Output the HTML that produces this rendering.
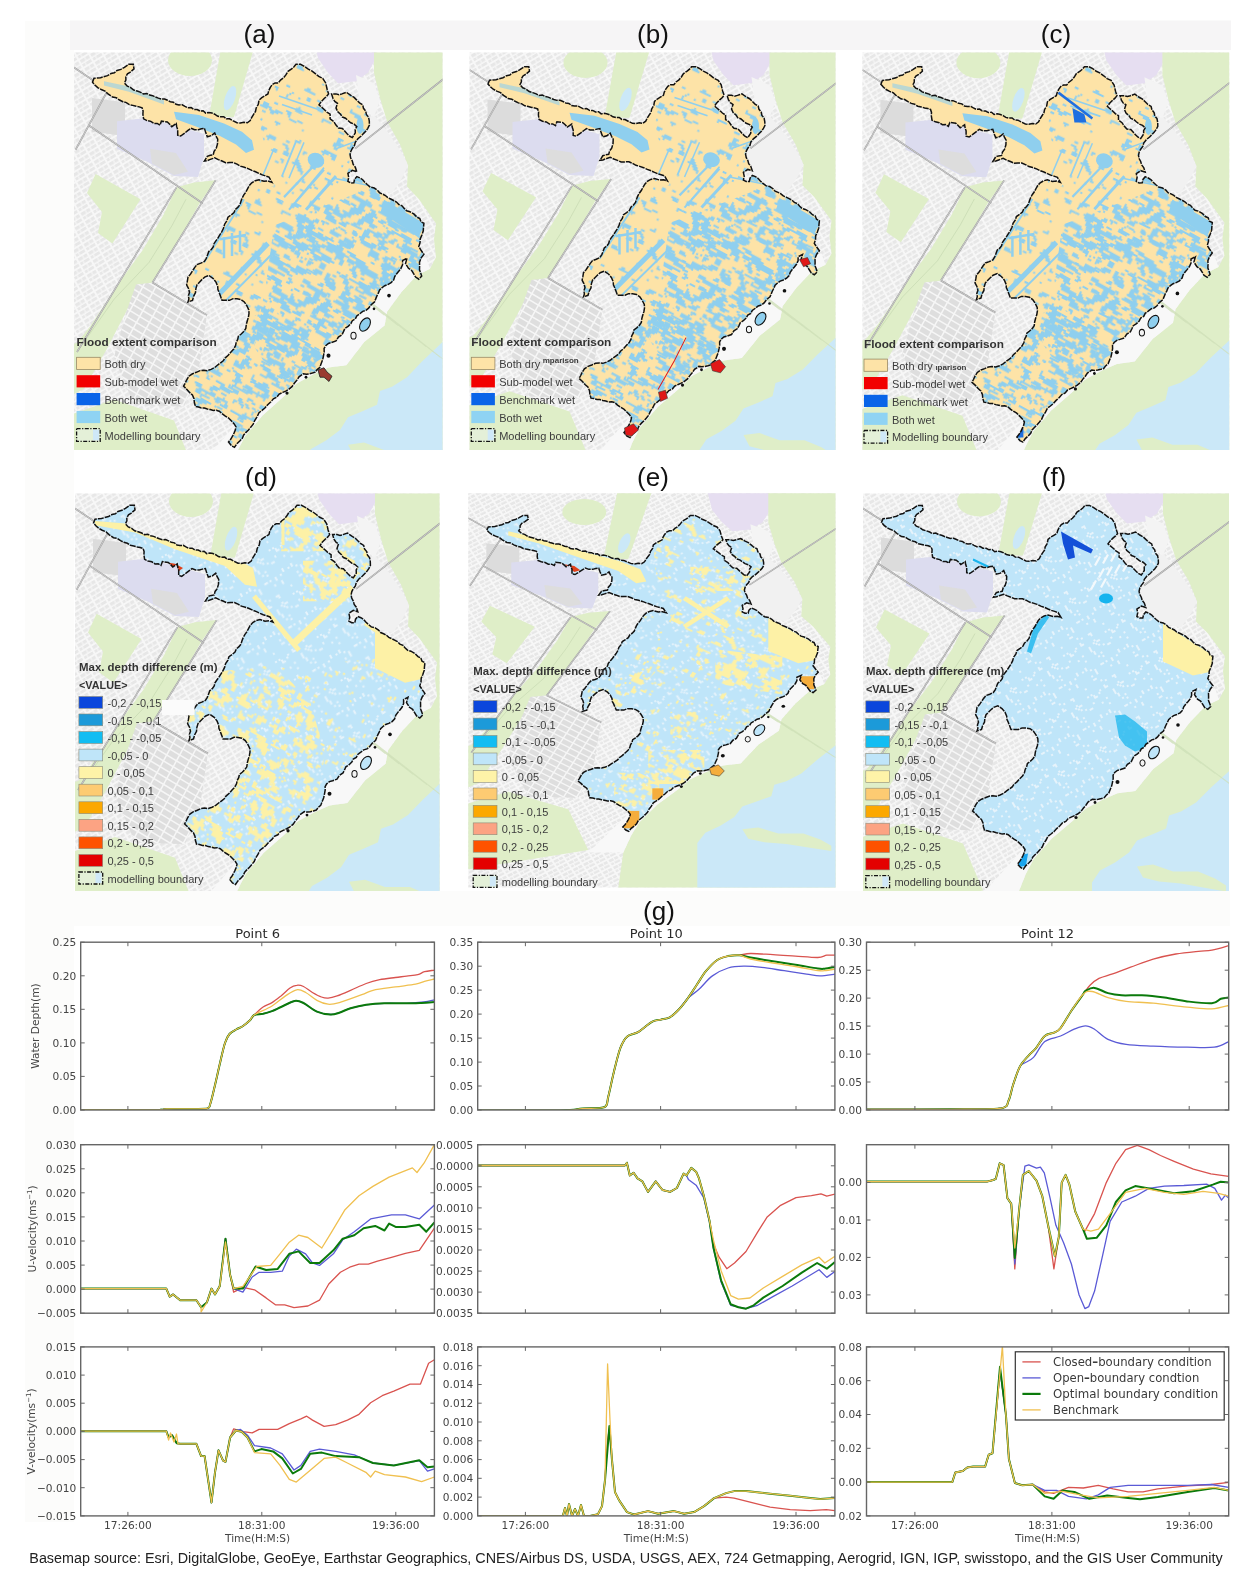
<!DOCTYPE html><html><head><meta charset="utf-8"><title>Flood extent comparison figure</title><style>html,body{margin:0;padding:0;background:#fff;}body{width:1249px;height:1580px;overflow:hidden;position:relative;}svg{display:block}body>svg{filter:blur(0.35px)}.tk{font-family:"DejaVu Sans",sans-serif;font-size:10.6px;fill:#444}.ct{font-family:"DejaVu Sans",sans-serif;font-size:13px;fill:#2a2a2a}.lg{font-family:"DejaVu Sans",sans-serif;font-size:11.6px;fill:#3a3a3a}.pt{font-family:"Liberation Sans",Arial,sans-serif;font-size:26px;fill:#111}.lgt{font-family:"Liberation Sans",Arial,sans-serif;font-size:11.6px;font-weight:bold;fill:#333}.lgl{font-family:"Liberation Sans",Arial,sans-serif;font-size:11px;fill:#3c3c3c}.lgs{font-family:"Liberation Sans",Arial,sans-serif;font-size:8px;font-weight:bold;fill:#3c3c3c}.cap{font-family:"Liberation Sans",Arial,sans-serif;font-size:14.35px;fill:#222}</style></head><body><svg width="1249" height="1580" viewBox="0 0 1249 1580"><defs><pattern id="urb" width="12" height="9" patternUnits="userSpaceOnUse" patternTransform="rotate(-30)"><path fill="#e7e7e7" d="M1 1h5v3h-5zM7 1h4v3h-4zM1 5.5h3v2.5h-3zM5 5.5h6v2.5h-6z"/></pattern><pattern id="wet_hi" width="96" height="96" patternUnits="userSpaceOnUse" patternTransform="rotate(28)"><path fill="#8fcfee" d="M26 0h12v2h-12zM42 0h10v2h-10zM66 0h2v2h-2zM72 0h22v2h-22zM26 2h10v2h-10zM40 2h12v2h-12zM68 2h8v2h-8zM88 2h8v2h-8zM12 4h2v2h-2zM26 4h6v2h-6zM40 4h18v2h-18zM70 4h2v2h-2zM90 4h2v2h-2zM0 6h2v2h-2zM12 6h4v2h-4zM20 6h10v2h-10zM38 6h6v2h-6zM50 6h6v2h-6zM66 6h6v2h-6zM78 6h4v2h-4zM88 6h8v2h-8zM0 8h10v2h-10zM12 8h6v2h-6zM22 8h8v2h-8zM38 8h6v2h-6zM60 8h6v2h-6zM68 8h4v2h-4zM76 8h4v2h-4zM88 8h8v2h-8zM0 10h26v2h-26zM38 10h4v2h-4zM50 10h20v2h-20zM74 10h6v2h-6zM90 10h6v2h-6zM4 12h4v2h-4zM12 12h12v2h-12zM48 12h6v2h-6zM58 12h6v2h-6zM68 12h6v2h-6zM4 14h8v2h-8zM22 14h2v2h-2zM28 14h4v2h-4zM48 14h6v2h-6zM64 14h8v2h-8zM4 16h12v2h-12zM24 16h6v2h-6zM48 16h8v2h-8zM66 16h6v2h-6zM8 18h10v2h-10zM22 18h8v2h-8zM38 18h4v2h-4zM48 18h4v2h-4zM66 18h2v2h-2zM90 18h2v2h-2zM8 20h12v2h-12zM38 20h6v2h-6zM46 20h6v2h-6zM60 20h6v2h-6zM76 20h2v2h-2zM92 20h2v2h-2zM26 22h6v2h-6zM48 22h18v2h-18zM84 22h6v2h-6zM10 24h4v2h-4zM40 24h2v2h-2zM50 24h14v2h-14zM0 26h4v2h-4zM42 26h4v2h-4zM62 26h10v2h-10zM0 28h4v2h-4zM18 28h12v2h-12zM34 28h10v2h-10zM62 28h10v2h-10zM84 28h2v2h-2zM94 28h2v2h-2zM18 30h10v2h-10zM34 30h12v2h-12zM62 30h12v2h-12zM80 30h16v2h-16zM0 32h2v2h-2zM6 32h6v2h-6zM30 32h6v2h-6zM38 32h8v2h-8zM70 32h2v2h-2zM78 32h18v2h-18zM0 34h4v2h-4zM22 34h2v2h-2zM30 34h14v2h-14zM78 34h10v2h-10zM92 34h4v2h-4zM0 36h2v2h-2zM8 36h6v2h-6zM16 36h10v2h-10zM32 36h4v2h-4zM68 36h4v2h-4zM80 36h6v2h-6zM90 36h6v2h-6zM0 38h20v2h-20zM30 38h8v2h-8zM42 38h10v2h-10zM82 38h14v2h-14zM0 40h18v2h-18zM20 40h18v2h-18zM46 40h18v2h-18zM82 40h8v2h-8zM92 40h4v2h-4zM0 42h4v2h-4zM22 42h20v2h-20zM54 42h14v2h-14zM84 42h6v2h-6zM94 42h2v2h-2zM0 44h4v2h-4zM22 44h20v2h-20zM46 44h34v2h-34zM88 44h8v2h-8zM8 46h2v2h-2zM22 46h8v2h-8zM34 46h8v2h-8zM46 46h8v2h-8zM56 46h26v2h-26zM88 46h8v2h-8zM8 48h6v2h-6zM34 48h10v2h-10zM54 48h4v2h-4zM62 48h18v2h-18zM86 48h6v2h-6zM8 50h10v2h-10zM34 50h2v2h-2zM40 50h4v2h-4zM54 50h4v2h-4zM64 50h4v2h-4zM78 50h4v2h-4zM86 50h4v2h-4zM0 52h6v2h-6zM10 52h22v2h-22zM40 52h4v2h-4zM52 52h8v2h-8zM78 52h8v2h-8zM94 52h2v2h-2zM0 54h14v2h-14zM22 54h14v2h-14zM56 54h6v2h-6zM66 54h4v2h-4zM76 54h8v2h-8zM86 54h10v2h-10zM0 56h6v2h-6zM10 56h22v2h-22zM58 56h4v2h-4zM86 56h10v2h-10zM0 58h4v2h-4zM14 58h10v2h-10zM66 58h12v2h-12zM90 58h6v2h-6zM16 60h4v2h-4zM24 60h6v2h-6zM42 60h4v2h-4zM56 60h24v2h-24zM94 60h2v2h-2zM0 62h2v2h-2zM12 62h4v2h-4zM24 62h6v2h-6zM46 62h10v2h-10zM68 62h20v2h-20zM92 62h4v2h-4zM0 64h2v2h-2zM8 64h2v2h-2zM24 64h6v2h-6zM52 64h6v2h-6zM66 64h2v2h-2zM74 64h10v2h-10zM92 64h4v2h-4zM0 66h2v2h-2zM34 66h4v2h-4zM52 66h6v2h-6zM66 66h10v2h-10zM4 68h4v2h-4zM12 68h2v2h-2zM34 68h4v2h-4zM56 68h4v2h-4zM22 70h4v2h-4zM34 70h6v2h-6zM56 70h6v2h-6zM84 70h6v2h-6zM14 72h12v2h-12zM34 72h12v2h-12zM58 72h6v2h-6zM68 72h8v2h-8zM84 72h8v2h-8zM4 74h12v2h-12zM36 74h12v2h-12zM56 74h8v2h-8zM70 74h6v2h-6zM4 76h12v2h-12zM38 76h10v2h-10zM56 76h4v2h-4zM64 76h18v2h-18zM0 78h14v2h-14zM56 78h14v2h-14zM74 78h22v2h-22zM0 80h8v2h-8zM56 80h10v2h-10zM74 80h14v2h-14zM16 82h8v2h-8zM36 82h2v2h-2zM72 82h22v2h-22zM16 84h28v2h-28zM54 84h14v2h-14zM84 84h12v2h-12zM22 86h22v2h-22zM52 86h16v2h-16zM2 88h4v2h-4zM16 88h4v2h-4zM32 88h6v2h-6zM44 88h6v2h-6zM62 88h32v2h-32zM4 90h4v2h-4zM32 90h6v2h-6zM46 90h6v2h-6zM64 90h22v2h-22zM2 92h4v2h-4zM24 92h6v2h-6zM32 92h8v2h-8zM44 92h10v2h-10zM58 92h6v2h-6zM66 92h10v2h-10zM12 94h6v2h-6zM28 94h10v2h-10zM42 94h8v2h-8zM56 94h6v2h-6zM82 94h12v2h-12z"/></pattern><pattern id="wet_mid" width="96" height="96" patternUnits="userSpaceOnUse" patternTransform="rotate(28)"><path fill="#8fcfee" d="M0 0h6v2h-6zM16 0h20v2h-20zM40 0h6v2h-6zM62 0h6v2h-6zM94 0h2v2h-2zM0 2h4v2h-4zM20 2h16v2h-16zM40 2h4v2h-4zM94 2h2v2h-2zM0 4h6v2h-6zM32 4h6v2h-6zM48 4h12v2h-12zM68 4h8v2h-8zM0 6h8v2h-8zM12 6h8v2h-8zM26 6h2v2h-2zM30 6h8v2h-8zM48 6h12v2h-12zM66 6h8v2h-8zM76 6h2v2h-2zM0 8h4v2h-4zM10 8h26v2h-26zM50 8h2v2h-2zM56 8h24v2h-24zM94 8h2v2h-2zM2 10h2v2h-2zM16 10h6v2h-6zM26 10h2v2h-2zM34 10h2v2h-2zM46 10h6v2h-6zM58 10h24v2h-24zM0 12h18v2h-18zM42 12h8v2h-8zM58 12h4v2h-4zM66 12h4v2h-4zM0 14h2v2h-2zM40 14h12v2h-12zM56 14h2v2h-2zM68 14h2v2h-2zM20 16h6v2h-6zM34 16h6v2h-6zM48 16h6v2h-6zM70 16h2v2h-2zM80 16h10v2h-10zM0 18h4v2h-4zM20 18h2v2h-2zM34 18h6v2h-6zM50 18h4v2h-4zM70 18h4v2h-4zM86 18h10v2h-10zM0 20h2v2h-2zM12 20h4v2h-4zM38 20h6v2h-6zM86 20h10v2h-10zM12 22h6v2h-6zM20 22h4v2h-4zM28 22h4v2h-4zM38 22h6v2h-6zM58 22h2v2h-2zM80 22h4v2h-4zM8 24h4v2h-4zM14 24h2v2h-2zM22 24h4v2h-4zM38 24h8v2h-8zM90 24h6v2h-6zM8 26h2v2h-2zM38 26h10v2h-10zM36 28h10v2h-10zM80 28h6v2h-6zM24 30h2v2h-2zM32 30h12v2h-12zM50 30h6v2h-6zM68 30h18v2h-18zM2 32h4v2h-4zM22 32h14v2h-14zM48 32h6v2h-6zM66 32h6v2h-6zM76 32h2v2h-2zM92 32h2v2h-2zM0 34h6v2h-6zM10 34h18v2h-18zM66 34h6v2h-6zM94 34h2v2h-2zM20 36h6v2h-6zM40 36h4v2h-4zM20 38h2v2h-2zM36 38h6v2h-6zM56 38h6v2h-6zM74 38h12v2h-12zM90 38h2v2h-2zM0 40h4v2h-4zM70 40h12v2h-12zM18 42h10v2h-10zM64 42h14v2h-14zM2 44h6v2h-6zM22 44h4v2h-4zM32 44h4v2h-4zM60 44h2v2h-2zM68 44h2v2h-2zM74 44h2v2h-2zM86 44h4v2h-4zM0 46h14v2h-14zM70 46h8v2h-8zM0 48h8v2h-8zM48 48h6v2h-6zM60 48h4v2h-4zM94 48h2v2h-2zM0 50h14v2h-14zM28 50h4v2h-4zM48 50h8v2h-8zM62 50h2v2h-2zM94 50h2v2h-2zM28 52h6v2h-6zM36 52h6v2h-6zM50 52h6v2h-6zM58 52h6v2h-6zM24 54h4v2h-4zM32 54h10v2h-10zM50 54h4v2h-4zM58 54h8v2h-8zM70 54h2v2h-2zM34 56h6v2h-6zM58 56h4v2h-4zM66 56h4v2h-4zM80 56h4v2h-4zM92 56h4v2h-4zM0 58h2v2h-2zM34 58h4v2h-4zM60 58h8v2h-8zM78 58h12v2h-12zM92 58h4v2h-4zM22 60h4v2h-4zM62 60h2v2h-2zM80 60h8v2h-8zM94 60h2v2h-2zM12 62h6v2h-6zM22 62h4v2h-4zM32 62h2v2h-2zM82 62h6v2h-6zM12 64h2v2h-2zM32 64h2v2h-2zM52 64h4v2h-4zM74 64h16v2h-16zM18 66h2v2h-2zM46 66h2v2h-2zM52 66h6v2h-6zM76 66h18v2h-18zM18 68h16v2h-16zM42 68h2v2h-2zM52 68h4v2h-4zM70 68h10v2h-10zM88 68h8v2h-8zM20 70h8v2h-8zM42 70h6v2h-6zM60 70h2v2h-2zM72 70h4v2h-4zM90 70h4v2h-4zM20 72h6v2h-6zM38 72h2v2h-2zM44 72h4v2h-4zM62 72h8v2h-8zM90 72h6v2h-6zM64 74h6v2h-6zM86 74h8v2h-8zM18 76h2v2h-2zM42 76h2v2h-2zM66 76h8v2h-8zM84 76h10v2h-10zM2 78h4v2h-4zM16 78h12v2h-12zM40 78h10v2h-10zM68 78h4v2h-4zM82 78h6v2h-6zM0 80h4v2h-4zM10 80h4v2h-4zM20 80h14v2h-14zM44 80h2v2h-2zM82 80h6v2h-6zM0 82h6v2h-6zM26 82h12v2h-12zM54 82h4v2h-4zM74 82h2v2h-2zM94 82h2v2h-2zM0 84h6v2h-6zM26 84h14v2h-14zM94 84h2v2h-2zM0 86h2v2h-2zM6 86h2v2h-2zM20 86h8v2h-8zM38 86h4v2h-4zM88 86h4v2h-4zM94 86h2v2h-2zM0 88h4v2h-4zM34 88h14v2h-14zM64 88h2v2h-2zM88 88h8v2h-8zM0 90h2v2h-2zM14 90h2v2h-2zM62 90h10v2h-10zM76 90h4v2h-4zM88 90h8v2h-8zM14 92h2v2h-2zM58 92h8v2h-8zM68 92h4v2h-4zM76 92h4v2h-4zM14 94h6v2h-6zM22 94h10v2h-10zM40 94h6v2h-6zM58 94h8v2h-8z"/></pattern><pattern id="wet_lo" width="96" height="96" patternUnits="userSpaceOnUse" patternTransform="rotate(25)"><path fill="#8fcfee" d="M2 0h2v2h-2zM26 0h6v2h-6zM52 0h6v2h-6zM50 2h10v2h-10zM86 2h6v2h-6zM38 4h4v2h-4zM56 4h6v2h-6zM90 4h6v2h-6zM40 6h2v2h-2zM58 6h6v2h-6zM34 8h4v2h-4zM62 8h2v2h-2zM16 12h6v2h-6zM66 12h2v2h-2zM78 12h2v2h-2zM16 14h8v2h-8zM66 14h4v2h-4zM80 14h4v2h-4zM4 16h2v2h-2zM74 16h4v2h-4zM46 18h2v2h-2zM62 18h2v2h-2zM52 22h2v2h-2zM68 22h4v2h-4zM86 22h4v2h-4zM0 26h8v2h-8zM34 28h4v2h-4zM62 28h2v2h-2zM82 28h2v2h-2zM32 30h12v2h-12zM82 30h12v2h-12zM88 32h6v2h-6zM14 34h4v2h-4zM48 34h4v2h-4zM38 36h4v2h-4zM68 36h8v2h-8zM22 38h2v2h-2zM38 38h4v2h-4zM66 38h8v2h-8zM4 40h4v2h-4zM20 40h2v2h-2zM30 40h2v2h-2zM50 40h8v2h-8zM66 40h4v2h-4zM6 42h2v2h-2zM18 42h2v2h-2zM52 42h6v2h-6zM82 42h2v2h-2zM18 44h2v2h-2zM76 44h12v2h-12zM74 46h6v2h-6zM86 46h2v2h-2zM34 48h2v2h-2zM60 48h10v2h-10zM76 48h4v2h-4zM32 50h6v2h-6zM60 50h2v2h-2zM32 52h8v2h-8zM80 52h6v2h-6zM10 54h4v2h-4zM24 56h6v2h-6zM0 58h6v2h-6zM26 58h4v2h-4zM82 58h6v2h-6zM0 60h10v2h-10zM14 60h8v2h-8zM28 60h2v2h-2zM38 60h6v2h-6zM82 60h4v2h-4zM0 62h6v2h-6zM8 62h10v2h-10zM30 62h8v2h-8zM82 62h8v2h-8zM94 62h2v2h-2zM10 64h4v2h-4zM80 64h8v2h-8zM2 66h4v2h-4zM46 66h2v2h-2zM80 66h4v2h-4zM82 68h4v2h-4zM18 70h6v2h-6zM20 72h2v2h-2zM4 74h2v2h-2zM74 74h14v2h-14zM48 76h2v2h-2zM72 76h8v2h-8zM82 76h6v2h-6zM44 78h6v2h-6zM74 78h2v2h-2zM84 78h4v2h-4zM0 80h2v2h-2zM8 80h6v2h-6zM8 82h4v2h-4zM36 82h4v2h-4zM18 84h8v2h-8zM56 84h4v2h-4zM16 86h10v2h-10zM34 86h6v2h-6zM56 86h2v2h-2zM18 88h2v2h-2zM38 88h4v2h-4zM68 88h8v2h-8zM6 90h10v2h-10zM40 90h2v2h-2zM38 92h6v2h-6zM68 92h6v2h-6zM86 92h4v2h-4zM28 94h4v2h-4zM38 94h6v2h-6zM52 94h4v2h-4zM68 94h6v2h-6z"/></pattern><pattern id="yel_hi" width="96" height="96" patternUnits="userSpaceOnUse" patternTransform="rotate(28)"><path fill="#fdf1a6" d="M0 0h6v2h-6zM14 0h6v2h-6zM26 0h14v2h-14zM54 0h6v2h-6zM82 0h10v2h-10zM0 2h4v2h-4zM16 2h16v2h-16zM40 2h2v2h-2zM50 2h10v2h-10zM68 2h2v2h-2zM72 2h6v2h-6zM86 2h10v2h-10zM8 4h22v2h-22zM38 4h4v2h-4zM46 4h2v2h-2zM50 4h8v2h-8zM66 4h16v2h-16zM86 4h6v2h-6zM94 4h2v2h-2zM8 6h16v2h-16zM34 6h4v2h-4zM42 6h16v2h-16zM64 6h18v2h-18zM12 8h10v2h-10zM30 8h4v2h-4zM44 8h2v2h-2zM48 8h10v2h-10zM62 8h22v2h-22zM94 8h2v2h-2zM12 10h10v2h-10zM30 10h2v2h-2zM52 10h10v2h-10zM64 10h18v2h-18zM0 12h2v2h-2zM10 12h14v2h-14zM52 12h8v2h-8zM62 12h18v2h-18zM86 12h2v2h-2zM10 14h14v2h-14zM42 14h4v2h-4zM52 14h14v2h-14zM72 14h8v2h-8zM84 14h4v2h-4zM4 16h18v2h-18zM28 16h4v2h-4zM34 16h2v2h-2zM40 16h28v2h-28zM72 16h4v2h-4zM82 16h10v2h-10zM2 18h16v2h-16zM26 18h48v2h-48zM80 18h12v2h-12zM14 20h22v2h-22zM40 20h10v2h-10zM66 20h4v2h-4zM80 20h4v2h-4zM86 20h8v2h-8zM8 22h6v2h-6zM18 22h16v2h-16zM44 22h4v2h-4zM84 22h10v2h-10zM2 24h2v2h-2zM8 24h4v2h-4zM18 24h18v2h-18zM42 24h10v2h-10zM64 24h2v2h-2zM70 24h2v2h-2zM84 24h10v2h-10zM2 26h4v2h-4zM12 26h2v2h-2zM20 26h18v2h-18zM42 26h4v2h-4zM48 26h6v2h-6zM60 26h6v2h-6zM84 26h4v2h-4zM2 28h4v2h-4zM12 28h4v2h-4zM30 28h6v2h-6zM48 28h6v2h-6zM56 28h10v2h-10zM92 28h2v2h-2zM2 30h4v2h-4zM12 30h4v2h-4zM32 30h4v2h-4zM42 30h10v2h-10zM58 30h8v2h-8zM82 30h2v2h-2zM0 32h8v2h-8zM18 32h4v2h-4zM30 32h4v2h-4zM44 32h2v2h-2zM48 32h2v2h-2zM58 32h8v2h-8zM72 32h24v2h-24zM16 34h4v2h-4zM30 34h4v2h-4zM62 34h8v2h-8zM74 34h12v2h-12zM90 34h6v2h-6zM30 36h6v2h-6zM62 36h4v2h-4zM74 36h10v2h-10zM92 36h4v2h-4zM10 38h2v2h-2zM28 38h8v2h-8zM48 38h2v2h-2zM60 38h4v2h-4zM68 38h14v2h-14zM90 38h2v2h-2zM22 40h28v2h-28zM66 40h20v2h-20zM2 42h4v2h-4zM24 42h26v2h-26zM70 42h4v2h-4zM78 42h6v2h-6zM88 42h6v2h-6zM6 44h2v2h-2zM12 44h4v2h-4zM18 44h4v2h-4zM24 44h10v2h-10zM36 44h14v2h-14zM70 44h8v2h-8zM84 44h12v2h-12zM0 46h2v2h-2zM8 46h6v2h-6zM16 46h8v2h-8zM26 46h8v2h-8zM36 46h12v2h-12zM68 46h10v2h-10zM84 46h4v2h-4zM0 48h4v2h-4zM6 48h8v2h-8zM16 48h6v2h-6zM26 48h10v2h-10zM40 48h8v2h-8zM50 48h2v2h-2zM58 48h2v2h-2zM62 48h6v2h-6zM72 48h6v2h-6zM4 50h8v2h-8zM18 50h18v2h-18zM44 50h16v2h-16zM72 50h8v2h-8zM88 50h6v2h-6zM4 52h6v2h-6zM18 52h18v2h-18zM44 52h16v2h-16zM72 52h10v2h-10zM88 52h8v2h-8zM0 54h8v2h-8zM22 54h6v2h-6zM36 54h4v2h-4zM44 54h6v2h-6zM56 54h8v2h-8zM66 54h6v2h-6zM74 54h10v2h-10zM88 54h8v2h-8zM10 56h4v2h-4zM22 56h6v2h-6zM34 56h10v2h-10zM58 56h14v2h-14zM78 56h6v2h-6zM90 56h2v2h-2zM20 58h8v2h-8zM32 58h12v2h-12zM60 58h10v2h-10zM76 58h10v2h-10zM0 60h6v2h-6zM14 60h6v2h-6zM32 60h10v2h-10zM48 60h2v2h-2zM66 60h14v2h-14zM92 60h4v2h-4zM0 62h4v2h-4zM36 62h6v2h-6zM46 62h6v2h-6zM56 62h4v2h-4zM68 62h12v2h-12zM86 62h10v2h-10zM2 64h2v2h-2zM22 64h2v2h-2zM38 64h4v2h-4zM48 64h16v2h-16zM70 64h6v2h-6zM82 64h10v2h-10zM20 66h6v2h-6zM28 66h6v2h-6zM58 66h4v2h-4zM70 66h10v2h-10zM82 66h6v2h-6zM0 68h6v2h-6zM24 68h14v2h-14zM60 68h2v2h-2zM72 68h4v2h-4zM82 68h4v2h-4zM0 70h6v2h-6zM26 70h2v2h-2zM38 70h2v2h-2zM44 70h10v2h-10zM84 70h2v2h-2zM0 72h12v2h-12zM26 72h2v2h-2zM30 72h4v2h-4zM42 72h10v2h-10zM74 72h22v2h-22zM0 74h10v2h-10zM16 74h2v2h-2zM26 74h8v2h-8zM40 74h14v2h-14zM64 74h8v2h-8zM76 74h20v2h-20zM0 76h10v2h-10zM30 76h6v2h-6zM38 76h20v2h-20zM60 76h18v2h-18zM80 76h10v2h-10zM92 76h4v2h-4zM0 78h10v2h-10zM30 78h36v2h-36zM68 78h24v2h-24zM94 78h2v2h-2zM0 80h10v2h-10zM26 80h10v2h-10zM38 80h12v2h-12zM58 80h2v2h-2zM64 80h4v2h-4zM70 80h10v2h-10zM0 82h18v2h-18zM22 82h10v2h-10zM48 82h8v2h-8zM66 82h14v2h-14zM88 82h2v2h-2zM0 84h14v2h-14zM48 84h8v2h-8zM68 84h4v2h-4zM76 84h6v2h-6zM0 86h12v2h-12zM34 86h6v2h-6zM42 86h14v2h-14zM66 86h4v2h-4zM74 86h16v2h-16zM0 88h14v2h-14zM32 88h6v2h-6zM40 88h10v2h-10zM52 88h8v2h-8zM66 88h30v2h-30zM0 90h10v2h-10zM12 90h4v2h-4zM18 90h8v2h-8zM34 90h16v2h-16zM52 90h24v2h-24zM88 90h8v2h-8zM6 92h6v2h-6zM20 92h8v2h-8zM30 92h12v2h-12zM54 92h10v2h-10zM68 92h28v2h-28zM8 94h2v2h-2zM22 94h18v2h-18zM56 94h6v2h-6zM70 94h22v2h-22z"/></pattern><pattern id="yel_mid" width="96" height="96" patternUnits="userSpaceOnUse" patternTransform="rotate(28)"><path fill="#fdf1a6" d="M6 0h10v2h-10zM26 0h6v2h-6zM44 0h14v2h-14zM84 0h2v2h-2zM88 0h4v2h-4zM8 2h6v2h-6zM26 2h10v2h-10zM46 2h14v2h-14zM84 2h2v2h-2zM88 2h4v2h-4zM0 4h4v2h-4zM32 4h8v2h-8zM46 4h12v2h-12zM74 4h2v2h-2zM0 6h4v2h-4zM20 6h4v2h-4zM30 6h10v2h-10zM66 6h2v2h-2zM72 6h8v2h-8zM88 6h4v2h-4zM94 6h2v2h-2zM0 8h6v2h-6zM16 8h4v2h-4zM22 8h4v2h-4zM30 8h8v2h-8zM70 8h10v2h-10zM84 8h8v2h-8zM94 8h2v2h-2zM16 10h18v2h-18zM52 10h2v2h-2zM70 10h6v2h-6zM90 10h6v2h-6zM18 12h16v2h-16zM52 12h2v2h-2zM70 12h6v2h-6zM90 12h6v2h-6zM18 14h2v2h-2zM28 14h2v2h-2zM32 14h4v2h-4zM52 14h8v2h-8zM68 14h2v2h-2zM26 16h4v2h-4zM52 16h8v2h-8zM0 18h4v2h-4zM10 18h4v2h-4zM72 18h2v2h-2zM0 20h2v2h-2zM8 20h6v2h-6zM22 20h4v2h-4zM68 20h8v2h-8zM94 20h2v2h-2zM0 22h2v2h-2zM8 22h6v2h-6zM22 22h4v2h-4zM38 22h6v2h-6zM70 22h16v2h-16zM0 24h8v2h-8zM16 24h4v2h-4zM24 24h2v2h-2zM40 24h6v2h-6zM66 24h4v2h-4zM78 24h10v2h-10zM94 24h2v2h-2zM58 26h4v2h-4zM66 26h4v2h-4zM84 26h8v2h-8zM58 28h14v2h-14zM78 28h14v2h-14zM16 30h6v2h-6zM26 30h2v2h-2zM60 30h12v2h-12zM82 30h14v2h-14zM10 32h2v2h-2zM14 32h8v2h-8zM40 32h6v2h-6zM62 32h6v2h-6zM70 32h4v2h-4zM82 32h12v2h-12zM18 34h4v2h-4zM30 34h4v2h-4zM38 34h14v2h-14zM56 34h12v2h-12zM78 34h2v2h-2zM88 34h6v2h-6zM12 36h2v2h-2zM20 36h2v2h-2zM34 36h18v2h-18zM60 36h10v2h-10zM90 36h4v2h-4zM4 38h12v2h-12zM22 38h4v2h-4zM36 38h4v2h-4zM44 38h6v2h-6zM66 38h2v2h-2zM2 40h14v2h-14zM20 40h6v2h-6zM44 40h4v2h-4zM56 40h4v2h-4zM6 42h8v2h-8zM48 42h4v2h-4zM56 42h4v2h-4zM72 42h2v2h-2zM80 42h2v2h-2zM88 42h4v2h-4zM8 44h4v2h-4zM34 44h4v2h-4zM48 44h6v2h-6zM78 44h4v2h-4zM90 44h2v2h-2zM24 46h2v2h-2zM36 46h2v2h-2zM50 46h4v2h-4zM78 46h14v2h-14zM6 48h10v2h-10zM26 48h2v2h-2zM50 48h8v2h-8zM78 48h10v2h-10zM2 50h16v2h-16zM24 50h2v2h-2zM46 50h10v2h-10zM74 50h10v2h-10zM0 52h18v2h-18zM38 52h18v2h-18zM78 52h4v2h-4zM94 52h2v2h-2zM0 54h10v2h-10zM12 54h6v2h-6zM34 54h8v2h-8zM44 54h4v2h-4zM50 54h6v2h-6zM82 54h2v2h-2zM94 54h2v2h-2zM14 56h6v2h-6zM36 56h6v2h-6zM44 56h4v2h-4zM52 56h2v2h-2zM18 58h8v2h-8zM40 58h2v2h-2zM52 58h4v2h-4zM72 58h4v2h-4zM80 58h8v2h-8zM18 60h6v2h-6zM62 60h12v2h-12zM78 60h12v2h-12zM16 62h10v2h-10zM62 62h20v2h-20zM0 64h2v2h-2zM12 64h6v2h-6zM30 64h2v2h-2zM70 64h10v2h-10zM14 66h6v2h-6zM26 66h6v2h-6zM42 66h4v2h-4zM52 66h2v2h-2zM74 66h2v2h-2zM84 66h4v2h-4zM4 68h12v2h-12zM20 68h12v2h-12zM58 68h4v2h-4zM76 68h12v2h-12zM6 70h8v2h-8zM42 70h4v2h-4zM58 70h2v2h-2zM76 70h10v2h-10zM88 70h2v2h-2zM2 72h8v2h-8zM40 72h6v2h-6zM56 72h4v2h-4zM80 72h4v2h-4zM90 72h2v2h-2zM0 74h6v2h-6zM8 74h12v2h-12zM62 74h4v2h-4zM80 74h12v2h-12zM0 76h4v2h-4zM14 76h16v2h-16zM62 76h6v2h-6zM0 78h2v2h-2zM18 78h6v2h-6zM28 78h2v2h-2zM56 78h2v2h-2zM80 78h6v2h-6zM94 78h2v2h-2zM8 80h4v2h-4zM18 80h6v2h-6zM26 80h6v2h-6zM56 80h2v2h-2zM80 80h8v2h-8zM8 82h6v2h-6zM18 82h14v2h-14zM40 82h2v2h-2zM54 82h4v2h-4zM62 82h4v2h-4zM82 82h6v2h-6zM0 84h2v2h-2zM6 84h10v2h-10zM18 84h16v2h-16zM40 84h2v2h-2zM56 84h2v2h-2zM62 84h6v2h-6zM72 84h4v2h-4zM84 84h4v2h-4zM94 84h2v2h-2zM8 86h8v2h-8zM20 86h8v2h-8zM32 86h6v2h-6zM62 86h4v2h-4zM70 86h6v2h-6zM84 86h2v2h-2zM2 88h2v2h-2zM10 88h4v2h-4zM22 88h4v2h-4zM32 88h6v2h-6zM50 88h2v2h-2zM62 88h4v2h-4zM74 88h2v2h-2zM0 90h4v2h-4zM12 90h2v2h-2zM22 90h4v2h-4zM34 90h4v2h-4zM48 90h4v2h-4zM60 90h8v2h-8zM0 92h2v2h-2zM12 92h2v2h-2zM34 92h4v2h-4zM46 92h6v2h-6zM56 92h6v2h-6zM64 92h8v2h-8zM28 94h4v2h-4zM46 94h6v2h-6z"/></pattern><pattern id="yel_vlo" width="96" height="96" patternUnits="userSpaceOnUse" patternTransform="rotate(28)"><path fill="#fdf1a6" d="M16 0h2v2h-2zM42 0h4v2h-4zM50 0h2v2h-2zM54 0h2v2h-2zM12 2h2v2h-2zM50 2h2v2h-2zM2 4h2v2h-2zM2 6h2v2h-2zM8 6h2v2h-2zM70 6h2v2h-2zM36 8h2v2h-2zM46 8h2v2h-2zM64 8h2v2h-2zM42 10h2v2h-2zM60 10h6v2h-6zM70 10h2v2h-2zM54 12h2v2h-2zM92 12h2v2h-2zM26 14h2v2h-2zM38 14h2v2h-2zM54 14h2v2h-2zM36 16h4v2h-4zM36 18h2v2h-2zM48 20h4v2h-4zM48 22h2v2h-2zM86 22h2v2h-2zM82 24h2v2h-2zM86 24h2v2h-2zM30 26h2v2h-2zM80 26h4v2h-4zM22 28h4v2h-4zM82 28h2v2h-2zM24 30h2v2h-2zM14 34h2v2h-2zM18 34h4v2h-4zM14 36h2v2h-2zM46 38h2v2h-2zM68 38h2v2h-2zM80 38h2v2h-2zM44 40h2v2h-2zM18 42h2v2h-2zM0 46h4v2h-4zM48 46h2v2h-2zM94 46h2v2h-2zM2 48h2v2h-2zM20 48h2v2h-2zM94 48h2v2h-2zM0 50h2v2h-2zM70 50h2v2h-2zM88 50h4v2h-4zM4 54h2v2h-2zM4 56h4v2h-4zM68 56h2v2h-2zM4 58h2v2h-2zM14 58h4v2h-4zM68 58h2v2h-2zM0 64h4v2h-4zM16 64h2v2h-2zM88 64h4v2h-4zM0 66h4v2h-4zM86 66h6v2h-6zM0 68h4v2h-4zM6 68h2v2h-2zM32 68h2v2h-2zM76 68h2v2h-2zM6 70h2v2h-2zM40 70h2v2h-2zM76 70h2v2h-2zM38 72h4v2h-4zM38 74h4v2h-4zM50 74h2v2h-2zM38 76h4v2h-4zM48 76h2v2h-2zM68 76h2v2h-2zM84 76h2v2h-2zM48 78h2v2h-2zM64 78h8v2h-8zM92 78h2v2h-2zM50 84h2v2h-2zM28 88h2v2h-2zM34 88h2v2h-2zM76 88h2v2h-2zM12 90h4v2h-4zM54 90h2v2h-2zM74 90h2v2h-2zM88 90h2v2h-2zM68 92h2v2h-2zM72 92h4v2h-4zM50 94h2v2h-2zM66 94h2v2h-2z"/></pattern><pattern id="yel_lo" width="96" height="96" patternUnits="userSpaceOnUse" patternTransform="rotate(28)"><path fill="#fdf1a6" d="M88 0h4v2h-4zM66 2h4v2h-4zM88 2h2v2h-2zM0 4h4v2h-4zM14 4h2v2h-2zM76 4h2v2h-2zM2 6h4v2h-4zM82 6h4v2h-4zM4 8h4v2h-4zM82 8h4v2h-4zM16 10h2v2h-2zM50 10h6v2h-6zM8 12h12v2h-12zM50 12h4v2h-4zM0 14h2v2h-2zM12 14h10v2h-10zM48 14h2v2h-2zM16 16h8v2h-8zM30 16h4v2h-4zM46 16h4v2h-4zM54 16h2v2h-2zM20 18h6v2h-6zM28 18h8v2h-8zM48 18h14v2h-14zM80 18h6v2h-6zM22 20h4v2h-4zM48 20h12v2h-12zM78 20h8v2h-8zM4 22h6v2h-6zM66 22h8v2h-8zM0 24h12v2h-12zM22 26h4v2h-4zM94 26h2v2h-2zM14 32h4v2h-4zM86 34h2v2h-2zM0 36h6v2h-6zM34 36h4v2h-4zM48 36h2v2h-2zM86 36h10v2h-10zM36 38h2v2h-2zM52 38h2v2h-2zM76 38h2v2h-2zM88 38h6v2h-6zM74 40h4v2h-4zM90 40h2v2h-2zM72 42h4v2h-4zM90 42h4v2h-4zM4 44h4v2h-4zM62 44h4v2h-4zM90 44h4v2h-4zM4 46h6v2h-6zM62 46h4v2h-4zM6 48h16v2h-16zM46 48h2v2h-2zM54 48h2v2h-2zM0 50h2v2h-2zM10 50h4v2h-4zM68 50h4v2h-4zM94 50h2v2h-2zM0 52h4v2h-4zM10 52h2v2h-2zM26 52h4v2h-4zM94 52h2v2h-2zM10 54h2v2h-2zM14 56h6v2h-6zM44 56h6v2h-6zM70 56h2v2h-2zM90 56h6v2h-6zM16 58h4v2h-4zM68 58h2v2h-2zM92 58h4v2h-4zM0 60h4v2h-4zM16 60h2v2h-2zM40 60h4v2h-4zM92 60h4v2h-4zM14 62h6v2h-6zM74 62h2v2h-2zM46 64h6v2h-6zM64 66h8v2h-8zM60 68h14v2h-14zM40 70h8v2h-8zM52 70h4v2h-4zM84 70h4v2h-4zM90 70h2v2h-2zM6 72h2v2h-2zM60 72h4v2h-4zM6 74h2v2h-2zM14 74h2v2h-2zM24 74h2v2h-2zM54 74h8v2h-8zM6 76h6v2h-6zM20 76h4v2h-4zM56 76h2v2h-2zM6 78h6v2h-6zM18 78h2v2h-2zM6 80h14v2h-14zM68 80h2v2h-2zM8 82h2v2h-2zM66 82h4v2h-4zM66 84h4v2h-4zM74 86h4v2h-4zM30 88h2v2h-2zM50 88h4v2h-4zM56 88h4v2h-4zM72 88h12v2h-12zM28 90h6v2h-6zM38 90h4v2h-4zM56 90h4v2h-4zM76 90h4v2h-4zM0 92h4v2h-4zM32 92h2v2h-2zM36 92h12v2h-12zM78 92h4v2h-4zM94 92h2v2h-2zM2 94h4v2h-4zM16 94h6v2h-6zM32 94h6v2h-6zM44 94h4v2h-4z"/></pattern><pattern id="white_dots" width="48" height="48" patternUnits="userSpaceOnUse" patternTransform="rotate(-30)"><path fill="#e6f3fb" d="M0 0h2v2h-2zM10 0h2v2h-2zM16 0h4v2h-4zM44 0h2v2h-2zM2 2h2v2h-2zM8 2h2v2h-2zM30 2h2v2h-2zM2 4h4v2h-4zM28 4h2v2h-2zM32 4h4v2h-4zM22 6h2v2h-2zM30 6h2v2h-2zM22 8h2v2h-2zM32 8h2v2h-2zM46 8h2v2h-2zM12 10h2v2h-2zM22 10h2v2h-2zM36 10h2v2h-2zM6 12h2v2h-2zM24 12h2v2h-2zM40 12h4v2h-4zM24 14h2v2h-2zM12 16h2v2h-2zM30 16h2v2h-2zM26 18h2v2h-2zM30 20h2v2h-2zM8 22h2v2h-2zM46 22h2v2h-2zM4 24h2v2h-2zM8 24h2v2h-2zM46 24h2v2h-2zM12 26h2v2h-2zM24 26h4v2h-4zM30 26h2v2h-2zM36 26h2v2h-2zM42 26h2v2h-2zM16 28h2v2h-2zM36 28h2v2h-2zM16 30h2v2h-2zM10 32h2v2h-2zM16 32h2v2h-2zM32 32h2v2h-2zM40 32h2v2h-2zM40 34h2v2h-2zM10 36h4v2h-4zM16 40h2v2h-2zM46 40h2v2h-2zM20 42h2v2h-2zM28 42h4v2h-4zM30 44h2v2h-2zM16 46h2v2h-2z"/></pattern><clipPath id="gbclip"><polygon points="62.0,221.0 80.0,219.0 133.0,250.0 125.0,300.0 110.0,337.0 60.0,335.0 40.0,290.0 52.0,248.0"/></clipPath><clipPath id="floodclip"><polygon points="18.5,28.9 20.0,25.2 23.2,24.9 26.5,24.6 29.6,23.7 33.5,22.7 37.0,20.7 40.3,20.0 43.0,17.8 46.9,16.7 50.4,14.8 54.8,11.9 59.3,11.9 60.0,16.3 56.3,19.3 53.5,21.0 51.8,23.7 51.9,26.8 50.4,29.6 53.3,32.6 56.7,34.0 59.7,36.3 63.2,37.3 66.7,38.5 69.5,40.1 72.8,39.6 75.6,41.1 78.7,41.7 81.5,43.0 84.4,44.0 87.4,44.9 90.6,44.8 93.5,46.0 96.3,47.4 99.4,47.9 102.0,49.9 105.0,50.5 108.2,50.3 111.0,51.8 113.8,53.2 117.2,53.0 119.9,54.7 123.2,54.8 126.0,56.3 129.1,56.0 131.7,58.2 134.9,57.6 137.9,58.2 140.7,59.3 143.4,61.0 146.4,61.7 149.7,61.6 152.3,63.6 155.5,63.7 159.2,65.6 163.0,67.4 166.4,67.7 169.9,66.9 173.3,67.4 176.2,65.3 177.8,62.2 179.6,59.4 181.5,56.6 182.2,53.3 184.3,49.9 185.0,45.9 187.8,43.6 190.8,41.8 193.9,40.0 194.8,36.8 196.3,33.8 198.3,31.1 201.1,29.6 204.3,29.6 206.5,26.9 209.4,24.8 211.7,22.2 214.0,18.6 217.6,16.3 220.0,14.3 222.0,11.9 226.5,11.9 230.3,13.8 233.9,16.3 237.8,18.2 241.3,20.7 244.7,23.4 248.7,25.2 251.7,29.6 252.4,32.6 253.1,35.6 254.6,40.0 252.6,42.4 250.2,44.4 247.2,47.4 245.0,50.4 247.6,52.6 250.2,54.8 252.9,57.3 256.1,59.3 256.1,63.7 259.6,66.1 262.0,69.6 264.5,72.3 268.4,72.8 270.9,75.5 273.1,77.8 275.4,80.0 278.3,81.5 281.3,77.0 281.2,73.8 282.8,71.1 280.1,68.7 276.7,67.4 273.9,65.2 271.5,63.1 268.4,62.0 266.5,59.3 263.6,56.8 262.0,53.3 263.5,48.9 260.8,47.1 259.0,44.4 257.6,40.0 262.0,40.0 265.0,40.8 268.0,40.0 272.4,38.5 276.8,41.5 280.1,43.3 282.8,45.9 285.5,48.5 288.7,50.4 289.5,53.7 291.7,56.3 292.4,59.6 294.6,62.2 295.3,65.9 295.4,69.6 293.8,72.7 291.7,75.5 289.4,77.7 287.2,80.0 283.9,82.6 281.3,85.9 280.4,89.2 278.3,91.8 276.8,94.6 276.1,97.8 276.7,100.9 278.3,103.7 279.2,106.9 281.3,109.6 282.8,114.0 278.3,112.6 273.9,115.5 274.7,119.2 273.9,123.0 276.7,124.5 279.8,124.4 280.6,121.1 282.8,118.5 285.9,119.7 288.7,121.5 290.8,123.9 293.2,126.0 296.3,128.5 300.2,129.4 303.5,131.5 305.6,133.9 308.6,135.1 311.4,136.5 313.8,138.5 316.7,139.8 319.6,141.2 322.5,142.7 324.9,145.0 328.0,146.2 330.2,148.7 332.7,150.9 335.9,151.8 339.8,153.9 343.0,157.0 345.8,158.3 347.0,161.5 349.9,162.8 349.5,166.5 349.2,170.2 347.9,174.0 346.2,177.6 346.0,181.4 344.8,185.0 347.2,188.7 349.9,192.3 347.2,195.7 345.5,199.7 345.6,203.3 345.5,207.0 346.7,210.0 347.7,213.0 344.8,215.9 341.6,213.9 339.6,210.7 337.6,207.6 334.5,205.6 331.5,201.1 333.0,196.0 328.6,198.2 328.6,202.1 327.0,205.6 324.9,208.2 322.7,210.7 320.7,213.4 319.7,216.6 317.1,219.3 313.8,221.0 310.7,222.1 308.0,224.0 305.6,226.2 304.3,229.2 302.8,232.0 300.5,237.5 297.2,240.1 294.6,243.4 292.0,245.5 288.7,246.4 285.8,248.7 282.8,250.8 281.3,253.7 278.3,255.3 276.8,258.2 274.1,260.7 270.9,262.7 269.5,265.7 268.0,268.6 264.4,270.9 262.0,274.5 257.6,276.0 254.4,276.9 251.7,279.0 250.1,281.7 250.2,284.9 249.5,288.6 248.7,292.3 247.2,296.0 245.7,299.7 243.2,301.7 241.3,304.2 238.4,305.0 235.4,305.7 232.4,306.1 229.4,305.7 225.0,308.6 222.9,311.7 220.5,314.5 218.0,317.9 214.6,320.5 211.7,322.1 208.7,323.4 205.2,325.0 202.8,327.9 199.4,329.4 196.9,332.3 193.7,335.1 190.9,338.2 188.0,340.5 185.0,342.7 183.1,346.5 180.7,350.1 179.2,353.5 176.9,356.3 174.5,359.0 172.0,361.3 169.7,363.7 168.3,366.9 166.0,369.3 162.9,372.1 160.5,375.5 157.5,374.0 154.5,370.5 156.7,367.9 158.5,365.0 160.0,362.0 161.3,359.1 162.0,356.0 160.0,353.0 157.0,350.1 154.3,347.5 151.0,345.6 148.0,343.6 145.2,341.2 142.3,340.3 139.2,340.6 136.3,339.7 133.3,339.2 130.4,338.2 127.4,338.2 124.5,337.2 121.5,336.8 120.4,333.2 120.0,329.4 118.4,325.9 115.5,323.4 112.7,320.3 109.6,317.5 111.2,314.6 112.6,311.6 114.9,308.0 118.5,305.7 122.3,304.3 126.0,302.7 129.7,302.3 133.3,302.7 137.1,301.5 140.7,299.7 143.6,297.4 146.6,295.3 149.2,293.4 151.0,290.8 154.2,288.1 157.0,285.0 159.7,282.3 161.5,279.0 162.2,275.9 163.7,273.1 164.4,270.0 167.2,267.9 169.7,265.6 171.8,262.7 172.3,258.9 173.3,255.3 174.4,252.0 175.0,248.5 174.8,245.0 172.8,241.1 170.3,237.5 167.0,235.2 163.0,234.5 159.1,234.4 155.5,236.0 151.8,236.0 148.0,236.0 146.6,232.3 145.2,228.6 143.9,225.8 143.7,222.7 142.0,218.7 139.2,215.3 134.8,212.3 130.7,213.9 127.4,216.8 125.2,219.0 123.0,221.2 121.9,224.8 121.5,228.6 119.6,232.2 118.5,236.0 114.0,237.5 114.9,234.6 114.4,231.5 115.5,228.6 114.5,224.7 112.6,221.2 113.4,217.5 114.0,213.8 116.5,211.1 118.5,208.0 120.6,204.9 123.0,202.0 126.8,200.7 130.4,199.0 132.3,196.1 133.6,192.8 134.8,189.6 137.3,187.7 139.2,185.2 140.0,182.2 141.7,179.7 143.6,177.3 145.2,174.8 147.6,171.2 149.6,167.4 150.6,163.7 152.8,160.6 154.0,157.0 157.1,155.0 160.0,152.6 161.4,149.6 164.0,147.5 166.0,145.0 167.0,141.9 168.2,138.8 169.8,135.9 171.8,133.3 173.5,130.1 175.3,127.0 177.8,124.4 181.2,122.4 185.0,121.5 190.0,123.0 194.1,122.7 198.0,124.0 195.0,119.0 191.6,117.9 188.3,116.9 185.0,115.5 181.5,113.9 177.8,112.6 174.1,110.9 170.3,109.6 166.5,108.6 163.0,106.7 159.4,105.2 155.5,105.2 151.6,105.3 148.0,103.7 144.3,102.4 140.7,100.7 136.3,102.2 133.4,103.3 130.4,103.7 133.3,99.2 136.2,98.3 139.2,97.8 140.1,94.5 142.2,91.8 143.5,87.5 143.7,83.0 142.0,80.1 140.7,77.0 137.4,79.6 133.3,80.7 131.8,77.0 130.4,72.6 127.4,73.1 124.4,74.0 120.6,74.0 117.0,72.6 114.0,74.7 111.0,77.0 106.7,80.0 103.7,79.2 103.7,74.0 102.7,71.1 102.2,68.1 97.8,71.1 95.7,68.8 93.3,66.7 87.4,65.9 86.0,69.6 83.2,68.0 80.0,68.1 76.8,66.1 73.0,65.3 69.6,63.7 68.9,59.3 69.1,56.2 68.1,53.3 65.2,52.3 62.2,51.8 58.8,50.9 55.3,50.2 52.3,48.3 48.9,47.4 45.5,45.8 42.3,43.7 38.5,43.0 34.0,40.0 31.0,37.3 27.2,35.8 23.7,34.0 20.9,31.6"/></clipPath></defs><rect x="0" y="0" width="1249" height="1580" fill="#fff"/><rect x="25" y="21" width="49" height="1501" fill="#fcfcfb"/><rect x="25" y="891" width="1205" height="35" fill="#fcfcfb"/><rect x="70" y="20.5" width="1161" height="29.5" fill="#f6f5f6"/><svg x="74.0" y="52.5" width="368.5" height="397.5" viewBox="0 0 368.5 397.5" overflow="hidden"><g transform="translate(0,-0.74) scale(1,1.0534)"><rect x="-20" y="-40" width="420" height="480" fill="#f7f7f7"/><rect x="-20" y="-40" width="420" height="480" fill="url(#urb)"/><polygon points="18.0,44.0 51.0,48.0 51.0,80.0 18.0,76.0" fill="#dcdcdc"/><ellipse cx="116" cy="8" rx="22" ry="15" fill="#dfeec8"/><polygon points="150.0,-20.0 185.0,-20.0 160.0,62.0 135.0,62.0" fill="#dfeec8"/><polygon points="102.5,128.7 120.0,124.0 141.7,122.0 126.5,142.3 112.0,166.7 96.0,192.5 78.5,218.4 52.8,245.7 32.0,283.6 10.0,320.0 -10.0,330.0 -10.0,280.0 3.2,276.2 16.0,260.9 48.0,215.3 68.9,188.0 89.7,154.5" fill="#dfeec8"/><polyline points="3.0,285.0 40.0,235.0 75.0,200.0 98.0,165.0 112.0,140.0" fill="none" stroke="#c9dbb4" stroke-width="0.8"/><ellipse cx="156" cy="44" rx="5" ry="12" fill="#cbe8f8" transform="rotate(20 156 44)"/><polygon points="21.6,116.0 66.5,140.0 38.4,182.0 24.0,172.0 28.0,152.0 13.0,134.0" fill="#dfeec8"/><polygon points="-5.0,345.0 40.0,330.0 100.0,350.0 120.0,397.0 -5.0,420.0" fill="#dfeec8"/><polygon points="62.0,221.0 80.0,219.0 133.0,250.0 125.0,300.0 110.0,337.0 60.0,335.0 40.0,290.0 52.0,248.0" fill="#dedede"/><g stroke="#f6f6f6" stroke-width="1.5" clip-path="url(#gbclip)"><line x1="20" y1="135.0" x2="150" y2="210.0"/><line x1="20" y1="142.5" x2="150" y2="217.5"/><line x1="20" y1="150.0" x2="150" y2="225.0"/><line x1="20" y1="157.5" x2="150" y2="232.5"/><line x1="20" y1="165.0" x2="150" y2="240.0"/><line x1="20" y1="172.5" x2="150" y2="247.5"/><line x1="20" y1="180.0" x2="150" y2="255.0"/><line x1="20" y1="187.5" x2="150" y2="262.5"/><line x1="20" y1="195.0" x2="150" y2="270.0"/><line x1="20" y1="202.5" x2="150" y2="277.5"/><line x1="20" y1="210.0" x2="150" y2="285.0"/><line x1="20" y1="217.5" x2="150" y2="292.5"/><line x1="20" y1="225.0" x2="150" y2="300.0"/><line x1="20" y1="232.5" x2="150" y2="307.5"/><line x1="20" y1="240.0" x2="150" y2="315.0"/><line x1="20" y1="247.5" x2="150" y2="322.5"/><line x1="20" y1="255.0" x2="150" y2="330.0"/><line x1="20" y1="262.5" x2="150" y2="337.5"/><line x1="20" y1="270.0" x2="150" y2="345.0"/><line x1="20" y1="277.5" x2="150" y2="352.5"/><line x1="20" y1="285.0" x2="150" y2="360.0"/><line x1="20" y1="292.5" x2="150" y2="367.5"/><line x1="20" y1="300.0" x2="150" y2="375.0"/><line x1="20" y1="307.5" x2="150" y2="382.5"/><line x1="20" y1="315.0" x2="150" y2="390.0"/><line x1="20" y1="322.5" x2="150" y2="397.5"/><line x1="20" y1="330.0" x2="150" y2="405.0"/><line x1="20" y1="337.5" x2="150" y2="412.5"/><line x1="-22.0" y1="200" x2="-102.0" y2="340"/><line x1="-9.0" y1="200" x2="-89.0" y2="340"/><line x1="4.0" y1="200" x2="-76.0" y2="340"/><line x1="17.0" y1="200" x2="-63.0" y2="340"/><line x1="30.0" y1="200" x2="-50.0" y2="340"/><line x1="43.0" y1="200" x2="-37.0" y2="340"/><line x1="56.0" y1="200" x2="-24.0" y2="340"/><line x1="69.0" y1="200" x2="-11.0" y2="340"/><line x1="82.0" y1="200" x2="2.0" y2="340"/><line x1="95.0" y1="200" x2="15.0" y2="340"/><line x1="108.0" y1="200" x2="28.0" y2="340"/><line x1="121.0" y1="200" x2="41.0" y2="340"/><line x1="134.0" y1="200" x2="54.0" y2="340"/><line x1="147.0" y1="200" x2="67.0" y2="340"/><line x1="160.0" y1="200" x2="80.0" y2="340"/><line x1="173.0" y1="200" x2="93.0" y2="340"/><line x1="186.0" y1="200" x2="106.0" y2="340"/><line x1="199.0" y1="200" x2="119.0" y2="340"/></g><polygon points="43.0,66.0 72.0,63.0 100.0,70.0 130.0,78.0 130.0,100.0 124.0,119.0 100.0,118.0 72.0,104.0 43.0,92.0" fill="#dcdcef"/><polygon points="76.0,92.0 102.0,96.0 114.0,114.0 100.0,117.0 78.0,106.0" fill="#dddddd"/><polygon points="238.0,-20.0 300.0,-20.0 302.0,6.0 294.0,20.0 282.0,28.0 264.0,30.0 254.0,20.0 244.0,6.0" fill="#e6def1"/><polygon points="300.0,-20.0 400.0,-20.0 400.0,440.0 150.0,440.0 155.0,400.0 163.0,380.0 170.8,365.2 188.8,345.0 209.0,328.0 222.4,315.2 240.0,306.0 254.4,299.8 272.3,297.5 290.2,275.6 310.6,259.8 313.2,246.5 327.3,228.2 342.6,212.5 356.0,206.0 362.0,195.0 360.0,178.0 362.0,163.0 345.0,140.0 333.0,128.0 334.0,108.0 326.0,88.0 313.0,66.0 306.0,44.0 300.0,20.0" fill="#dfeec8"/><polygon points="352.0,195.0 356.0,206.0 342.6,212.5 327.3,228.2 313.2,246.5 310.6,259.8 290.2,275.6 272.3,297.5 254.4,299.8 240.0,306.0 222.4,315.2 209.0,328.0 188.8,345.0 170.8,365.2 163.0,380.0 155.0,400.0 120.0,400.0 300.0,200.0" fill="#f8f8f8"/><polygon points="278.0,72.0 300.0,60.0 312.0,74.0 328.0,96.0 334.0,108.0 328.0,120.0 318.0,134.0 300.0,130.0 284.0,120.0 276.0,100.0" fill="#f1f1f1"/><polygon points="282.0,22.0 300.0,30.0 306.0,46.0 300.0,62.0 286.0,50.0" fill="#f4f4f4"/><polygon points="400.0,250.0 368.0,276.0 348.0,294.0 333.0,309.0 318.0,318.0 306.0,322.0 303.0,335.0 289.0,341.0 274.0,347.0 266.0,359.0 252.0,369.0 237.0,377.0 229.0,389.0 229.0,440.0 400.0,440.0" fill="#cbe8f8"/><polygon points="274.0,373.0 290.0,371.0 310.0,378.0 335.0,378.0 352.0,385.0 363.0,392.0 363.0,398.0 340.0,394.0 318.0,390.0 296.0,388.0 280.0,384.0" fill="#dfeec8"/><line x1="230" y1="190" x2="310" y2="250" stroke="#cfe0b8" stroke-width="0.6"/><line x1="244" y1="200" x2="324" y2="260" stroke="#cfe0b8" stroke-width="0.6"/><line x1="258" y1="210" x2="338" y2="270" stroke="#cfe0b8" stroke-width="0.6"/><line x1="272" y1="220" x2="352" y2="280" stroke="#cfe0b8" stroke-width="0.6"/><line x1="286" y1="230" x2="366" y2="290" stroke="#cfe0b8" stroke-width="0.6"/><line x1="300" y1="240" x2="380" y2="300" stroke="#cfe0b8" stroke-width="0.6"/><line x1="0" y1="15" x2="33" y2="36" stroke="#9a9a9a" stroke-width="1.6"/><line x1="0" y1="15" x2="33" y2="36" stroke="#e8e8e8" stroke-width="0.6"/><line x1="15" y1="70" x2="129" y2="144" stroke="#9a9a9a" stroke-width="1.6"/><line x1="15" y1="70" x2="129" y2="144" stroke="#e8e8e8" stroke-width="0.6"/><line x1="1.6" y1="93" x2="33" y2="38" stroke="#9a9a9a" stroke-width="1.6"/><line x1="1.6" y1="93" x2="33" y2="38" stroke="#e8e8e8" stroke-width="0.6"/><line x1="141.7" y1="122" x2="128" y2="143" stroke="#9a9a9a" stroke-width="1.6"/><line x1="141.7" y1="122" x2="128" y2="143" stroke="#e8e8e8" stroke-width="0.6"/><line x1="128" y1="143" x2="78.5" y2="219" stroke="#9a9a9a" stroke-width="1.6"/><line x1="128" y1="143" x2="78.5" y2="219" stroke="#e8e8e8" stroke-width="0.6"/><line x1="78.5" y1="219" x2="133" y2="250" stroke="#9a9a9a" stroke-width="1.6"/><line x1="78.5" y1="219" x2="133" y2="250" stroke="#e8e8e8" stroke-width="0.6"/><line x1="102.5" y1="128.7" x2="3" y2="285" stroke="#9a9a9a" stroke-width="1.6"/><line x1="102.5" y1="128.7" x2="3" y2="285" stroke="#e8e8e8" stroke-width="0.6"/><line x1="281" y1="92" x2="372" y2="24" stroke="#9a9a9a" stroke-width="1.6"/><line x1="281" y1="92" x2="372" y2="24" stroke="#e8e8e8" stroke-width="0.6"/><g clip-path="url(#floodclip)"><rect x="-20" y="-40" width="420" height="480" fill="#fde3a7"/><polygon points="0.0,128.0 200.0,128.0 230.0,185.0 300.0,165.0 400.0,175.0 400.0,420.0 0.0,420.0" fill="url(#wet_lo)"/><polygon points="110.0,270.0 200.0,245.0 250.0,285.0 240.0,320.0 170.0,385.0 110.0,385.0" fill="url(#wet_mid)"/><polygon points="200.0,165.0 300.0,128.0 355.0,158.0 355.0,215.0 300.0,245.0 250.0,290.0 205.0,315.0 180.0,280.0 192.0,220.0" fill="url(#wet_hi)"/><polygon points="186.0,0.0 400.0,0.0 400.0,175.0 300.0,165.0 230.0,185.0 200.0,128.0 186.0,70.0" fill="url(#wet_lo)"/><polygon points="100.0,57.0 125.0,60.0 150.0,68.0 168.0,76.0 178.0,84.0 180.0,93.0 172.0,96.0 162.0,88.0 146.0,80.0 122.0,71.0 102.0,64.0" fill="#8fcfee"/><polygon points="30.0,28.0 55.0,33.0 90.0,46.0 90.0,50.0 55.0,38.0 30.0,32.0" fill="#8fcfee" opacity="0.6"/><ellipse cx="242" cy="103" rx="8.5" ry="7" fill="#8fcfee" transform="rotate(20 242 103)"/><ellipse cx="286" cy="70" rx="3.5" ry="8" fill="#8fcfee"/><polygon points="310.0,140.6 351.0,163.4 344.5,176.4 306.7,152.0" fill="#8fcfee"/><line x1="238" y1="110" x2="210" y2="138" stroke="#8fcfee" stroke-width="2.2"/><line x1="250" y1="110" x2="222" y2="142" stroke="#8fcfee" stroke-width="1.6"/><line x1="205" y1="42" x2="245" y2="55" stroke="#8fcfee" stroke-width="1.6"/><line x1="208" y1="50" x2="238" y2="60" stroke="#8fcfee" stroke-width="1.6"/><line x1="222" y1="85" x2="208" y2="118" stroke="#8fcfee" stroke-width="1.8"/><line x1="230" y1="86" x2="215" y2="120" stroke="#8fcfee" stroke-width="1.5"/><line x1="200" y1="92" x2="186" y2="124" stroke="#8fcfee" stroke-width="1.5"/><line x1="262" y1="92" x2="285" y2="84" stroke="#8fcfee" stroke-width="1.5"/><line x1="170" y1="140" x2="130" y2="200" stroke="#8fcfee" stroke-width="2.0"/><line x1="260" y1="120" x2="300" y2="128" stroke="#8fcfee" stroke-width="1.5"/><line x1="141" y1="234" x2="194" y2="182" stroke="#8fcfee" stroke-width="5"/><line x1="148" y1="240" x2="200" y2="190" stroke="#8fcfee" stroke-width="2"/><line x1="150" y1="196" x2="150" y2="176" stroke="#8fcfee" stroke-width="2.5"/><line x1="158" y1="194" x2="158" y2="172" stroke="#8fcfee" stroke-width="2.5"/><line x1="166" y1="190" x2="166" y2="170" stroke="#8fcfee" stroke-width="2.5"/><line x1="146" y1="178" x2="172" y2="174" stroke="#8fcfee" stroke-width="2.5"/><line x1="232" y1="150" x2="262" y2="118" stroke="#8fcfee" stroke-width="3"/><line x1="215" y1="150" x2="250" y2="112" stroke="#8fcfee" stroke-width="2"/></g><polygon points="18.5,28.9 20.0,25.2 23.2,24.9 26.5,24.6 29.6,23.7 33.5,22.7 37.0,20.7 40.3,20.0 43.0,17.8 46.9,16.7 50.4,14.8 54.8,11.9 59.3,11.9 60.0,16.3 56.3,19.3 53.5,21.0 51.8,23.7 51.9,26.8 50.4,29.6 53.3,32.6 56.7,34.0 59.7,36.3 63.2,37.3 66.7,38.5 69.5,40.1 72.8,39.6 75.6,41.1 78.7,41.7 81.5,43.0 84.4,44.0 87.4,44.9 90.6,44.8 93.5,46.0 96.3,47.4 99.4,47.9 102.0,49.9 105.0,50.5 108.2,50.3 111.0,51.8 113.8,53.2 117.2,53.0 119.9,54.7 123.2,54.8 126.0,56.3 129.1,56.0 131.7,58.2 134.9,57.6 137.9,58.2 140.7,59.3 143.4,61.0 146.4,61.7 149.7,61.6 152.3,63.6 155.5,63.7 159.2,65.6 163.0,67.4 166.4,67.7 169.9,66.9 173.3,67.4 176.2,65.3 177.8,62.2 179.6,59.4 181.5,56.6 182.2,53.3 184.3,49.9 185.0,45.9 187.8,43.6 190.8,41.8 193.9,40.0 194.8,36.8 196.3,33.8 198.3,31.1 201.1,29.6 204.3,29.6 206.5,26.9 209.4,24.8 211.7,22.2 214.0,18.6 217.6,16.3 220.0,14.3 222.0,11.9 226.5,11.9 230.3,13.8 233.9,16.3 237.8,18.2 241.3,20.7 244.7,23.4 248.7,25.2 251.7,29.6 252.4,32.6 253.1,35.6 254.6,40.0 252.6,42.4 250.2,44.4 247.2,47.4 245.0,50.4 247.6,52.6 250.2,54.8 252.9,57.3 256.1,59.3 256.1,63.7 259.6,66.1 262.0,69.6 264.5,72.3 268.4,72.8 270.9,75.5 273.1,77.8 275.4,80.0 278.3,81.5 281.3,77.0 281.2,73.8 282.8,71.1 280.1,68.7 276.7,67.4 273.9,65.2 271.5,63.1 268.4,62.0 266.5,59.3 263.6,56.8 262.0,53.3 263.5,48.9 260.8,47.1 259.0,44.4 257.6,40.0 262.0,40.0 265.0,40.8 268.0,40.0 272.4,38.5 276.8,41.5 280.1,43.3 282.8,45.9 285.5,48.5 288.7,50.4 289.5,53.7 291.7,56.3 292.4,59.6 294.6,62.2 295.3,65.9 295.4,69.6 293.8,72.7 291.7,75.5 289.4,77.7 287.2,80.0 283.9,82.6 281.3,85.9 280.4,89.2 278.3,91.8 276.8,94.6 276.1,97.8 276.7,100.9 278.3,103.7 279.2,106.9 281.3,109.6 282.8,114.0 278.3,112.6 273.9,115.5 274.7,119.2 273.9,123.0 276.7,124.5 279.8,124.4 280.6,121.1 282.8,118.5 285.9,119.7 288.7,121.5 290.8,123.9 293.2,126.0 296.3,128.5 300.2,129.4 303.5,131.5 305.6,133.9 308.6,135.1 311.4,136.5 313.8,138.5 316.7,139.8 319.6,141.2 322.5,142.7 324.9,145.0 328.0,146.2 330.2,148.7 332.7,150.9 335.9,151.8 339.8,153.9 343.0,157.0 345.8,158.3 347.0,161.5 349.9,162.8 349.5,166.5 349.2,170.2 347.9,174.0 346.2,177.6 346.0,181.4 344.8,185.0 347.2,188.7 349.9,192.3 347.2,195.7 345.5,199.7 345.6,203.3 345.5,207.0 346.7,210.0 347.7,213.0 344.8,215.9 341.6,213.9 339.6,210.7 337.6,207.6 334.5,205.6 331.5,201.1 333.0,196.0 328.6,198.2 328.6,202.1 327.0,205.6 324.9,208.2 322.7,210.7 320.7,213.4 319.7,216.6 317.1,219.3 313.8,221.0 310.7,222.1 308.0,224.0 305.6,226.2 304.3,229.2 302.8,232.0 300.5,237.5 297.2,240.1 294.6,243.4 292.0,245.5 288.7,246.4 285.8,248.7 282.8,250.8 281.3,253.7 278.3,255.3 276.8,258.2 274.1,260.7 270.9,262.7 269.5,265.7 268.0,268.6 264.4,270.9 262.0,274.5 257.6,276.0 254.4,276.9 251.7,279.0 250.1,281.7 250.2,284.9 249.5,288.6 248.7,292.3 247.2,296.0 245.7,299.7 243.2,301.7 241.3,304.2 238.4,305.0 235.4,305.7 232.4,306.1 229.4,305.7 225.0,308.6 222.9,311.7 220.5,314.5 218.0,317.9 214.6,320.5 211.7,322.1 208.7,323.4 205.2,325.0 202.8,327.9 199.4,329.4 196.9,332.3 193.7,335.1 190.9,338.2 188.0,340.5 185.0,342.7 183.1,346.5 180.7,350.1 179.2,353.5 176.9,356.3 174.5,359.0 172.0,361.3 169.7,363.7 168.3,366.9 166.0,369.3 162.9,372.1 160.5,375.5 157.5,374.0 154.5,370.5 156.7,367.9 158.5,365.0 160.0,362.0 161.3,359.1 162.0,356.0 160.0,353.0 157.0,350.1 154.3,347.5 151.0,345.6 148.0,343.6 145.2,341.2 142.3,340.3 139.2,340.6 136.3,339.7 133.3,339.2 130.4,338.2 127.4,338.2 124.5,337.2 121.5,336.8 120.4,333.2 120.0,329.4 118.4,325.9 115.5,323.4 112.7,320.3 109.6,317.5 111.2,314.6 112.6,311.6 114.9,308.0 118.5,305.7 122.3,304.3 126.0,302.7 129.7,302.3 133.3,302.7 137.1,301.5 140.7,299.7 143.6,297.4 146.6,295.3 149.2,293.4 151.0,290.8 154.2,288.1 157.0,285.0 159.7,282.3 161.5,279.0 162.2,275.9 163.7,273.1 164.4,270.0 167.2,267.9 169.7,265.6 171.8,262.7 172.3,258.9 173.3,255.3 174.4,252.0 175.0,248.5 174.8,245.0 172.8,241.1 170.3,237.5 167.0,235.2 163.0,234.5 159.1,234.4 155.5,236.0 151.8,236.0 148.0,236.0 146.6,232.3 145.2,228.6 143.9,225.8 143.7,222.7 142.0,218.7 139.2,215.3 134.8,212.3 130.7,213.9 127.4,216.8 125.2,219.0 123.0,221.2 121.9,224.8 121.5,228.6 119.6,232.2 118.5,236.0 114.0,237.5 114.9,234.6 114.4,231.5 115.5,228.6 114.5,224.7 112.6,221.2 113.4,217.5 114.0,213.8 116.5,211.1 118.5,208.0 120.6,204.9 123.0,202.0 126.8,200.7 130.4,199.0 132.3,196.1 133.6,192.8 134.8,189.6 137.3,187.7 139.2,185.2 140.0,182.2 141.7,179.7 143.6,177.3 145.2,174.8 147.6,171.2 149.6,167.4 150.6,163.7 152.8,160.6 154.0,157.0 157.1,155.0 160.0,152.6 161.4,149.6 164.0,147.5 166.0,145.0 167.0,141.9 168.2,138.8 169.8,135.9 171.8,133.3 173.5,130.1 175.3,127.0 177.8,124.4 181.2,122.4 185.0,121.5 190.0,123.0 194.1,122.7 198.0,124.0 195.0,119.0 191.6,117.9 188.3,116.9 185.0,115.5 181.5,113.9 177.8,112.6 174.1,110.9 170.3,109.6 166.5,108.6 163.0,106.7 159.4,105.2 155.5,105.2 151.6,105.3 148.0,103.7 144.3,102.4 140.7,100.7 136.3,102.2 133.4,103.3 130.4,103.7 133.3,99.2 136.2,98.3 139.2,97.8 140.1,94.5 142.2,91.8 143.5,87.5 143.7,83.0 142.0,80.1 140.7,77.0 137.4,79.6 133.3,80.7 131.8,77.0 130.4,72.6 127.4,73.1 124.4,74.0 120.6,74.0 117.0,72.6 114.0,74.7 111.0,77.0 106.7,80.0 103.7,79.2 103.7,74.0 102.7,71.1 102.2,68.1 97.8,71.1 95.7,68.8 93.3,66.7 87.4,65.9 86.0,69.6 83.2,68.0 80.0,68.1 76.8,66.1 73.0,65.3 69.6,63.7 68.9,59.3 69.1,56.2 68.1,53.3 65.2,52.3 62.2,51.8 58.8,50.9 55.3,50.2 52.3,48.3 48.9,47.4 45.5,45.8 42.3,43.7 38.5,43.0 34.0,40.0 31.0,37.3 27.2,35.8 23.7,34.0 20.9,31.6" fill="none" stroke="#111" stroke-width="1.5" stroke-dasharray="6,1" vector-effect="non-scaling-stroke"/><ellipse cx="291" cy="259" rx="4.5" ry="7" transform="rotate(35 291 259)" fill="#8fcfee" stroke="#111" stroke-width="1.1"/><ellipse cx="279.5" cy="269.5" rx="2.6" ry="3.2" fill="#f4f4f4" stroke="#111" stroke-width="1"/><circle cx="315" cy="231.5" r="1.8" fill="#111"/><circle cx="254.5" cy="288.5" r="2.0" fill="#111"/><circle cx="213" cy="324" r="1.6" fill="#111"/><circle cx="300" cy="244" r="1.3" fill="#111"/><circle cx="232" cy="309" r="1.4" fill="#111"/><polygon points="244.0,302.0 250.0,300.0 253.0,304.0 258.0,308.0 255.0,313.0 250.0,309.0 246.0,309.0" fill="#9a3a30" stroke="#222" stroke-width="0.8"/></g></svg><svg x="469.5" y="52.5" width="366.0" height="397.5" viewBox="0 0 366.0 397.5" overflow="hidden"><g transform="translate(0,2.06) scale(1,1.0201)"><rect x="-20" y="-40" width="420" height="480" fill="#f7f7f7"/><rect x="-20" y="-40" width="420" height="480" fill="url(#urb)"/><polygon points="18.0,44.0 51.0,48.0 51.0,80.0 18.0,76.0" fill="#dcdcdc"/><ellipse cx="116" cy="8" rx="22" ry="15" fill="#dfeec8"/><polygon points="150.0,-20.0 185.0,-20.0 160.0,62.0 135.0,62.0" fill="#dfeec8"/><polygon points="102.5,128.7 120.0,124.0 141.7,122.0 126.5,142.3 112.0,166.7 96.0,192.5 78.5,218.4 52.8,245.7 32.0,283.6 10.0,320.0 -10.0,330.0 -10.0,280.0 3.2,276.2 16.0,260.9 48.0,215.3 68.9,188.0 89.7,154.5" fill="#dfeec8"/><polyline points="3.0,285.0 40.0,235.0 75.0,200.0 98.0,165.0 112.0,140.0" fill="none" stroke="#c9dbb4" stroke-width="0.8"/><ellipse cx="156" cy="44" rx="5" ry="12" fill="#cbe8f8" transform="rotate(20 156 44)"/><polygon points="21.6,116.0 66.5,140.0 38.4,182.0 24.0,172.0 28.0,152.0 13.0,134.0" fill="#dfeec8"/><polygon points="-5.0,345.0 40.0,330.0 100.0,350.0 120.0,397.0 -5.0,420.0" fill="#dfeec8"/><polygon points="62.0,221.0 80.0,219.0 133.0,250.0 125.0,300.0 110.0,337.0 60.0,335.0 40.0,290.0 52.0,248.0" fill="#dedede"/><g stroke="#f6f6f6" stroke-width="1.5" clip-path="url(#gbclip)"><line x1="20" y1="135.0" x2="150" y2="210.0"/><line x1="20" y1="142.5" x2="150" y2="217.5"/><line x1="20" y1="150.0" x2="150" y2="225.0"/><line x1="20" y1="157.5" x2="150" y2="232.5"/><line x1="20" y1="165.0" x2="150" y2="240.0"/><line x1="20" y1="172.5" x2="150" y2="247.5"/><line x1="20" y1="180.0" x2="150" y2="255.0"/><line x1="20" y1="187.5" x2="150" y2="262.5"/><line x1="20" y1="195.0" x2="150" y2="270.0"/><line x1="20" y1="202.5" x2="150" y2="277.5"/><line x1="20" y1="210.0" x2="150" y2="285.0"/><line x1="20" y1="217.5" x2="150" y2="292.5"/><line x1="20" y1="225.0" x2="150" y2="300.0"/><line x1="20" y1="232.5" x2="150" y2="307.5"/><line x1="20" y1="240.0" x2="150" y2="315.0"/><line x1="20" y1="247.5" x2="150" y2="322.5"/><line x1="20" y1="255.0" x2="150" y2="330.0"/><line x1="20" y1="262.5" x2="150" y2="337.5"/><line x1="20" y1="270.0" x2="150" y2="345.0"/><line x1="20" y1="277.5" x2="150" y2="352.5"/><line x1="20" y1="285.0" x2="150" y2="360.0"/><line x1="20" y1="292.5" x2="150" y2="367.5"/><line x1="20" y1="300.0" x2="150" y2="375.0"/><line x1="20" y1="307.5" x2="150" y2="382.5"/><line x1="20" y1="315.0" x2="150" y2="390.0"/><line x1="20" y1="322.5" x2="150" y2="397.5"/><line x1="20" y1="330.0" x2="150" y2="405.0"/><line x1="20" y1="337.5" x2="150" y2="412.5"/><line x1="-22.0" y1="200" x2="-102.0" y2="340"/><line x1="-9.0" y1="200" x2="-89.0" y2="340"/><line x1="4.0" y1="200" x2="-76.0" y2="340"/><line x1="17.0" y1="200" x2="-63.0" y2="340"/><line x1="30.0" y1="200" x2="-50.0" y2="340"/><line x1="43.0" y1="200" x2="-37.0" y2="340"/><line x1="56.0" y1="200" x2="-24.0" y2="340"/><line x1="69.0" y1="200" x2="-11.0" y2="340"/><line x1="82.0" y1="200" x2="2.0" y2="340"/><line x1="95.0" y1="200" x2="15.0" y2="340"/><line x1="108.0" y1="200" x2="28.0" y2="340"/><line x1="121.0" y1="200" x2="41.0" y2="340"/><line x1="134.0" y1="200" x2="54.0" y2="340"/><line x1="147.0" y1="200" x2="67.0" y2="340"/><line x1="160.0" y1="200" x2="80.0" y2="340"/><line x1="173.0" y1="200" x2="93.0" y2="340"/><line x1="186.0" y1="200" x2="106.0" y2="340"/><line x1="199.0" y1="200" x2="119.0" y2="340"/></g><polygon points="43.0,66.0 72.0,63.0 100.0,70.0 130.0,78.0 130.0,100.0 124.0,119.0 100.0,118.0 72.0,104.0 43.0,92.0" fill="#dcdcef"/><polygon points="76.0,92.0 102.0,96.0 114.0,114.0 100.0,117.0 78.0,106.0" fill="#dddddd"/><polygon points="238.0,-20.0 300.0,-20.0 302.0,6.0 294.0,20.0 282.0,28.0 264.0,30.0 254.0,20.0 244.0,6.0" fill="#e6def1"/><polygon points="300.0,-20.0 400.0,-20.0 400.0,440.0 150.0,440.0 155.0,400.0 163.0,380.0 170.8,365.2 188.8,345.0 209.0,328.0 222.4,315.2 240.0,306.0 254.4,299.8 272.3,297.5 290.2,275.6 310.6,259.8 313.2,246.5 327.3,228.2 342.6,212.5 356.0,206.0 362.0,195.0 360.0,178.0 362.0,163.0 345.0,140.0 333.0,128.0 334.0,108.0 326.0,88.0 313.0,66.0 306.0,44.0 300.0,20.0" fill="#dfeec8"/><polygon points="352.0,195.0 356.0,206.0 342.6,212.5 327.3,228.2 313.2,246.5 310.6,259.8 290.2,275.6 272.3,297.5 254.4,299.8 240.0,306.0 222.4,315.2 209.0,328.0 188.8,345.0 170.8,365.2 163.0,380.0 155.0,400.0 120.0,400.0 300.0,200.0" fill="#f8f8f8"/><polygon points="278.0,72.0 300.0,60.0 312.0,74.0 328.0,96.0 334.0,108.0 328.0,120.0 318.0,134.0 300.0,130.0 284.0,120.0 276.0,100.0" fill="#f1f1f1"/><polygon points="282.0,22.0 300.0,30.0 306.0,46.0 300.0,62.0 286.0,50.0" fill="#f4f4f4"/><polygon points="400.0,250.0 368.0,276.0 348.0,294.0 333.0,309.0 318.0,318.0 306.0,322.0 303.0,335.0 289.0,341.0 274.0,347.0 266.0,359.0 252.0,369.0 237.0,377.0 229.0,389.0 229.0,440.0 400.0,440.0" fill="#cbe8f8"/><polygon points="274.0,373.0 290.0,371.0 310.0,378.0 335.0,378.0 352.0,385.0 363.0,392.0 363.0,398.0 340.0,394.0 318.0,390.0 296.0,388.0 280.0,384.0" fill="#dfeec8"/><line x1="230" y1="190" x2="310" y2="250" stroke="#cfe0b8" stroke-width="0.6"/><line x1="244" y1="200" x2="324" y2="260" stroke="#cfe0b8" stroke-width="0.6"/><line x1="258" y1="210" x2="338" y2="270" stroke="#cfe0b8" stroke-width="0.6"/><line x1="272" y1="220" x2="352" y2="280" stroke="#cfe0b8" stroke-width="0.6"/><line x1="286" y1="230" x2="366" y2="290" stroke="#cfe0b8" stroke-width="0.6"/><line x1="300" y1="240" x2="380" y2="300" stroke="#cfe0b8" stroke-width="0.6"/><line x1="0" y1="15" x2="33" y2="36" stroke="#9a9a9a" stroke-width="1.6"/><line x1="0" y1="15" x2="33" y2="36" stroke="#e8e8e8" stroke-width="0.6"/><line x1="15" y1="70" x2="129" y2="144" stroke="#9a9a9a" stroke-width="1.6"/><line x1="15" y1="70" x2="129" y2="144" stroke="#e8e8e8" stroke-width="0.6"/><line x1="1.6" y1="93" x2="33" y2="38" stroke="#9a9a9a" stroke-width="1.6"/><line x1="1.6" y1="93" x2="33" y2="38" stroke="#e8e8e8" stroke-width="0.6"/><line x1="141.7" y1="122" x2="128" y2="143" stroke="#9a9a9a" stroke-width="1.6"/><line x1="141.7" y1="122" x2="128" y2="143" stroke="#e8e8e8" stroke-width="0.6"/><line x1="128" y1="143" x2="78.5" y2="219" stroke="#9a9a9a" stroke-width="1.6"/><line x1="128" y1="143" x2="78.5" y2="219" stroke="#e8e8e8" stroke-width="0.6"/><line x1="78.5" y1="219" x2="133" y2="250" stroke="#9a9a9a" stroke-width="1.6"/><line x1="78.5" y1="219" x2="133" y2="250" stroke="#e8e8e8" stroke-width="0.6"/><line x1="102.5" y1="128.7" x2="3" y2="285" stroke="#9a9a9a" stroke-width="1.6"/><line x1="102.5" y1="128.7" x2="3" y2="285" stroke="#e8e8e8" stroke-width="0.6"/><line x1="281" y1="92" x2="372" y2="24" stroke="#9a9a9a" stroke-width="1.6"/><line x1="281" y1="92" x2="372" y2="24" stroke="#e8e8e8" stroke-width="0.6"/><g clip-path="url(#floodclip)"><rect x="-20" y="-40" width="420" height="480" fill="#fde3a7"/><polygon points="0.0,128.0 200.0,128.0 230.0,185.0 300.0,165.0 400.0,175.0 400.0,420.0 0.0,420.0" fill="url(#wet_lo)"/><polygon points="110.0,270.0 200.0,245.0 250.0,285.0 240.0,320.0 170.0,385.0 110.0,385.0" fill="url(#wet_mid)"/><polygon points="200.0,165.0 300.0,128.0 355.0,158.0 355.0,215.0 300.0,245.0 250.0,290.0 205.0,315.0 180.0,280.0 192.0,220.0" fill="url(#wet_hi)"/><polygon points="186.0,0.0 400.0,0.0 400.0,175.0 300.0,165.0 230.0,185.0 200.0,128.0 186.0,70.0" fill="url(#wet_lo)"/><polygon points="100.0,57.0 125.0,60.0 150.0,68.0 168.0,76.0 178.0,84.0 180.0,93.0 172.0,96.0 162.0,88.0 146.0,80.0 122.0,71.0 102.0,64.0" fill="#8fcfee"/><polygon points="30.0,28.0 55.0,33.0 90.0,46.0 90.0,50.0 55.0,38.0 30.0,32.0" fill="#8fcfee" opacity="0.6"/><ellipse cx="242" cy="103" rx="8.5" ry="7" fill="#8fcfee" transform="rotate(20 242 103)"/><ellipse cx="286" cy="70" rx="3.5" ry="8" fill="#8fcfee"/><polygon points="310.0,140.6 351.0,163.4 344.5,176.4 306.7,152.0" fill="#8fcfee"/><line x1="238" y1="110" x2="210" y2="138" stroke="#8fcfee" stroke-width="2.2"/><line x1="250" y1="110" x2="222" y2="142" stroke="#8fcfee" stroke-width="1.6"/><line x1="205" y1="42" x2="245" y2="55" stroke="#8fcfee" stroke-width="1.6"/><line x1="208" y1="50" x2="238" y2="60" stroke="#8fcfee" stroke-width="1.6"/><line x1="222" y1="85" x2="208" y2="118" stroke="#8fcfee" stroke-width="1.8"/><line x1="230" y1="86" x2="215" y2="120" stroke="#8fcfee" stroke-width="1.5"/><line x1="200" y1="92" x2="186" y2="124" stroke="#8fcfee" stroke-width="1.5"/><line x1="262" y1="92" x2="285" y2="84" stroke="#8fcfee" stroke-width="1.5"/><line x1="170" y1="140" x2="130" y2="200" stroke="#8fcfee" stroke-width="2.0"/><line x1="260" y1="120" x2="300" y2="128" stroke="#8fcfee" stroke-width="1.5"/><line x1="141" y1="234" x2="194" y2="182" stroke="#8fcfee" stroke-width="5"/><line x1="148" y1="240" x2="200" y2="190" stroke="#8fcfee" stroke-width="2"/><line x1="150" y1="196" x2="150" y2="176" stroke="#8fcfee" stroke-width="2.5"/><line x1="158" y1="194" x2="158" y2="172" stroke="#8fcfee" stroke-width="2.5"/><line x1="166" y1="190" x2="166" y2="170" stroke="#8fcfee" stroke-width="2.5"/><line x1="146" y1="178" x2="172" y2="174" stroke="#8fcfee" stroke-width="2.5"/><line x1="232" y1="150" x2="262" y2="118" stroke="#8fcfee" stroke-width="3"/><line x1="215" y1="150" x2="250" y2="112" stroke="#8fcfee" stroke-width="2"/></g><polygon points="18.5,28.9 20.0,25.2 23.2,24.9 26.5,24.6 29.6,23.7 33.5,22.7 37.0,20.7 40.3,20.0 43.0,17.8 46.9,16.7 50.4,14.8 54.8,11.9 59.3,11.9 60.0,16.3 56.3,19.3 53.5,21.0 51.8,23.7 51.9,26.8 50.4,29.6 53.3,32.6 56.7,34.0 59.7,36.3 63.2,37.3 66.7,38.5 69.5,40.1 72.8,39.6 75.6,41.1 78.7,41.7 81.5,43.0 84.4,44.0 87.4,44.9 90.6,44.8 93.5,46.0 96.3,47.4 99.4,47.9 102.0,49.9 105.0,50.5 108.2,50.3 111.0,51.8 113.8,53.2 117.2,53.0 119.9,54.7 123.2,54.8 126.0,56.3 129.1,56.0 131.7,58.2 134.9,57.6 137.9,58.2 140.7,59.3 143.4,61.0 146.4,61.7 149.7,61.6 152.3,63.6 155.5,63.7 159.2,65.6 163.0,67.4 166.4,67.7 169.9,66.9 173.3,67.4 176.2,65.3 177.8,62.2 179.6,59.4 181.5,56.6 182.2,53.3 184.3,49.9 185.0,45.9 187.8,43.6 190.8,41.8 193.9,40.0 194.8,36.8 196.3,33.8 198.3,31.1 201.1,29.6 204.3,29.6 206.5,26.9 209.4,24.8 211.7,22.2 214.0,18.6 217.6,16.3 220.0,14.3 222.0,11.9 226.5,11.9 230.3,13.8 233.9,16.3 237.8,18.2 241.3,20.7 244.7,23.4 248.7,25.2 251.7,29.6 252.4,32.6 253.1,35.6 254.6,40.0 252.6,42.4 250.2,44.4 247.2,47.4 245.0,50.4 247.6,52.6 250.2,54.8 252.9,57.3 256.1,59.3 256.1,63.7 259.6,66.1 262.0,69.6 264.5,72.3 268.4,72.8 270.9,75.5 273.1,77.8 275.4,80.0 278.3,81.5 281.3,77.0 281.2,73.8 282.8,71.1 280.1,68.7 276.7,67.4 273.9,65.2 271.5,63.1 268.4,62.0 266.5,59.3 263.6,56.8 262.0,53.3 263.5,48.9 260.8,47.1 259.0,44.4 257.6,40.0 262.0,40.0 265.0,40.8 268.0,40.0 272.4,38.5 276.8,41.5 280.1,43.3 282.8,45.9 285.5,48.5 288.7,50.4 289.5,53.7 291.7,56.3 292.4,59.6 294.6,62.2 295.3,65.9 295.4,69.6 293.8,72.7 291.7,75.5 289.4,77.7 287.2,80.0 283.9,82.6 281.3,85.9 280.4,89.2 278.3,91.8 276.8,94.6 276.1,97.8 276.7,100.9 278.3,103.7 279.2,106.9 281.3,109.6 282.8,114.0 278.3,112.6 273.9,115.5 274.7,119.2 273.9,123.0 276.7,124.5 279.8,124.4 280.6,121.1 282.8,118.5 285.9,119.7 288.7,121.5 290.8,123.9 293.2,126.0 296.3,128.5 300.2,129.4 303.5,131.5 305.6,133.9 308.6,135.1 311.4,136.5 313.8,138.5 316.7,139.8 319.6,141.2 322.5,142.7 324.9,145.0 328.0,146.2 330.2,148.7 332.7,150.9 335.9,151.8 339.8,153.9 343.0,157.0 345.8,158.3 347.0,161.5 349.9,162.8 349.5,166.5 349.2,170.2 347.9,174.0 346.2,177.6 346.0,181.4 344.8,185.0 347.2,188.7 349.9,192.3 347.2,195.7 345.5,199.7 345.6,203.3 345.5,207.0 346.7,210.0 347.7,213.0 344.8,215.9 341.6,213.9 339.6,210.7 337.6,207.6 334.5,205.6 331.5,201.1 333.0,196.0 328.6,198.2 328.6,202.1 327.0,205.6 324.9,208.2 322.7,210.7 320.7,213.4 319.7,216.6 317.1,219.3 313.8,221.0 310.7,222.1 308.0,224.0 305.6,226.2 304.3,229.2 302.8,232.0 300.5,237.5 297.2,240.1 294.6,243.4 292.0,245.5 288.7,246.4 285.8,248.7 282.8,250.8 281.3,253.7 278.3,255.3 276.8,258.2 274.1,260.7 270.9,262.7 269.5,265.7 268.0,268.6 264.4,270.9 262.0,274.5 257.6,276.0 254.4,276.9 251.7,279.0 250.1,281.7 250.2,284.9 249.5,288.6 248.7,292.3 247.2,296.0 245.7,299.7 243.2,301.7 241.3,304.2 238.4,305.0 235.4,305.7 232.4,306.1 229.4,305.7 225.0,308.6 222.9,311.7 220.5,314.5 218.0,317.9 214.6,320.5 211.7,322.1 208.7,323.4 205.2,325.0 202.8,327.9 199.4,329.4 196.9,332.3 193.7,335.1 190.9,338.2 188.0,340.5 185.0,342.7 183.1,346.5 180.7,350.1 179.2,353.5 176.9,356.3 174.5,359.0 172.0,361.3 169.7,363.7 168.3,366.9 166.0,369.3 162.9,372.1 160.5,375.5 157.5,374.0 154.5,370.5 156.7,367.9 158.5,365.0 160.0,362.0 161.3,359.1 162.0,356.0 160.0,353.0 157.0,350.1 154.3,347.5 151.0,345.6 148.0,343.6 145.2,341.2 142.3,340.3 139.2,340.6 136.3,339.7 133.3,339.2 130.4,338.2 127.4,338.2 124.5,337.2 121.5,336.8 120.4,333.2 120.0,329.4 118.4,325.9 115.5,323.4 112.7,320.3 109.6,317.5 111.2,314.6 112.6,311.6 114.9,308.0 118.5,305.7 122.3,304.3 126.0,302.7 129.7,302.3 133.3,302.7 137.1,301.5 140.7,299.7 143.6,297.4 146.6,295.3 149.2,293.4 151.0,290.8 154.2,288.1 157.0,285.0 159.7,282.3 161.5,279.0 162.2,275.9 163.7,273.1 164.4,270.0 167.2,267.9 169.7,265.6 171.8,262.7 172.3,258.9 173.3,255.3 174.4,252.0 175.0,248.5 174.8,245.0 172.8,241.1 170.3,237.5 167.0,235.2 163.0,234.5 159.1,234.4 155.5,236.0 151.8,236.0 148.0,236.0 146.6,232.3 145.2,228.6 143.9,225.8 143.7,222.7 142.0,218.7 139.2,215.3 134.8,212.3 130.7,213.9 127.4,216.8 125.2,219.0 123.0,221.2 121.9,224.8 121.5,228.6 119.6,232.2 118.5,236.0 114.0,237.5 114.9,234.6 114.4,231.5 115.5,228.6 114.5,224.7 112.6,221.2 113.4,217.5 114.0,213.8 116.5,211.1 118.5,208.0 120.6,204.9 123.0,202.0 126.8,200.7 130.4,199.0 132.3,196.1 133.6,192.8 134.8,189.6 137.3,187.7 139.2,185.2 140.0,182.2 141.7,179.7 143.6,177.3 145.2,174.8 147.6,171.2 149.6,167.4 150.6,163.7 152.8,160.6 154.0,157.0 157.1,155.0 160.0,152.6 161.4,149.6 164.0,147.5 166.0,145.0 167.0,141.9 168.2,138.8 169.8,135.9 171.8,133.3 173.5,130.1 175.3,127.0 177.8,124.4 181.2,122.4 185.0,121.5 190.0,123.0 194.1,122.7 198.0,124.0 195.0,119.0 191.6,117.9 188.3,116.9 185.0,115.5 181.5,113.9 177.8,112.6 174.1,110.9 170.3,109.6 166.5,108.6 163.0,106.7 159.4,105.2 155.5,105.2 151.6,105.3 148.0,103.7 144.3,102.4 140.7,100.7 136.3,102.2 133.4,103.3 130.4,103.7 133.3,99.2 136.2,98.3 139.2,97.8 140.1,94.5 142.2,91.8 143.5,87.5 143.7,83.0 142.0,80.1 140.7,77.0 137.4,79.6 133.3,80.7 131.8,77.0 130.4,72.6 127.4,73.1 124.4,74.0 120.6,74.0 117.0,72.6 114.0,74.7 111.0,77.0 106.7,80.0 103.7,79.2 103.7,74.0 102.7,71.1 102.2,68.1 97.8,71.1 95.7,68.8 93.3,66.7 87.4,65.9 86.0,69.6 83.2,68.0 80.0,68.1 76.8,66.1 73.0,65.3 69.6,63.7 68.9,59.3 69.1,56.2 68.1,53.3 65.2,52.3 62.2,51.8 58.8,50.9 55.3,50.2 52.3,48.3 48.9,47.4 45.5,45.8 42.3,43.7 38.5,43.0 34.0,40.0 31.0,37.3 27.2,35.8 23.7,34.0 20.9,31.6" fill="none" stroke="#111" stroke-width="1.5" stroke-dasharray="6,1" vector-effect="non-scaling-stroke"/><ellipse cx="291" cy="259" rx="4.5" ry="7" transform="rotate(35 291 259)" fill="#8fcfee" stroke="#111" stroke-width="1.1"/><ellipse cx="279.5" cy="269.5" rx="2.6" ry="3.2" fill="#f4f4f4" stroke="#111" stroke-width="1"/><circle cx="315" cy="231.5" r="1.8" fill="#111"/><circle cx="254.5" cy="288.5" r="2.0" fill="#111"/><circle cx="213" cy="324" r="1.6" fill="#111"/><circle cx="300" cy="244" r="1.3" fill="#111"/><circle cx="232" cy="309" r="1.4" fill="#111"/><polygon points="330.0,201.0 338.0,199.0 341.0,205.0 334.0,208.0" fill="#e01818" stroke="#333" stroke-width="0.6"/><polygon points="241.0,303.0 250.0,299.0 256.0,306.0 251.0,312.0 243.0,310.0" fill="#e01818" stroke="#333" stroke-width="0.6"/><polygon points="189.0,331.0 196.0,329.0 198.0,337.0 191.0,340.0" fill="#e01818" stroke="#333" stroke-width="0.6"/><polygon points="155.0,366.0 164.0,362.0 169.0,368.0 162.0,374.0 156.0,373.0" fill="#e01818" stroke="#333" stroke-width="0.6"/><polyline points="216.5,277.5 205.0,300.0 188.5,328.3" fill="none" stroke="#e01818" stroke-width="1"/></g></svg><svg x="862.4" y="52.5" width="366.8" height="397.5" viewBox="0 0 366.8 397.5" overflow="hidden"><g transform="translate(0,1.91) scale(1,1.0325)"><rect x="-20" y="-40" width="420" height="480" fill="#f7f7f7"/><rect x="-20" y="-40" width="420" height="480" fill="url(#urb)"/><polygon points="18.0,44.0 51.0,48.0 51.0,80.0 18.0,76.0" fill="#dcdcdc"/><ellipse cx="116" cy="8" rx="22" ry="15" fill="#dfeec8"/><polygon points="150.0,-20.0 185.0,-20.0 160.0,62.0 135.0,62.0" fill="#dfeec8"/><polygon points="102.5,128.7 120.0,124.0 141.7,122.0 126.5,142.3 112.0,166.7 96.0,192.5 78.5,218.4 52.8,245.7 32.0,283.6 10.0,320.0 -10.0,330.0 -10.0,280.0 3.2,276.2 16.0,260.9 48.0,215.3 68.9,188.0 89.7,154.5" fill="#dfeec8"/><polyline points="3.0,285.0 40.0,235.0 75.0,200.0 98.0,165.0 112.0,140.0" fill="none" stroke="#c9dbb4" stroke-width="0.8"/><ellipse cx="156" cy="44" rx="5" ry="12" fill="#cbe8f8" transform="rotate(20 156 44)"/><polygon points="21.6,116.0 66.5,140.0 38.4,182.0 24.0,172.0 28.0,152.0 13.0,134.0" fill="#dfeec8"/><polygon points="-5.0,345.0 40.0,330.0 100.0,350.0 120.0,397.0 -5.0,420.0" fill="#dfeec8"/><polygon points="62.0,221.0 80.0,219.0 133.0,250.0 125.0,300.0 110.0,337.0 60.0,335.0 40.0,290.0 52.0,248.0" fill="#dedede"/><g stroke="#f6f6f6" stroke-width="1.5" clip-path="url(#gbclip)"><line x1="20" y1="135.0" x2="150" y2="210.0"/><line x1="20" y1="142.5" x2="150" y2="217.5"/><line x1="20" y1="150.0" x2="150" y2="225.0"/><line x1="20" y1="157.5" x2="150" y2="232.5"/><line x1="20" y1="165.0" x2="150" y2="240.0"/><line x1="20" y1="172.5" x2="150" y2="247.5"/><line x1="20" y1="180.0" x2="150" y2="255.0"/><line x1="20" y1="187.5" x2="150" y2="262.5"/><line x1="20" y1="195.0" x2="150" y2="270.0"/><line x1="20" y1="202.5" x2="150" y2="277.5"/><line x1="20" y1="210.0" x2="150" y2="285.0"/><line x1="20" y1="217.5" x2="150" y2="292.5"/><line x1="20" y1="225.0" x2="150" y2="300.0"/><line x1="20" y1="232.5" x2="150" y2="307.5"/><line x1="20" y1="240.0" x2="150" y2="315.0"/><line x1="20" y1="247.5" x2="150" y2="322.5"/><line x1="20" y1="255.0" x2="150" y2="330.0"/><line x1="20" y1="262.5" x2="150" y2="337.5"/><line x1="20" y1="270.0" x2="150" y2="345.0"/><line x1="20" y1="277.5" x2="150" y2="352.5"/><line x1="20" y1="285.0" x2="150" y2="360.0"/><line x1="20" y1="292.5" x2="150" y2="367.5"/><line x1="20" y1="300.0" x2="150" y2="375.0"/><line x1="20" y1="307.5" x2="150" y2="382.5"/><line x1="20" y1="315.0" x2="150" y2="390.0"/><line x1="20" y1="322.5" x2="150" y2="397.5"/><line x1="20" y1="330.0" x2="150" y2="405.0"/><line x1="20" y1="337.5" x2="150" y2="412.5"/><line x1="-22.0" y1="200" x2="-102.0" y2="340"/><line x1="-9.0" y1="200" x2="-89.0" y2="340"/><line x1="4.0" y1="200" x2="-76.0" y2="340"/><line x1="17.0" y1="200" x2="-63.0" y2="340"/><line x1="30.0" y1="200" x2="-50.0" y2="340"/><line x1="43.0" y1="200" x2="-37.0" y2="340"/><line x1="56.0" y1="200" x2="-24.0" y2="340"/><line x1="69.0" y1="200" x2="-11.0" y2="340"/><line x1="82.0" y1="200" x2="2.0" y2="340"/><line x1="95.0" y1="200" x2="15.0" y2="340"/><line x1="108.0" y1="200" x2="28.0" y2="340"/><line x1="121.0" y1="200" x2="41.0" y2="340"/><line x1="134.0" y1="200" x2="54.0" y2="340"/><line x1="147.0" y1="200" x2="67.0" y2="340"/><line x1="160.0" y1="200" x2="80.0" y2="340"/><line x1="173.0" y1="200" x2="93.0" y2="340"/><line x1="186.0" y1="200" x2="106.0" y2="340"/><line x1="199.0" y1="200" x2="119.0" y2="340"/></g><polygon points="43.0,66.0 72.0,63.0 100.0,70.0 130.0,78.0 130.0,100.0 124.0,119.0 100.0,118.0 72.0,104.0 43.0,92.0" fill="#dcdcef"/><polygon points="76.0,92.0 102.0,96.0 114.0,114.0 100.0,117.0 78.0,106.0" fill="#dddddd"/><polygon points="238.0,-20.0 300.0,-20.0 302.0,6.0 294.0,20.0 282.0,28.0 264.0,30.0 254.0,20.0 244.0,6.0" fill="#e6def1"/><polygon points="300.0,-20.0 400.0,-20.0 400.0,440.0 150.0,440.0 155.0,400.0 163.0,380.0 170.8,365.2 188.8,345.0 209.0,328.0 222.4,315.2 240.0,306.0 254.4,299.8 272.3,297.5 290.2,275.6 310.6,259.8 313.2,246.5 327.3,228.2 342.6,212.5 356.0,206.0 362.0,195.0 360.0,178.0 362.0,163.0 345.0,140.0 333.0,128.0 334.0,108.0 326.0,88.0 313.0,66.0 306.0,44.0 300.0,20.0" fill="#dfeec8"/><polygon points="352.0,195.0 356.0,206.0 342.6,212.5 327.3,228.2 313.2,246.5 310.6,259.8 290.2,275.6 272.3,297.5 254.4,299.8 240.0,306.0 222.4,315.2 209.0,328.0 188.8,345.0 170.8,365.2 163.0,380.0 155.0,400.0 120.0,400.0 300.0,200.0" fill="#f8f8f8"/><polygon points="278.0,72.0 300.0,60.0 312.0,74.0 328.0,96.0 334.0,108.0 328.0,120.0 318.0,134.0 300.0,130.0 284.0,120.0 276.0,100.0" fill="#f1f1f1"/><polygon points="282.0,22.0 300.0,30.0 306.0,46.0 300.0,62.0 286.0,50.0" fill="#f4f4f4"/><polygon points="400.0,250.0 368.0,276.0 348.0,294.0 333.0,309.0 318.0,318.0 306.0,322.0 303.0,335.0 289.0,341.0 274.0,347.0 266.0,359.0 252.0,369.0 237.0,377.0 229.0,389.0 229.0,440.0 400.0,440.0" fill="#cbe8f8"/><polygon points="274.0,373.0 290.0,371.0 310.0,378.0 335.0,378.0 352.0,385.0 363.0,392.0 363.0,398.0 340.0,394.0 318.0,390.0 296.0,388.0 280.0,384.0" fill="#dfeec8"/><line x1="230" y1="190" x2="310" y2="250" stroke="#cfe0b8" stroke-width="0.6"/><line x1="244" y1="200" x2="324" y2="260" stroke="#cfe0b8" stroke-width="0.6"/><line x1="258" y1="210" x2="338" y2="270" stroke="#cfe0b8" stroke-width="0.6"/><line x1="272" y1="220" x2="352" y2="280" stroke="#cfe0b8" stroke-width="0.6"/><line x1="286" y1="230" x2="366" y2="290" stroke="#cfe0b8" stroke-width="0.6"/><line x1="300" y1="240" x2="380" y2="300" stroke="#cfe0b8" stroke-width="0.6"/><line x1="0" y1="15" x2="33" y2="36" stroke="#9a9a9a" stroke-width="1.6"/><line x1="0" y1="15" x2="33" y2="36" stroke="#e8e8e8" stroke-width="0.6"/><line x1="15" y1="70" x2="129" y2="144" stroke="#9a9a9a" stroke-width="1.6"/><line x1="15" y1="70" x2="129" y2="144" stroke="#e8e8e8" stroke-width="0.6"/><line x1="1.6" y1="93" x2="33" y2="38" stroke="#9a9a9a" stroke-width="1.6"/><line x1="1.6" y1="93" x2="33" y2="38" stroke="#e8e8e8" stroke-width="0.6"/><line x1="141.7" y1="122" x2="128" y2="143" stroke="#9a9a9a" stroke-width="1.6"/><line x1="141.7" y1="122" x2="128" y2="143" stroke="#e8e8e8" stroke-width="0.6"/><line x1="128" y1="143" x2="78.5" y2="219" stroke="#9a9a9a" stroke-width="1.6"/><line x1="128" y1="143" x2="78.5" y2="219" stroke="#e8e8e8" stroke-width="0.6"/><line x1="78.5" y1="219" x2="133" y2="250" stroke="#9a9a9a" stroke-width="1.6"/><line x1="78.5" y1="219" x2="133" y2="250" stroke="#e8e8e8" stroke-width="0.6"/><line x1="102.5" y1="128.7" x2="3" y2="285" stroke="#9a9a9a" stroke-width="1.6"/><line x1="102.5" y1="128.7" x2="3" y2="285" stroke="#e8e8e8" stroke-width="0.6"/><line x1="281" y1="92" x2="372" y2="24" stroke="#9a9a9a" stroke-width="1.6"/><line x1="281" y1="92" x2="372" y2="24" stroke="#e8e8e8" stroke-width="0.6"/><g clip-path="url(#floodclip)"><rect x="-20" y="-40" width="420" height="480" fill="#fde3a7"/><polygon points="0.0,128.0 200.0,128.0 230.0,185.0 300.0,165.0 400.0,175.0 400.0,420.0 0.0,420.0" fill="url(#wet_lo)"/><polygon points="110.0,270.0 200.0,245.0 250.0,285.0 240.0,320.0 170.0,385.0 110.0,385.0" fill="url(#wet_mid)"/><polygon points="200.0,165.0 300.0,128.0 355.0,158.0 355.0,215.0 300.0,245.0 250.0,290.0 205.0,315.0 180.0,280.0 192.0,220.0" fill="url(#wet_hi)"/><polygon points="186.0,0.0 400.0,0.0 400.0,175.0 300.0,165.0 230.0,185.0 200.0,128.0 186.0,70.0" fill="url(#wet_lo)"/><polygon points="100.0,57.0 125.0,60.0 150.0,68.0 168.0,76.0 178.0,84.0 180.0,93.0 172.0,96.0 162.0,88.0 146.0,80.0 122.0,71.0 102.0,64.0" fill="#8fcfee"/><polygon points="30.0,28.0 55.0,33.0 90.0,46.0 90.0,50.0 55.0,38.0 30.0,32.0" fill="#8fcfee" opacity="0.6"/><ellipse cx="242" cy="103" rx="8.5" ry="7" fill="#8fcfee" transform="rotate(20 242 103)"/><ellipse cx="286" cy="70" rx="3.5" ry="8" fill="#8fcfee"/><polygon points="310.0,140.6 351.0,163.4 344.5,176.4 306.7,152.0" fill="#8fcfee"/><line x1="238" y1="110" x2="210" y2="138" stroke="#8fcfee" stroke-width="2.2"/><line x1="250" y1="110" x2="222" y2="142" stroke="#8fcfee" stroke-width="1.6"/><line x1="205" y1="42" x2="245" y2="55" stroke="#8fcfee" stroke-width="1.6"/><line x1="208" y1="50" x2="238" y2="60" stroke="#8fcfee" stroke-width="1.6"/><line x1="222" y1="85" x2="208" y2="118" stroke="#8fcfee" stroke-width="1.8"/><line x1="230" y1="86" x2="215" y2="120" stroke="#8fcfee" stroke-width="1.5"/><line x1="200" y1="92" x2="186" y2="124" stroke="#8fcfee" stroke-width="1.5"/><line x1="262" y1="92" x2="285" y2="84" stroke="#8fcfee" stroke-width="1.5"/><line x1="170" y1="140" x2="130" y2="200" stroke="#8fcfee" stroke-width="2.0"/><line x1="260" y1="120" x2="300" y2="128" stroke="#8fcfee" stroke-width="1.5"/><line x1="141" y1="234" x2="194" y2="182" stroke="#8fcfee" stroke-width="5"/><line x1="148" y1="240" x2="200" y2="190" stroke="#8fcfee" stroke-width="2"/><line x1="150" y1="196" x2="150" y2="176" stroke="#8fcfee" stroke-width="2.5"/><line x1="158" y1="194" x2="158" y2="172" stroke="#8fcfee" stroke-width="2.5"/><line x1="166" y1="190" x2="166" y2="170" stroke="#8fcfee" stroke-width="2.5"/><line x1="146" y1="178" x2="172" y2="174" stroke="#8fcfee" stroke-width="2.5"/><line x1="232" y1="150" x2="262" y2="118" stroke="#8fcfee" stroke-width="3"/><line x1="215" y1="150" x2="250" y2="112" stroke="#8fcfee" stroke-width="2"/><line x1="196" y1="37" x2="230" y2="62" stroke="#1f6fe0" stroke-width="2.5"/><polygon points="210.0,52.0 222.0,58.0 224.0,66.0 212.0,66.0" fill="#1f6fe0"/><rect x="155" y="362" width="6" height="9" fill="#1f6fe0"/></g><polygon points="18.5,28.9 20.0,25.2 23.2,24.9 26.5,24.6 29.6,23.7 33.5,22.7 37.0,20.7 40.3,20.0 43.0,17.8 46.9,16.7 50.4,14.8 54.8,11.9 59.3,11.9 60.0,16.3 56.3,19.3 53.5,21.0 51.8,23.7 51.9,26.8 50.4,29.6 53.3,32.6 56.7,34.0 59.7,36.3 63.2,37.3 66.7,38.5 69.5,40.1 72.8,39.6 75.6,41.1 78.7,41.7 81.5,43.0 84.4,44.0 87.4,44.9 90.6,44.8 93.5,46.0 96.3,47.4 99.4,47.9 102.0,49.9 105.0,50.5 108.2,50.3 111.0,51.8 113.8,53.2 117.2,53.0 119.9,54.7 123.2,54.8 126.0,56.3 129.1,56.0 131.7,58.2 134.9,57.6 137.9,58.2 140.7,59.3 143.4,61.0 146.4,61.7 149.7,61.6 152.3,63.6 155.5,63.7 159.2,65.6 163.0,67.4 166.4,67.7 169.9,66.9 173.3,67.4 176.2,65.3 177.8,62.2 179.6,59.4 181.5,56.6 182.2,53.3 184.3,49.9 185.0,45.9 187.8,43.6 190.8,41.8 193.9,40.0 194.8,36.8 196.3,33.8 198.3,31.1 201.1,29.6 204.3,29.6 206.5,26.9 209.4,24.8 211.7,22.2 214.0,18.6 217.6,16.3 220.0,14.3 222.0,11.9 226.5,11.9 230.3,13.8 233.9,16.3 237.8,18.2 241.3,20.7 244.7,23.4 248.7,25.2 251.7,29.6 252.4,32.6 253.1,35.6 254.6,40.0 252.6,42.4 250.2,44.4 247.2,47.4 245.0,50.4 247.6,52.6 250.2,54.8 252.9,57.3 256.1,59.3 256.1,63.7 259.6,66.1 262.0,69.6 264.5,72.3 268.4,72.8 270.9,75.5 273.1,77.8 275.4,80.0 278.3,81.5 281.3,77.0 281.2,73.8 282.8,71.1 280.1,68.7 276.7,67.4 273.9,65.2 271.5,63.1 268.4,62.0 266.5,59.3 263.6,56.8 262.0,53.3 263.5,48.9 260.8,47.1 259.0,44.4 257.6,40.0 262.0,40.0 265.0,40.8 268.0,40.0 272.4,38.5 276.8,41.5 280.1,43.3 282.8,45.9 285.5,48.5 288.7,50.4 289.5,53.7 291.7,56.3 292.4,59.6 294.6,62.2 295.3,65.9 295.4,69.6 293.8,72.7 291.7,75.5 289.4,77.7 287.2,80.0 283.9,82.6 281.3,85.9 280.4,89.2 278.3,91.8 276.8,94.6 276.1,97.8 276.7,100.9 278.3,103.7 279.2,106.9 281.3,109.6 282.8,114.0 278.3,112.6 273.9,115.5 274.7,119.2 273.9,123.0 276.7,124.5 279.8,124.4 280.6,121.1 282.8,118.5 285.9,119.7 288.7,121.5 290.8,123.9 293.2,126.0 296.3,128.5 300.2,129.4 303.5,131.5 305.6,133.9 308.6,135.1 311.4,136.5 313.8,138.5 316.7,139.8 319.6,141.2 322.5,142.7 324.9,145.0 328.0,146.2 330.2,148.7 332.7,150.9 335.9,151.8 339.8,153.9 343.0,157.0 345.8,158.3 347.0,161.5 349.9,162.8 349.5,166.5 349.2,170.2 347.9,174.0 346.2,177.6 346.0,181.4 344.8,185.0 347.2,188.7 349.9,192.3 347.2,195.7 345.5,199.7 345.6,203.3 345.5,207.0 346.7,210.0 347.7,213.0 344.8,215.9 341.6,213.9 339.6,210.7 337.6,207.6 334.5,205.6 331.5,201.1 333.0,196.0 328.6,198.2 328.6,202.1 327.0,205.6 324.9,208.2 322.7,210.7 320.7,213.4 319.7,216.6 317.1,219.3 313.8,221.0 310.7,222.1 308.0,224.0 305.6,226.2 304.3,229.2 302.8,232.0 300.5,237.5 297.2,240.1 294.6,243.4 292.0,245.5 288.7,246.4 285.8,248.7 282.8,250.8 281.3,253.7 278.3,255.3 276.8,258.2 274.1,260.7 270.9,262.7 269.5,265.7 268.0,268.6 264.4,270.9 262.0,274.5 257.6,276.0 254.4,276.9 251.7,279.0 250.1,281.7 250.2,284.9 249.5,288.6 248.7,292.3 247.2,296.0 245.7,299.7 243.2,301.7 241.3,304.2 238.4,305.0 235.4,305.7 232.4,306.1 229.4,305.7 225.0,308.6 222.9,311.7 220.5,314.5 218.0,317.9 214.6,320.5 211.7,322.1 208.7,323.4 205.2,325.0 202.8,327.9 199.4,329.4 196.9,332.3 193.7,335.1 190.9,338.2 188.0,340.5 185.0,342.7 183.1,346.5 180.7,350.1 179.2,353.5 176.9,356.3 174.5,359.0 172.0,361.3 169.7,363.7 168.3,366.9 166.0,369.3 162.9,372.1 160.5,375.5 157.5,374.0 154.5,370.5 156.7,367.9 158.5,365.0 160.0,362.0 161.3,359.1 162.0,356.0 160.0,353.0 157.0,350.1 154.3,347.5 151.0,345.6 148.0,343.6 145.2,341.2 142.3,340.3 139.2,340.6 136.3,339.7 133.3,339.2 130.4,338.2 127.4,338.2 124.5,337.2 121.5,336.8 120.4,333.2 120.0,329.4 118.4,325.9 115.5,323.4 112.7,320.3 109.6,317.5 111.2,314.6 112.6,311.6 114.9,308.0 118.5,305.7 122.3,304.3 126.0,302.7 129.7,302.3 133.3,302.7 137.1,301.5 140.7,299.7 143.6,297.4 146.6,295.3 149.2,293.4 151.0,290.8 154.2,288.1 157.0,285.0 159.7,282.3 161.5,279.0 162.2,275.9 163.7,273.1 164.4,270.0 167.2,267.9 169.7,265.6 171.8,262.7 172.3,258.9 173.3,255.3 174.4,252.0 175.0,248.5 174.8,245.0 172.8,241.1 170.3,237.5 167.0,235.2 163.0,234.5 159.1,234.4 155.5,236.0 151.8,236.0 148.0,236.0 146.6,232.3 145.2,228.6 143.9,225.8 143.7,222.7 142.0,218.7 139.2,215.3 134.8,212.3 130.7,213.9 127.4,216.8 125.2,219.0 123.0,221.2 121.9,224.8 121.5,228.6 119.6,232.2 118.5,236.0 114.0,237.5 114.9,234.6 114.4,231.5 115.5,228.6 114.5,224.7 112.6,221.2 113.4,217.5 114.0,213.8 116.5,211.1 118.5,208.0 120.6,204.9 123.0,202.0 126.8,200.7 130.4,199.0 132.3,196.1 133.6,192.8 134.8,189.6 137.3,187.7 139.2,185.2 140.0,182.2 141.7,179.7 143.6,177.3 145.2,174.8 147.6,171.2 149.6,167.4 150.6,163.7 152.8,160.6 154.0,157.0 157.1,155.0 160.0,152.6 161.4,149.6 164.0,147.5 166.0,145.0 167.0,141.9 168.2,138.8 169.8,135.9 171.8,133.3 173.5,130.1 175.3,127.0 177.8,124.4 181.2,122.4 185.0,121.5 190.0,123.0 194.1,122.7 198.0,124.0 195.0,119.0 191.6,117.9 188.3,116.9 185.0,115.5 181.5,113.9 177.8,112.6 174.1,110.9 170.3,109.6 166.5,108.6 163.0,106.7 159.4,105.2 155.5,105.2 151.6,105.3 148.0,103.7 144.3,102.4 140.7,100.7 136.3,102.2 133.4,103.3 130.4,103.7 133.3,99.2 136.2,98.3 139.2,97.8 140.1,94.5 142.2,91.8 143.5,87.5 143.7,83.0 142.0,80.1 140.7,77.0 137.4,79.6 133.3,80.7 131.8,77.0 130.4,72.6 127.4,73.1 124.4,74.0 120.6,74.0 117.0,72.6 114.0,74.7 111.0,77.0 106.7,80.0 103.7,79.2 103.7,74.0 102.7,71.1 102.2,68.1 97.8,71.1 95.7,68.8 93.3,66.7 87.4,65.9 86.0,69.6 83.2,68.0 80.0,68.1 76.8,66.1 73.0,65.3 69.6,63.7 68.9,59.3 69.1,56.2 68.1,53.3 65.2,52.3 62.2,51.8 58.8,50.9 55.3,50.2 52.3,48.3 48.9,47.4 45.5,45.8 42.3,43.7 38.5,43.0 34.0,40.0 31.0,37.3 27.2,35.8 23.7,34.0 20.9,31.6" fill="none" stroke="#111" stroke-width="1.5" stroke-dasharray="6,1" vector-effect="non-scaling-stroke"/><ellipse cx="291" cy="259" rx="4.5" ry="7" transform="rotate(35 291 259)" fill="#8fcfee" stroke="#111" stroke-width="1.1"/><ellipse cx="279.5" cy="269.5" rx="2.6" ry="3.2" fill="#f4f4f4" stroke="#111" stroke-width="1"/><circle cx="315" cy="231.5" r="1.8" fill="#111"/><circle cx="254.5" cy="288.5" r="2.0" fill="#111"/><circle cx="213" cy="324" r="1.6" fill="#111"/><circle cx="300" cy="244" r="1.3" fill="#111"/><circle cx="232" cy="309" r="1.4" fill="#111"/></g></svg><svg x="75.0" y="493.5" width="364.5" height="397.5" viewBox="0 0 364.5 397.5" overflow="hidden"><g transform="translate(0,-0.6) scale(1,1.0427)"><rect x="-20" y="-40" width="420" height="480" fill="#f7f7f7"/><rect x="-20" y="-40" width="420" height="480" fill="url(#urb)"/><polygon points="18.0,44.0 51.0,48.0 51.0,80.0 18.0,76.0" fill="#dcdcdc"/><ellipse cx="116" cy="8" rx="22" ry="15" fill="#dfeec8"/><polygon points="150.0,-20.0 185.0,-20.0 160.0,62.0 135.0,62.0" fill="#dfeec8"/><polygon points="102.5,128.7 120.0,124.0 141.7,122.0 126.5,142.3 112.0,166.7 96.0,192.5 78.5,218.4 52.8,245.7 32.0,283.6 10.0,320.0 -10.0,330.0 -10.0,280.0 3.2,276.2 16.0,260.9 48.0,215.3 68.9,188.0 89.7,154.5" fill="#dfeec8"/><polyline points="3.0,285.0 40.0,235.0 75.0,200.0 98.0,165.0 112.0,140.0" fill="none" stroke="#c9dbb4" stroke-width="0.8"/><ellipse cx="156" cy="44" rx="5" ry="12" fill="#cbe8f8" transform="rotate(20 156 44)"/><polygon points="21.6,116.0 66.5,140.0 38.4,182.0 24.0,172.0 28.0,152.0 13.0,134.0" fill="#dfeec8"/><polygon points="-5.0,345.0 40.0,330.0 100.0,350.0 120.0,397.0 -5.0,420.0" fill="#dfeec8"/><polygon points="62.0,221.0 80.0,219.0 133.0,250.0 125.0,300.0 110.0,337.0 60.0,335.0 40.0,290.0 52.0,248.0" fill="#dedede"/><g stroke="#f6f6f6" stroke-width="1.5" clip-path="url(#gbclip)"><line x1="20" y1="135.0" x2="150" y2="210.0"/><line x1="20" y1="142.5" x2="150" y2="217.5"/><line x1="20" y1="150.0" x2="150" y2="225.0"/><line x1="20" y1="157.5" x2="150" y2="232.5"/><line x1="20" y1="165.0" x2="150" y2="240.0"/><line x1="20" y1="172.5" x2="150" y2="247.5"/><line x1="20" y1="180.0" x2="150" y2="255.0"/><line x1="20" y1="187.5" x2="150" y2="262.5"/><line x1="20" y1="195.0" x2="150" y2="270.0"/><line x1="20" y1="202.5" x2="150" y2="277.5"/><line x1="20" y1="210.0" x2="150" y2="285.0"/><line x1="20" y1="217.5" x2="150" y2="292.5"/><line x1="20" y1="225.0" x2="150" y2="300.0"/><line x1="20" y1="232.5" x2="150" y2="307.5"/><line x1="20" y1="240.0" x2="150" y2="315.0"/><line x1="20" y1="247.5" x2="150" y2="322.5"/><line x1="20" y1="255.0" x2="150" y2="330.0"/><line x1="20" y1="262.5" x2="150" y2="337.5"/><line x1="20" y1="270.0" x2="150" y2="345.0"/><line x1="20" y1="277.5" x2="150" y2="352.5"/><line x1="20" y1="285.0" x2="150" y2="360.0"/><line x1="20" y1="292.5" x2="150" y2="367.5"/><line x1="20" y1="300.0" x2="150" y2="375.0"/><line x1="20" y1="307.5" x2="150" y2="382.5"/><line x1="20" y1="315.0" x2="150" y2="390.0"/><line x1="20" y1="322.5" x2="150" y2="397.5"/><line x1="20" y1="330.0" x2="150" y2="405.0"/><line x1="20" y1="337.5" x2="150" y2="412.5"/><line x1="-22.0" y1="200" x2="-102.0" y2="340"/><line x1="-9.0" y1="200" x2="-89.0" y2="340"/><line x1="4.0" y1="200" x2="-76.0" y2="340"/><line x1="17.0" y1="200" x2="-63.0" y2="340"/><line x1="30.0" y1="200" x2="-50.0" y2="340"/><line x1="43.0" y1="200" x2="-37.0" y2="340"/><line x1="56.0" y1="200" x2="-24.0" y2="340"/><line x1="69.0" y1="200" x2="-11.0" y2="340"/><line x1="82.0" y1="200" x2="2.0" y2="340"/><line x1="95.0" y1="200" x2="15.0" y2="340"/><line x1="108.0" y1="200" x2="28.0" y2="340"/><line x1="121.0" y1="200" x2="41.0" y2="340"/><line x1="134.0" y1="200" x2="54.0" y2="340"/><line x1="147.0" y1="200" x2="67.0" y2="340"/><line x1="160.0" y1="200" x2="80.0" y2="340"/><line x1="173.0" y1="200" x2="93.0" y2="340"/><line x1="186.0" y1="200" x2="106.0" y2="340"/><line x1="199.0" y1="200" x2="119.0" y2="340"/></g><polygon points="43.0,66.0 72.0,63.0 100.0,70.0 130.0,78.0 130.0,100.0 124.0,119.0 100.0,118.0 72.0,104.0 43.0,92.0" fill="#dcdcef"/><polygon points="76.0,92.0 102.0,96.0 114.0,114.0 100.0,117.0 78.0,106.0" fill="#dddddd"/><polygon points="238.0,-20.0 300.0,-20.0 302.0,6.0 294.0,20.0 282.0,28.0 264.0,30.0 254.0,20.0 244.0,6.0" fill="#e6def1"/><polygon points="300.0,-20.0 400.0,-20.0 400.0,440.0 150.0,440.0 155.0,400.0 163.0,380.0 170.8,365.2 188.8,345.0 209.0,328.0 222.4,315.2 240.0,306.0 254.4,299.8 272.3,297.5 290.2,275.6 310.6,259.8 313.2,246.5 327.3,228.2 342.6,212.5 356.0,206.0 362.0,195.0 360.0,178.0 362.0,163.0 345.0,140.0 333.0,128.0 334.0,108.0 326.0,88.0 313.0,66.0 306.0,44.0 300.0,20.0" fill="#dfeec8"/><polygon points="352.0,195.0 356.0,206.0 342.6,212.5 327.3,228.2 313.2,246.5 310.6,259.8 290.2,275.6 272.3,297.5 254.4,299.8 240.0,306.0 222.4,315.2 209.0,328.0 188.8,345.0 170.8,365.2 163.0,380.0 155.0,400.0 120.0,400.0 300.0,200.0" fill="#f8f8f8"/><polygon points="278.0,72.0 300.0,60.0 312.0,74.0 328.0,96.0 334.0,108.0 328.0,120.0 318.0,134.0 300.0,130.0 284.0,120.0 276.0,100.0" fill="#f1f1f1"/><polygon points="282.0,22.0 300.0,30.0 306.0,46.0 300.0,62.0 286.0,50.0" fill="#f4f4f4"/><polygon points="400.0,250.0 368.0,276.0 348.0,294.0 333.0,309.0 318.0,318.0 306.0,322.0 303.0,335.0 289.0,341.0 274.0,347.0 266.0,359.0 252.0,369.0 237.0,377.0 229.0,389.0 229.0,440.0 400.0,440.0" fill="#cbe8f8"/><polygon points="274.0,373.0 290.0,371.0 310.0,378.0 335.0,378.0 352.0,385.0 363.0,392.0 363.0,398.0 340.0,394.0 318.0,390.0 296.0,388.0 280.0,384.0" fill="#dfeec8"/><line x1="230" y1="190" x2="310" y2="250" stroke="#cfe0b8" stroke-width="0.6"/><line x1="244" y1="200" x2="324" y2="260" stroke="#cfe0b8" stroke-width="0.6"/><line x1="258" y1="210" x2="338" y2="270" stroke="#cfe0b8" stroke-width="0.6"/><line x1="272" y1="220" x2="352" y2="280" stroke="#cfe0b8" stroke-width="0.6"/><line x1="286" y1="230" x2="366" y2="290" stroke="#cfe0b8" stroke-width="0.6"/><line x1="300" y1="240" x2="380" y2="300" stroke="#cfe0b8" stroke-width="0.6"/><line x1="0" y1="15" x2="33" y2="36" stroke="#9a9a9a" stroke-width="1.6"/><line x1="0" y1="15" x2="33" y2="36" stroke="#e8e8e8" stroke-width="0.6"/><line x1="15" y1="70" x2="129" y2="144" stroke="#9a9a9a" stroke-width="1.6"/><line x1="15" y1="70" x2="129" y2="144" stroke="#e8e8e8" stroke-width="0.6"/><line x1="1.6" y1="93" x2="33" y2="38" stroke="#9a9a9a" stroke-width="1.6"/><line x1="1.6" y1="93" x2="33" y2="38" stroke="#e8e8e8" stroke-width="0.6"/><line x1="141.7" y1="122" x2="128" y2="143" stroke="#9a9a9a" stroke-width="1.6"/><line x1="141.7" y1="122" x2="128" y2="143" stroke="#e8e8e8" stroke-width="0.6"/><line x1="128" y1="143" x2="78.5" y2="219" stroke="#9a9a9a" stroke-width="1.6"/><line x1="128" y1="143" x2="78.5" y2="219" stroke="#e8e8e8" stroke-width="0.6"/><line x1="78.5" y1="219" x2="133" y2="250" stroke="#9a9a9a" stroke-width="1.6"/><line x1="78.5" y1="219" x2="133" y2="250" stroke="#e8e8e8" stroke-width="0.6"/><line x1="102.5" y1="128.7" x2="3" y2="285" stroke="#9a9a9a" stroke-width="1.6"/><line x1="102.5" y1="128.7" x2="3" y2="285" stroke="#e8e8e8" stroke-width="0.6"/><line x1="281" y1="92" x2="372" y2="24" stroke="#9a9a9a" stroke-width="1.6"/><line x1="281" y1="92" x2="372" y2="24" stroke="#e8e8e8" stroke-width="0.6"/><g clip-path="url(#floodclip)"><rect x="-20" y="-40" width="420" height="480" fill="#bfe5f9"/><rect x="-20" y="-40" width="420" height="480" fill="url(#white_dots)"/><polygon points="180.0,170.0 400.0,150.0 400.0,420.0 0.0,420.0" fill="url(#yel_vlo)"/><polygon points="110.0,175.0 200.0,165.0 235.0,200.0 250.0,250.0 240.0,310.0 200.0,345.0 170.0,385.0 100.0,385.0" fill="url(#yel_mid)"/><polygon points="206.0,13.0 255.0,13.0 255.0,56.0 206.0,56.0" fill="url(#yel_hi)"/><polygon points="228.0,65.0 275.0,65.0 275.0,104.0 228.0,104.0" fill="url(#yel_hi)"/><polygon points="258.0,38.0 300.0,38.0 300.0,90.0 258.0,90.0" fill="url(#yel_mid)"/><polygon points="20.0,27.0 60.0,30.0 100.0,44.0 150.0,58.0 178.0,72.0 182.0,90.0 170.0,88.0 150.0,70.0 100.0,54.0 60.0,38.0 20.0,31.0" fill="#fdf1a6"/><polygon points="300.0,130.0 350.0,162.0 349.0,178.0 330.0,182.0 300.0,168.0" fill="#fdf1a6"/><line x1="217" y1="146" x2="278" y2="91" stroke="#fdf1a6" stroke-width="7"/><line x1="179" y1="99" x2="224" y2="151" stroke="#fdf1a6" stroke-width="5"/><line x1="290" y1="125" x2="345" y2="160" stroke="#fdf1a6" stroke-width="4"/><line x1="208" y1="16" x2="250" y2="16" stroke="#fdf1a6" stroke-width="3"/><line x1="208" y1="16" x2="208" y2="50" stroke="#fdf1a6" stroke-width="3"/><polygon points="88.0,66.0 100.0,68.0 108.0,72.0 104.0,75.0 90.0,70.0" fill="#e0401a"/></g><polygon points="18.5,28.9 20.0,25.2 23.2,24.9 26.5,24.6 29.6,23.7 33.5,22.7 37.0,20.7 40.3,20.0 43.0,17.8 46.9,16.7 50.4,14.8 54.8,11.9 59.3,11.9 60.0,16.3 56.3,19.3 53.5,21.0 51.8,23.7 51.9,26.8 50.4,29.6 53.3,32.6 56.7,34.0 59.7,36.3 63.2,37.3 66.7,38.5 69.5,40.1 72.8,39.6 75.6,41.1 78.7,41.7 81.5,43.0 84.4,44.0 87.4,44.9 90.6,44.8 93.5,46.0 96.3,47.4 99.4,47.9 102.0,49.9 105.0,50.5 108.2,50.3 111.0,51.8 113.8,53.2 117.2,53.0 119.9,54.7 123.2,54.8 126.0,56.3 129.1,56.0 131.7,58.2 134.9,57.6 137.9,58.2 140.7,59.3 143.4,61.0 146.4,61.7 149.7,61.6 152.3,63.6 155.5,63.7 159.2,65.6 163.0,67.4 166.4,67.7 169.9,66.9 173.3,67.4 176.2,65.3 177.8,62.2 179.6,59.4 181.5,56.6 182.2,53.3 184.3,49.9 185.0,45.9 187.8,43.6 190.8,41.8 193.9,40.0 194.8,36.8 196.3,33.8 198.3,31.1 201.1,29.6 204.3,29.6 206.5,26.9 209.4,24.8 211.7,22.2 214.0,18.6 217.6,16.3 220.0,14.3 222.0,11.9 226.5,11.9 230.3,13.8 233.9,16.3 237.8,18.2 241.3,20.7 244.7,23.4 248.7,25.2 251.7,29.6 252.4,32.6 253.1,35.6 254.6,40.0 252.6,42.4 250.2,44.4 247.2,47.4 245.0,50.4 247.6,52.6 250.2,54.8 252.9,57.3 256.1,59.3 256.1,63.7 259.6,66.1 262.0,69.6 264.5,72.3 268.4,72.8 270.9,75.5 273.1,77.8 275.4,80.0 278.3,81.5 281.3,77.0 281.2,73.8 282.8,71.1 280.1,68.7 276.7,67.4 273.9,65.2 271.5,63.1 268.4,62.0 266.5,59.3 263.6,56.8 262.0,53.3 263.5,48.9 260.8,47.1 259.0,44.4 257.6,40.0 262.0,40.0 265.0,40.8 268.0,40.0 272.4,38.5 276.8,41.5 280.1,43.3 282.8,45.9 285.5,48.5 288.7,50.4 289.5,53.7 291.7,56.3 292.4,59.6 294.6,62.2 295.3,65.9 295.4,69.6 293.8,72.7 291.7,75.5 289.4,77.7 287.2,80.0 283.9,82.6 281.3,85.9 280.4,89.2 278.3,91.8 276.8,94.6 276.1,97.8 276.7,100.9 278.3,103.7 279.2,106.9 281.3,109.6 282.8,114.0 278.3,112.6 273.9,115.5 274.7,119.2 273.9,123.0 276.7,124.5 279.8,124.4 280.6,121.1 282.8,118.5 285.9,119.7 288.7,121.5 290.8,123.9 293.2,126.0 296.3,128.5 300.2,129.4 303.5,131.5 305.6,133.9 308.6,135.1 311.4,136.5 313.8,138.5 316.7,139.8 319.6,141.2 322.5,142.7 324.9,145.0 328.0,146.2 330.2,148.7 332.7,150.9 335.9,151.8 339.8,153.9 343.0,157.0 345.8,158.3 347.0,161.5 349.9,162.8 349.5,166.5 349.2,170.2 347.9,174.0 346.2,177.6 346.0,181.4 344.8,185.0 347.2,188.7 349.9,192.3 347.2,195.7 345.5,199.7 345.6,203.3 345.5,207.0 346.7,210.0 347.7,213.0 344.8,215.9 341.6,213.9 339.6,210.7 337.6,207.6 334.5,205.6 331.5,201.1 333.0,196.0 328.6,198.2 328.6,202.1 327.0,205.6 324.9,208.2 322.7,210.7 320.7,213.4 319.7,216.6 317.1,219.3 313.8,221.0 310.7,222.1 308.0,224.0 305.6,226.2 304.3,229.2 302.8,232.0 300.5,237.5 297.2,240.1 294.6,243.4 292.0,245.5 288.7,246.4 285.8,248.7 282.8,250.8 281.3,253.7 278.3,255.3 276.8,258.2 274.1,260.7 270.9,262.7 269.5,265.7 268.0,268.6 264.4,270.9 262.0,274.5 257.6,276.0 254.4,276.9 251.7,279.0 250.1,281.7 250.2,284.9 249.5,288.6 248.7,292.3 247.2,296.0 245.7,299.7 243.2,301.7 241.3,304.2 238.4,305.0 235.4,305.7 232.4,306.1 229.4,305.7 225.0,308.6 222.9,311.7 220.5,314.5 218.0,317.9 214.6,320.5 211.7,322.1 208.7,323.4 205.2,325.0 202.8,327.9 199.4,329.4 196.9,332.3 193.7,335.1 190.9,338.2 188.0,340.5 185.0,342.7 183.1,346.5 180.7,350.1 179.2,353.5 176.9,356.3 174.5,359.0 172.0,361.3 169.7,363.7 168.3,366.9 166.0,369.3 162.9,372.1 160.5,375.5 157.5,374.0 154.5,370.5 156.7,367.9 158.5,365.0 160.0,362.0 161.3,359.1 162.0,356.0 160.0,353.0 157.0,350.1 154.3,347.5 151.0,345.6 148.0,343.6 145.2,341.2 142.3,340.3 139.2,340.6 136.3,339.7 133.3,339.2 130.4,338.2 127.4,338.2 124.5,337.2 121.5,336.8 120.4,333.2 120.0,329.4 118.4,325.9 115.5,323.4 112.7,320.3 109.6,317.5 111.2,314.6 112.6,311.6 114.9,308.0 118.5,305.7 122.3,304.3 126.0,302.7 129.7,302.3 133.3,302.7 137.1,301.5 140.7,299.7 143.6,297.4 146.6,295.3 149.2,293.4 151.0,290.8 154.2,288.1 157.0,285.0 159.7,282.3 161.5,279.0 162.2,275.9 163.7,273.1 164.4,270.0 167.2,267.9 169.7,265.6 171.8,262.7 172.3,258.9 173.3,255.3 174.4,252.0 175.0,248.5 174.8,245.0 172.8,241.1 170.3,237.5 167.0,235.2 163.0,234.5 159.1,234.4 155.5,236.0 151.8,236.0 148.0,236.0 146.6,232.3 145.2,228.6 143.9,225.8 143.7,222.7 142.0,218.7 139.2,215.3 134.8,212.3 130.7,213.9 127.4,216.8 125.2,219.0 123.0,221.2 121.9,224.8 121.5,228.6 119.6,232.2 118.5,236.0 114.0,237.5 114.9,234.6 114.4,231.5 115.5,228.6 114.5,224.7 112.6,221.2 113.4,217.5 114.0,213.8 116.5,211.1 118.5,208.0 120.6,204.9 123.0,202.0 126.8,200.7 130.4,199.0 132.3,196.1 133.6,192.8 134.8,189.6 137.3,187.7 139.2,185.2 140.0,182.2 141.7,179.7 143.6,177.3 145.2,174.8 147.6,171.2 149.6,167.4 150.6,163.7 152.8,160.6 154.0,157.0 157.1,155.0 160.0,152.6 161.4,149.6 164.0,147.5 166.0,145.0 167.0,141.9 168.2,138.8 169.8,135.9 171.8,133.3 173.5,130.1 175.3,127.0 177.8,124.4 181.2,122.4 185.0,121.5 190.0,123.0 194.1,122.7 198.0,124.0 195.0,119.0 191.6,117.9 188.3,116.9 185.0,115.5 181.5,113.9 177.8,112.6 174.1,110.9 170.3,109.6 166.5,108.6 163.0,106.7 159.4,105.2 155.5,105.2 151.6,105.3 148.0,103.7 144.3,102.4 140.7,100.7 136.3,102.2 133.4,103.3 130.4,103.7 133.3,99.2 136.2,98.3 139.2,97.8 140.1,94.5 142.2,91.8 143.5,87.5 143.7,83.0 142.0,80.1 140.7,77.0 137.4,79.6 133.3,80.7 131.8,77.0 130.4,72.6 127.4,73.1 124.4,74.0 120.6,74.0 117.0,72.6 114.0,74.7 111.0,77.0 106.7,80.0 103.7,79.2 103.7,74.0 102.7,71.1 102.2,68.1 97.8,71.1 95.7,68.8 93.3,66.7 87.4,65.9 86.0,69.6 83.2,68.0 80.0,68.1 76.8,66.1 73.0,65.3 69.6,63.7 68.9,59.3 69.1,56.2 68.1,53.3 65.2,52.3 62.2,51.8 58.8,50.9 55.3,50.2 52.3,48.3 48.9,47.4 45.5,45.8 42.3,43.7 38.5,43.0 34.0,40.0 31.0,37.3 27.2,35.8 23.7,34.0 20.9,31.6" fill="none" stroke="#111" stroke-width="1.5" stroke-dasharray="6,1" vector-effect="non-scaling-stroke"/><ellipse cx="291" cy="259" rx="4.5" ry="7" transform="rotate(35 291 259)" fill="#bfe5f9" stroke="#111" stroke-width="1.1"/><ellipse cx="279.5" cy="269.5" rx="2.6" ry="3.2" fill="#f4f4f4" stroke="#111" stroke-width="1"/><circle cx="315" cy="231.5" r="1.8" fill="#111"/><circle cx="254.5" cy="288.5" r="2.0" fill="#111"/><circle cx="213" cy="324" r="1.6" fill="#111"/><circle cx="300" cy="244" r="1.3" fill="#111"/><circle cx="232" cy="309" r="1.4" fill="#111"/></g></svg><svg x="468.3" y="493.2" width="367.2" height="397.8" viewBox="0 0 367.2 397.8" overflow="hidden"><g transform="translate(0,11.86) scale(1,0.8689)"><rect x="-20" y="-40" width="420" height="480" fill="#f7f7f7"/><rect x="-20" y="-40" width="420" height="480" fill="url(#urb)"/><polygon points="18.0,44.0 51.0,48.0 51.0,80.0 18.0,76.0" fill="#dcdcdc"/><ellipse cx="116" cy="8" rx="22" ry="15" fill="#dfeec8"/><polygon points="150.0,-20.0 185.0,-20.0 160.0,62.0 135.0,62.0" fill="#dfeec8"/><polygon points="102.5,128.7 120.0,124.0 141.7,122.0 126.5,142.3 112.0,166.7 96.0,192.5 78.5,218.4 52.8,245.7 32.0,283.6 10.0,320.0 -10.0,330.0 -10.0,280.0 3.2,276.2 16.0,260.9 48.0,215.3 68.9,188.0 89.7,154.5" fill="#dfeec8"/><polyline points="3.0,285.0 40.0,235.0 75.0,200.0 98.0,165.0 112.0,140.0" fill="none" stroke="#c9dbb4" stroke-width="0.8"/><ellipse cx="156" cy="44" rx="5" ry="12" fill="#cbe8f8" transform="rotate(20 156 44)"/><polygon points="21.6,116.0 66.5,140.0 38.4,182.0 24.0,172.0 28.0,152.0 13.0,134.0" fill="#dfeec8"/><polygon points="-5.0,345.0 40.0,330.0 100.0,350.0 120.0,397.0 -5.0,420.0" fill="#dfeec8"/><polygon points="62.0,221.0 80.0,219.0 133.0,250.0 125.0,300.0 110.0,337.0 60.0,335.0 40.0,290.0 52.0,248.0" fill="#dedede"/><g stroke="#f6f6f6" stroke-width="1.5" clip-path="url(#gbclip)"><line x1="20" y1="135.0" x2="150" y2="210.0"/><line x1="20" y1="142.5" x2="150" y2="217.5"/><line x1="20" y1="150.0" x2="150" y2="225.0"/><line x1="20" y1="157.5" x2="150" y2="232.5"/><line x1="20" y1="165.0" x2="150" y2="240.0"/><line x1="20" y1="172.5" x2="150" y2="247.5"/><line x1="20" y1="180.0" x2="150" y2="255.0"/><line x1="20" y1="187.5" x2="150" y2="262.5"/><line x1="20" y1="195.0" x2="150" y2="270.0"/><line x1="20" y1="202.5" x2="150" y2="277.5"/><line x1="20" y1="210.0" x2="150" y2="285.0"/><line x1="20" y1="217.5" x2="150" y2="292.5"/><line x1="20" y1="225.0" x2="150" y2="300.0"/><line x1="20" y1="232.5" x2="150" y2="307.5"/><line x1="20" y1="240.0" x2="150" y2="315.0"/><line x1="20" y1="247.5" x2="150" y2="322.5"/><line x1="20" y1="255.0" x2="150" y2="330.0"/><line x1="20" y1="262.5" x2="150" y2="337.5"/><line x1="20" y1="270.0" x2="150" y2="345.0"/><line x1="20" y1="277.5" x2="150" y2="352.5"/><line x1="20" y1="285.0" x2="150" y2="360.0"/><line x1="20" y1="292.5" x2="150" y2="367.5"/><line x1="20" y1="300.0" x2="150" y2="375.0"/><line x1="20" y1="307.5" x2="150" y2="382.5"/><line x1="20" y1="315.0" x2="150" y2="390.0"/><line x1="20" y1="322.5" x2="150" y2="397.5"/><line x1="20" y1="330.0" x2="150" y2="405.0"/><line x1="20" y1="337.5" x2="150" y2="412.5"/><line x1="-22.0" y1="200" x2="-102.0" y2="340"/><line x1="-9.0" y1="200" x2="-89.0" y2="340"/><line x1="4.0" y1="200" x2="-76.0" y2="340"/><line x1="17.0" y1="200" x2="-63.0" y2="340"/><line x1="30.0" y1="200" x2="-50.0" y2="340"/><line x1="43.0" y1="200" x2="-37.0" y2="340"/><line x1="56.0" y1="200" x2="-24.0" y2="340"/><line x1="69.0" y1="200" x2="-11.0" y2="340"/><line x1="82.0" y1="200" x2="2.0" y2="340"/><line x1="95.0" y1="200" x2="15.0" y2="340"/><line x1="108.0" y1="200" x2="28.0" y2="340"/><line x1="121.0" y1="200" x2="41.0" y2="340"/><line x1="134.0" y1="200" x2="54.0" y2="340"/><line x1="147.0" y1="200" x2="67.0" y2="340"/><line x1="160.0" y1="200" x2="80.0" y2="340"/><line x1="173.0" y1="200" x2="93.0" y2="340"/><line x1="186.0" y1="200" x2="106.0" y2="340"/><line x1="199.0" y1="200" x2="119.0" y2="340"/></g><polygon points="43.0,66.0 72.0,63.0 100.0,70.0 130.0,78.0 130.0,100.0 124.0,119.0 100.0,118.0 72.0,104.0 43.0,92.0" fill="#dcdcef"/><polygon points="76.0,92.0 102.0,96.0 114.0,114.0 100.0,117.0 78.0,106.0" fill="#dddddd"/><polygon points="238.0,-20.0 300.0,-20.0 302.0,6.0 294.0,20.0 282.0,28.0 264.0,30.0 254.0,20.0 244.0,6.0" fill="#e6def1"/><polygon points="300.0,-20.0 400.0,-20.0 400.0,440.0 150.0,440.0 155.0,400.0 163.0,380.0 170.8,365.2 188.8,345.0 209.0,328.0 222.4,315.2 240.0,306.0 254.4,299.8 272.3,297.5 290.2,275.6 310.6,259.8 313.2,246.5 327.3,228.2 342.6,212.5 356.0,206.0 362.0,195.0 360.0,178.0 362.0,163.0 345.0,140.0 333.0,128.0 334.0,108.0 326.0,88.0 313.0,66.0 306.0,44.0 300.0,20.0" fill="#dfeec8"/><polygon points="352.0,195.0 356.0,206.0 342.6,212.5 327.3,228.2 313.2,246.5 310.6,259.8 290.2,275.6 272.3,297.5 254.4,299.8 240.0,306.0 222.4,315.2 209.0,328.0 188.8,345.0 170.8,365.2 163.0,380.0 155.0,400.0 120.0,400.0 300.0,200.0" fill="#f8f8f8"/><polygon points="278.0,72.0 300.0,60.0 312.0,74.0 328.0,96.0 334.0,108.0 328.0,120.0 318.0,134.0 300.0,130.0 284.0,120.0 276.0,100.0" fill="#f1f1f1"/><polygon points="282.0,22.0 300.0,30.0 306.0,46.0 300.0,62.0 286.0,50.0" fill="#f4f4f4"/><polygon points="400.0,250.0 368.0,276.0 348.0,294.0 333.0,309.0 318.0,318.0 306.0,322.0 303.0,335.0 289.0,341.0 274.0,347.0 266.0,359.0 252.0,369.0 237.0,377.0 229.0,389.0 229.0,440.0 400.0,440.0" fill="#cbe8f8"/><polygon points="274.0,373.0 290.0,371.0 310.0,378.0 335.0,378.0 352.0,385.0 363.0,392.0 363.0,398.0 340.0,394.0 318.0,390.0 296.0,388.0 280.0,384.0" fill="#dfeec8"/><line x1="230" y1="190" x2="310" y2="250" stroke="#cfe0b8" stroke-width="0.6"/><line x1="244" y1="200" x2="324" y2="260" stroke="#cfe0b8" stroke-width="0.6"/><line x1="258" y1="210" x2="338" y2="270" stroke="#cfe0b8" stroke-width="0.6"/><line x1="272" y1="220" x2="352" y2="280" stroke="#cfe0b8" stroke-width="0.6"/><line x1="286" y1="230" x2="366" y2="290" stroke="#cfe0b8" stroke-width="0.6"/><line x1="300" y1="240" x2="380" y2="300" stroke="#cfe0b8" stroke-width="0.6"/><line x1="0" y1="15" x2="33" y2="36" stroke="#9a9a9a" stroke-width="1.6"/><line x1="0" y1="15" x2="33" y2="36" stroke="#e8e8e8" stroke-width="0.6"/><line x1="15" y1="70" x2="129" y2="144" stroke="#9a9a9a" stroke-width="1.6"/><line x1="15" y1="70" x2="129" y2="144" stroke="#e8e8e8" stroke-width="0.6"/><line x1="1.6" y1="93" x2="33" y2="38" stroke="#9a9a9a" stroke-width="1.6"/><line x1="1.6" y1="93" x2="33" y2="38" stroke="#e8e8e8" stroke-width="0.6"/><line x1="141.7" y1="122" x2="128" y2="143" stroke="#9a9a9a" stroke-width="1.6"/><line x1="141.7" y1="122" x2="128" y2="143" stroke="#e8e8e8" stroke-width="0.6"/><line x1="128" y1="143" x2="78.5" y2="219" stroke="#9a9a9a" stroke-width="1.6"/><line x1="128" y1="143" x2="78.5" y2="219" stroke="#e8e8e8" stroke-width="0.6"/><line x1="78.5" y1="219" x2="133" y2="250" stroke="#9a9a9a" stroke-width="1.6"/><line x1="78.5" y1="219" x2="133" y2="250" stroke="#e8e8e8" stroke-width="0.6"/><line x1="102.5" y1="128.7" x2="3" y2="285" stroke="#9a9a9a" stroke-width="1.6"/><line x1="102.5" y1="128.7" x2="3" y2="285" stroke="#e8e8e8" stroke-width="0.6"/><line x1="281" y1="92" x2="372" y2="24" stroke="#9a9a9a" stroke-width="1.6"/><line x1="281" y1="92" x2="372" y2="24" stroke="#e8e8e8" stroke-width="0.6"/><g clip-path="url(#floodclip)"><rect x="-20" y="-40" width="420" height="480" fill="#bfe5f9"/><rect x="-20" y="-40" width="420" height="480" fill="url(#white_dots)"/><polygon points="0.0,128.0 200.0,128.0 230.0,185.0 300.0,165.0 400.0,175.0 400.0,420.0 0.0,420.0" fill="url(#yel_vlo)"/><polygon points="186.0,0.0 400.0,0.0 400.0,175.0 300.0,165.0 230.0,185.0 200.0,128.0 186.0,70.0" fill="url(#yel_lo)"/><polygon points="247.0,166.0 314.0,175.0 314.0,218.0 247.0,205.0" fill="url(#yel_hi)"/><polygon points="180.0,282.0 236.0,282.0 236.0,321.0 180.0,321.0" fill="url(#yel_hi)"/><polygon points="138.0,220.0 190.0,163.0 206.0,170.0 152.0,234.0" fill="url(#yel_mid)"/><polygon points="146.0,308.0 191.0,308.0 191.0,347.0 146.0,347.0" fill="url(#yel_mid)"/><polygon points="202.0,238.0 230.0,238.0 230.0,269.0 202.0,269.0" fill="url(#yel_mid)"/><polygon points="222.0,71.0 270.0,71.0 270.0,99.0 222.0,99.0" fill="url(#yel_mid)"/><polygon points="40.0,30.0 70.0,38.0 110.0,52.0 150.0,64.0 172.0,74.0 178.0,88.0 168.0,90.0 150.0,76.0 110.0,60.0 70.0,44.0 40.0,35.0" fill="#fdf1a6"/><polygon points="300.0,130.0 350.0,162.0 349.0,178.0 330.0,182.0 300.0,168.0" fill="#fdf1a6"/><line x1="216" y1="107" x2="260" y2="140" stroke="#fdf1a6" stroke-width="5"/><line x1="216" y1="140" x2="260" y2="107" stroke="#fdf1a6" stroke-width="5"/><polygon points="96.0,68.0 106.0,70.0 112.0,75.0 106.0,77.0" fill="#e0401a"/><rect x="332" y="197" width="14" height="15" fill="#f5ad3c"/><rect x="184" y="326" width="11" height="13" fill="#f5ad3c"/><rect x="155" y="352" width="16" height="20" fill="#f5ad3c"/></g><polygon points="18.5,28.9 20.0,25.2 23.2,24.9 26.5,24.6 29.6,23.7 33.5,22.7 37.0,20.7 40.3,20.0 43.0,17.8 46.9,16.7 50.4,14.8 54.8,11.9 59.3,11.9 60.0,16.3 56.3,19.3 53.5,21.0 51.8,23.7 51.9,26.8 50.4,29.6 53.3,32.6 56.7,34.0 59.7,36.3 63.2,37.3 66.7,38.5 69.5,40.1 72.8,39.6 75.6,41.1 78.7,41.7 81.5,43.0 84.4,44.0 87.4,44.9 90.6,44.8 93.5,46.0 96.3,47.4 99.4,47.9 102.0,49.9 105.0,50.5 108.2,50.3 111.0,51.8 113.8,53.2 117.2,53.0 119.9,54.7 123.2,54.8 126.0,56.3 129.1,56.0 131.7,58.2 134.9,57.6 137.9,58.2 140.7,59.3 143.4,61.0 146.4,61.7 149.7,61.6 152.3,63.6 155.5,63.7 159.2,65.6 163.0,67.4 166.4,67.7 169.9,66.9 173.3,67.4 176.2,65.3 177.8,62.2 179.6,59.4 181.5,56.6 182.2,53.3 184.3,49.9 185.0,45.9 187.8,43.6 190.8,41.8 193.9,40.0 194.8,36.8 196.3,33.8 198.3,31.1 201.1,29.6 204.3,29.6 206.5,26.9 209.4,24.8 211.7,22.2 214.0,18.6 217.6,16.3 220.0,14.3 222.0,11.9 226.5,11.9 230.3,13.8 233.9,16.3 237.8,18.2 241.3,20.7 244.7,23.4 248.7,25.2 251.7,29.6 252.4,32.6 253.1,35.6 254.6,40.0 252.6,42.4 250.2,44.4 247.2,47.4 245.0,50.4 247.6,52.6 250.2,54.8 252.9,57.3 256.1,59.3 256.1,63.7 259.6,66.1 262.0,69.6 264.5,72.3 268.4,72.8 270.9,75.5 273.1,77.8 275.4,80.0 278.3,81.5 281.3,77.0 281.2,73.8 282.8,71.1 280.1,68.7 276.7,67.4 273.9,65.2 271.5,63.1 268.4,62.0 266.5,59.3 263.6,56.8 262.0,53.3 263.5,48.9 260.8,47.1 259.0,44.4 257.6,40.0 262.0,40.0 265.0,40.8 268.0,40.0 272.4,38.5 276.8,41.5 280.1,43.3 282.8,45.9 285.5,48.5 288.7,50.4 289.5,53.7 291.7,56.3 292.4,59.6 294.6,62.2 295.3,65.9 295.4,69.6 293.8,72.7 291.7,75.5 289.4,77.7 287.2,80.0 283.9,82.6 281.3,85.9 280.4,89.2 278.3,91.8 276.8,94.6 276.1,97.8 276.7,100.9 278.3,103.7 279.2,106.9 281.3,109.6 282.8,114.0 278.3,112.6 273.9,115.5 274.7,119.2 273.9,123.0 276.7,124.5 279.8,124.4 280.6,121.1 282.8,118.5 285.9,119.7 288.7,121.5 290.8,123.9 293.2,126.0 296.3,128.5 300.2,129.4 303.5,131.5 305.6,133.9 308.6,135.1 311.4,136.5 313.8,138.5 316.7,139.8 319.6,141.2 322.5,142.7 324.9,145.0 328.0,146.2 330.2,148.7 332.7,150.9 335.9,151.8 339.8,153.9 343.0,157.0 345.8,158.3 347.0,161.5 349.9,162.8 349.5,166.5 349.2,170.2 347.9,174.0 346.2,177.6 346.0,181.4 344.8,185.0 347.2,188.7 349.9,192.3 347.2,195.7 345.5,199.7 345.6,203.3 345.5,207.0 346.7,210.0 347.7,213.0 344.8,215.9 341.6,213.9 339.6,210.7 337.6,207.6 334.5,205.6 331.5,201.1 333.0,196.0 328.6,198.2 328.6,202.1 327.0,205.6 324.9,208.2 322.7,210.7 320.7,213.4 319.7,216.6 317.1,219.3 313.8,221.0 310.7,222.1 308.0,224.0 305.6,226.2 304.3,229.2 302.8,232.0 300.5,237.5 297.2,240.1 294.6,243.4 292.0,245.5 288.7,246.4 285.8,248.7 282.8,250.8 281.3,253.7 278.3,255.3 276.8,258.2 274.1,260.7 270.9,262.7 269.5,265.7 268.0,268.6 264.4,270.9 262.0,274.5 257.6,276.0 254.4,276.9 251.7,279.0 250.1,281.7 250.2,284.9 249.5,288.6 248.7,292.3 247.2,296.0 245.7,299.7 243.2,301.7 241.3,304.2 238.4,305.0 235.4,305.7 232.4,306.1 229.4,305.7 225.0,308.6 222.9,311.7 220.5,314.5 218.0,317.9 214.6,320.5 211.7,322.1 208.7,323.4 205.2,325.0 202.8,327.9 199.4,329.4 196.9,332.3 193.7,335.1 190.9,338.2 188.0,340.5 185.0,342.7 183.1,346.5 180.7,350.1 179.2,353.5 176.9,356.3 174.5,359.0 172.0,361.3 169.7,363.7 168.3,366.9 166.0,369.3 162.9,372.1 160.5,375.5 157.5,374.0 154.5,370.5 156.7,367.9 158.5,365.0 160.0,362.0 161.3,359.1 162.0,356.0 160.0,353.0 157.0,350.1 154.3,347.5 151.0,345.6 148.0,343.6 145.2,341.2 142.3,340.3 139.2,340.6 136.3,339.7 133.3,339.2 130.4,338.2 127.4,338.2 124.5,337.2 121.5,336.8 120.4,333.2 120.0,329.4 118.4,325.9 115.5,323.4 112.7,320.3 109.6,317.5 111.2,314.6 112.6,311.6 114.9,308.0 118.5,305.7 122.3,304.3 126.0,302.7 129.7,302.3 133.3,302.7 137.1,301.5 140.7,299.7 143.6,297.4 146.6,295.3 149.2,293.4 151.0,290.8 154.2,288.1 157.0,285.0 159.7,282.3 161.5,279.0 162.2,275.9 163.7,273.1 164.4,270.0 167.2,267.9 169.7,265.6 171.8,262.7 172.3,258.9 173.3,255.3 174.4,252.0 175.0,248.5 174.8,245.0 172.8,241.1 170.3,237.5 167.0,235.2 163.0,234.5 159.1,234.4 155.5,236.0 151.8,236.0 148.0,236.0 146.6,232.3 145.2,228.6 143.9,225.8 143.7,222.7 142.0,218.7 139.2,215.3 134.8,212.3 130.7,213.9 127.4,216.8 125.2,219.0 123.0,221.2 121.9,224.8 121.5,228.6 119.6,232.2 118.5,236.0 114.0,237.5 114.9,234.6 114.4,231.5 115.5,228.6 114.5,224.7 112.6,221.2 113.4,217.5 114.0,213.8 116.5,211.1 118.5,208.0 120.6,204.9 123.0,202.0 126.8,200.7 130.4,199.0 132.3,196.1 133.6,192.8 134.8,189.6 137.3,187.7 139.2,185.2 140.0,182.2 141.7,179.7 143.6,177.3 145.2,174.8 147.6,171.2 149.6,167.4 150.6,163.7 152.8,160.6 154.0,157.0 157.1,155.0 160.0,152.6 161.4,149.6 164.0,147.5 166.0,145.0 167.0,141.9 168.2,138.8 169.8,135.9 171.8,133.3 173.5,130.1 175.3,127.0 177.8,124.4 181.2,122.4 185.0,121.5 190.0,123.0 194.1,122.7 198.0,124.0 195.0,119.0 191.6,117.9 188.3,116.9 185.0,115.5 181.5,113.9 177.8,112.6 174.1,110.9 170.3,109.6 166.5,108.6 163.0,106.7 159.4,105.2 155.5,105.2 151.6,105.3 148.0,103.7 144.3,102.4 140.7,100.7 136.3,102.2 133.4,103.3 130.4,103.7 133.3,99.2 136.2,98.3 139.2,97.8 140.1,94.5 142.2,91.8 143.5,87.5 143.7,83.0 142.0,80.1 140.7,77.0 137.4,79.6 133.3,80.7 131.8,77.0 130.4,72.6 127.4,73.1 124.4,74.0 120.6,74.0 117.0,72.6 114.0,74.7 111.0,77.0 106.7,80.0 103.7,79.2 103.7,74.0 102.7,71.1 102.2,68.1 97.8,71.1 95.7,68.8 93.3,66.7 87.4,65.9 86.0,69.6 83.2,68.0 80.0,68.1 76.8,66.1 73.0,65.3 69.6,63.7 68.9,59.3 69.1,56.2 68.1,53.3 65.2,52.3 62.2,51.8 58.8,50.9 55.3,50.2 52.3,48.3 48.9,47.4 45.5,45.8 42.3,43.7 38.5,43.0 34.0,40.0 31.0,37.3 27.2,35.8 23.7,34.0 20.9,31.6" fill="none" stroke="#111" stroke-width="1.5" stroke-dasharray="6,1" vector-effect="non-scaling-stroke"/><ellipse cx="291" cy="259" rx="4.5" ry="7" transform="rotate(35 291 259)" fill="#bfe5f9" stroke="#111" stroke-width="1.1"/><ellipse cx="279.5" cy="269.5" rx="2.6" ry="3.2" fill="#f4f4f4" stroke="#111" stroke-width="1"/><circle cx="315" cy="231.5" r="1.8" fill="#111"/><circle cx="254.5" cy="288.5" r="2.0" fill="#111"/><circle cx="213" cy="324" r="1.6" fill="#111"/><circle cx="300" cy="244" r="1.3" fill="#111"/><circle cx="232" cy="309" r="1.4" fill="#111"/><polygon points="241.0,303.0 250.0,299.0 256.0,306.0 251.0,312.0 243.0,310.0" fill="#f5ad3c" stroke="#333" stroke-width="0.6"/></g></svg><svg x="863.0" y="493.5" width="366.0" height="397.5" viewBox="0 0 366.0 397.5" overflow="hidden"><g transform="translate(0,0.0) scale(1,1.0)"><rect x="-20" y="-40" width="420" height="480" fill="#f7f7f7"/><rect x="-20" y="-40" width="420" height="480" fill="url(#urb)"/><polygon points="18.0,44.0 51.0,48.0 51.0,80.0 18.0,76.0" fill="#dcdcdc"/><ellipse cx="116" cy="8" rx="22" ry="15" fill="#dfeec8"/><polygon points="150.0,-20.0 185.0,-20.0 160.0,62.0 135.0,62.0" fill="#dfeec8"/><polygon points="102.5,128.7 120.0,124.0 141.7,122.0 126.5,142.3 112.0,166.7 96.0,192.5 78.5,218.4 52.8,245.7 32.0,283.6 10.0,320.0 -10.0,330.0 -10.0,280.0 3.2,276.2 16.0,260.9 48.0,215.3 68.9,188.0 89.7,154.5" fill="#dfeec8"/><polyline points="3.0,285.0 40.0,235.0 75.0,200.0 98.0,165.0 112.0,140.0" fill="none" stroke="#c9dbb4" stroke-width="0.8"/><ellipse cx="156" cy="44" rx="5" ry="12" fill="#cbe8f8" transform="rotate(20 156 44)"/><polygon points="21.6,116.0 66.5,140.0 38.4,182.0 24.0,172.0 28.0,152.0 13.0,134.0" fill="#dfeec8"/><polygon points="-5.0,345.0 40.0,330.0 100.0,350.0 120.0,397.0 -5.0,420.0" fill="#dfeec8"/><polygon points="62.0,221.0 80.0,219.0 133.0,250.0 125.0,300.0 110.0,337.0 60.0,335.0 40.0,290.0 52.0,248.0" fill="#dedede"/><g stroke="#f6f6f6" stroke-width="1.5" clip-path="url(#gbclip)"><line x1="20" y1="135.0" x2="150" y2="210.0"/><line x1="20" y1="142.5" x2="150" y2="217.5"/><line x1="20" y1="150.0" x2="150" y2="225.0"/><line x1="20" y1="157.5" x2="150" y2="232.5"/><line x1="20" y1="165.0" x2="150" y2="240.0"/><line x1="20" y1="172.5" x2="150" y2="247.5"/><line x1="20" y1="180.0" x2="150" y2="255.0"/><line x1="20" y1="187.5" x2="150" y2="262.5"/><line x1="20" y1="195.0" x2="150" y2="270.0"/><line x1="20" y1="202.5" x2="150" y2="277.5"/><line x1="20" y1="210.0" x2="150" y2="285.0"/><line x1="20" y1="217.5" x2="150" y2="292.5"/><line x1="20" y1="225.0" x2="150" y2="300.0"/><line x1="20" y1="232.5" x2="150" y2="307.5"/><line x1="20" y1="240.0" x2="150" y2="315.0"/><line x1="20" y1="247.5" x2="150" y2="322.5"/><line x1="20" y1="255.0" x2="150" y2="330.0"/><line x1="20" y1="262.5" x2="150" y2="337.5"/><line x1="20" y1="270.0" x2="150" y2="345.0"/><line x1="20" y1="277.5" x2="150" y2="352.5"/><line x1="20" y1="285.0" x2="150" y2="360.0"/><line x1="20" y1="292.5" x2="150" y2="367.5"/><line x1="20" y1="300.0" x2="150" y2="375.0"/><line x1="20" y1="307.5" x2="150" y2="382.5"/><line x1="20" y1="315.0" x2="150" y2="390.0"/><line x1="20" y1="322.5" x2="150" y2="397.5"/><line x1="20" y1="330.0" x2="150" y2="405.0"/><line x1="20" y1="337.5" x2="150" y2="412.5"/><line x1="-22.0" y1="200" x2="-102.0" y2="340"/><line x1="-9.0" y1="200" x2="-89.0" y2="340"/><line x1="4.0" y1="200" x2="-76.0" y2="340"/><line x1="17.0" y1="200" x2="-63.0" y2="340"/><line x1="30.0" y1="200" x2="-50.0" y2="340"/><line x1="43.0" y1="200" x2="-37.0" y2="340"/><line x1="56.0" y1="200" x2="-24.0" y2="340"/><line x1="69.0" y1="200" x2="-11.0" y2="340"/><line x1="82.0" y1="200" x2="2.0" y2="340"/><line x1="95.0" y1="200" x2="15.0" y2="340"/><line x1="108.0" y1="200" x2="28.0" y2="340"/><line x1="121.0" y1="200" x2="41.0" y2="340"/><line x1="134.0" y1="200" x2="54.0" y2="340"/><line x1="147.0" y1="200" x2="67.0" y2="340"/><line x1="160.0" y1="200" x2="80.0" y2="340"/><line x1="173.0" y1="200" x2="93.0" y2="340"/><line x1="186.0" y1="200" x2="106.0" y2="340"/><line x1="199.0" y1="200" x2="119.0" y2="340"/></g><polygon points="43.0,66.0 72.0,63.0 100.0,70.0 130.0,78.0 130.0,100.0 124.0,119.0 100.0,118.0 72.0,104.0 43.0,92.0" fill="#dcdcef"/><polygon points="76.0,92.0 102.0,96.0 114.0,114.0 100.0,117.0 78.0,106.0" fill="#dddddd"/><polygon points="238.0,-20.0 300.0,-20.0 302.0,6.0 294.0,20.0 282.0,28.0 264.0,30.0 254.0,20.0 244.0,6.0" fill="#e6def1"/><polygon points="300.0,-20.0 400.0,-20.0 400.0,440.0 150.0,440.0 155.0,400.0 163.0,380.0 170.8,365.2 188.8,345.0 209.0,328.0 222.4,315.2 240.0,306.0 254.4,299.8 272.3,297.5 290.2,275.6 310.6,259.8 313.2,246.5 327.3,228.2 342.6,212.5 356.0,206.0 362.0,195.0 360.0,178.0 362.0,163.0 345.0,140.0 333.0,128.0 334.0,108.0 326.0,88.0 313.0,66.0 306.0,44.0 300.0,20.0" fill="#dfeec8"/><polygon points="352.0,195.0 356.0,206.0 342.6,212.5 327.3,228.2 313.2,246.5 310.6,259.8 290.2,275.6 272.3,297.5 254.4,299.8 240.0,306.0 222.4,315.2 209.0,328.0 188.8,345.0 170.8,365.2 163.0,380.0 155.0,400.0 120.0,400.0 300.0,200.0" fill="#f8f8f8"/><polygon points="278.0,72.0 300.0,60.0 312.0,74.0 328.0,96.0 334.0,108.0 328.0,120.0 318.0,134.0 300.0,130.0 284.0,120.0 276.0,100.0" fill="#f1f1f1"/><polygon points="282.0,22.0 300.0,30.0 306.0,46.0 300.0,62.0 286.0,50.0" fill="#f4f4f4"/><polygon points="400.0,250.0 368.0,276.0 348.0,294.0 333.0,309.0 318.0,318.0 306.0,322.0 303.0,335.0 289.0,341.0 274.0,347.0 266.0,359.0 252.0,369.0 237.0,377.0 229.0,389.0 229.0,440.0 400.0,440.0" fill="#cbe8f8"/><polygon points="274.0,373.0 290.0,371.0 310.0,378.0 335.0,378.0 352.0,385.0 363.0,392.0 363.0,398.0 340.0,394.0 318.0,390.0 296.0,388.0 280.0,384.0" fill="#dfeec8"/><line x1="230" y1="190" x2="310" y2="250" stroke="#cfe0b8" stroke-width="0.6"/><line x1="244" y1="200" x2="324" y2="260" stroke="#cfe0b8" stroke-width="0.6"/><line x1="258" y1="210" x2="338" y2="270" stroke="#cfe0b8" stroke-width="0.6"/><line x1="272" y1="220" x2="352" y2="280" stroke="#cfe0b8" stroke-width="0.6"/><line x1="286" y1="230" x2="366" y2="290" stroke="#cfe0b8" stroke-width="0.6"/><line x1="300" y1="240" x2="380" y2="300" stroke="#cfe0b8" stroke-width="0.6"/><line x1="0" y1="15" x2="33" y2="36" stroke="#9a9a9a" stroke-width="1.6"/><line x1="0" y1="15" x2="33" y2="36" stroke="#e8e8e8" stroke-width="0.6"/><line x1="15" y1="70" x2="129" y2="144" stroke="#9a9a9a" stroke-width="1.6"/><line x1="15" y1="70" x2="129" y2="144" stroke="#e8e8e8" stroke-width="0.6"/><line x1="1.6" y1="93" x2="33" y2="38" stroke="#9a9a9a" stroke-width="1.6"/><line x1="1.6" y1="93" x2="33" y2="38" stroke="#e8e8e8" stroke-width="0.6"/><line x1="141.7" y1="122" x2="128" y2="143" stroke="#9a9a9a" stroke-width="1.6"/><line x1="141.7" y1="122" x2="128" y2="143" stroke="#e8e8e8" stroke-width="0.6"/><line x1="128" y1="143" x2="78.5" y2="219" stroke="#9a9a9a" stroke-width="1.6"/><line x1="128" y1="143" x2="78.5" y2="219" stroke="#e8e8e8" stroke-width="0.6"/><line x1="78.5" y1="219" x2="133" y2="250" stroke="#9a9a9a" stroke-width="1.6"/><line x1="78.5" y1="219" x2="133" y2="250" stroke="#e8e8e8" stroke-width="0.6"/><line x1="102.5" y1="128.7" x2="3" y2="285" stroke="#9a9a9a" stroke-width="1.6"/><line x1="102.5" y1="128.7" x2="3" y2="285" stroke="#e8e8e8" stroke-width="0.6"/><line x1="281" y1="92" x2="372" y2="24" stroke="#9a9a9a" stroke-width="1.6"/><line x1="281" y1="92" x2="372" y2="24" stroke="#e8e8e8" stroke-width="0.6"/><g clip-path="url(#floodclip)"><rect x="-20" y="-40" width="420" height="480" fill="#bfe5f9"/><rect x="-20" y="-40" width="420" height="480" fill="url(#white_dots)"/><polygon points="300.0,130.0 350.0,162.0 349.0,178.0 330.0,182.0 300.0,168.0" fill="#fdf1a6"/><polygon points="198.0,38.0 230.0,56.0 228.0,60.0 210.0,52.0 212.0,64.0 205.0,66.0 200.0,50.0" fill="#1450d8"/><ellipse cx="243" cy="105" rx="7" ry="5" fill="#16b4ee"/><polygon points="252.0,222.0 262.0,221.0 272.0,228.0 284.0,238.0 284.0,254.0 272.0,258.0 262.0,252.0 256.0,244.0" fill="#19b5ee" opacity="0.75"/><line x1="110" y1="66" x2="133" y2="77" stroke="#19b5ee" stroke-width="2"/><line x1="232" y1="72" x2="237" y2="63" stroke="#f4f9fc" stroke-width="2.2"/><line x1="240" y1="70" x2="245" y2="61" stroke="#f4f9fc" stroke-width="2.2"/><line x1="248" y1="68" x2="253" y2="59" stroke="#f4f9fc" stroke-width="2.2"/><line x1="256" y1="66" x2="261" y2="57" stroke="#f4f9fc" stroke-width="2.2"/><line x1="236" y1="84" x2="241" y2="75" stroke="#f4f9fc" stroke-width="2.2"/><line x1="244" y1="82" x2="249" y2="73" stroke="#f4f9fc" stroke-width="2.2"/><line x1="252" y1="80" x2="257" y2="71" stroke="#f4f9fc" stroke-width="2.2"/><line x1="260" y1="78" x2="265" y2="69" stroke="#f4f9fc" stroke-width="2.2"/><line x1="228" y1="96" x2="233" y2="87" stroke="#f4f9fc" stroke-width="2.2"/><line x1="238" y1="94" x2="243" y2="85" stroke="#f4f9fc" stroke-width="2.2"/><polygon points="157.0,362.0 165.0,360.0 163.0,372.0 155.0,374.0" fill="#19a5ee"/><polygon points="171.0,133.0 184.0,120.0 186.0,124.0 175.0,140.0 168.0,160.0 164.0,158.0" fill="#19b5ee" opacity="0.8"/></g><polygon points="18.5,28.9 20.0,25.2 23.2,24.9 26.5,24.6 29.6,23.7 33.5,22.7 37.0,20.7 40.3,20.0 43.0,17.8 46.9,16.7 50.4,14.8 54.8,11.9 59.3,11.9 60.0,16.3 56.3,19.3 53.5,21.0 51.8,23.7 51.9,26.8 50.4,29.6 53.3,32.6 56.7,34.0 59.7,36.3 63.2,37.3 66.7,38.5 69.5,40.1 72.8,39.6 75.6,41.1 78.7,41.7 81.5,43.0 84.4,44.0 87.4,44.9 90.6,44.8 93.5,46.0 96.3,47.4 99.4,47.9 102.0,49.9 105.0,50.5 108.2,50.3 111.0,51.8 113.8,53.2 117.2,53.0 119.9,54.7 123.2,54.8 126.0,56.3 129.1,56.0 131.7,58.2 134.9,57.6 137.9,58.2 140.7,59.3 143.4,61.0 146.4,61.7 149.7,61.6 152.3,63.6 155.5,63.7 159.2,65.6 163.0,67.4 166.4,67.7 169.9,66.9 173.3,67.4 176.2,65.3 177.8,62.2 179.6,59.4 181.5,56.6 182.2,53.3 184.3,49.9 185.0,45.9 187.8,43.6 190.8,41.8 193.9,40.0 194.8,36.8 196.3,33.8 198.3,31.1 201.1,29.6 204.3,29.6 206.5,26.9 209.4,24.8 211.7,22.2 214.0,18.6 217.6,16.3 220.0,14.3 222.0,11.9 226.5,11.9 230.3,13.8 233.9,16.3 237.8,18.2 241.3,20.7 244.7,23.4 248.7,25.2 251.7,29.6 252.4,32.6 253.1,35.6 254.6,40.0 252.6,42.4 250.2,44.4 247.2,47.4 245.0,50.4 247.6,52.6 250.2,54.8 252.9,57.3 256.1,59.3 256.1,63.7 259.6,66.1 262.0,69.6 264.5,72.3 268.4,72.8 270.9,75.5 273.1,77.8 275.4,80.0 278.3,81.5 281.3,77.0 281.2,73.8 282.8,71.1 280.1,68.7 276.7,67.4 273.9,65.2 271.5,63.1 268.4,62.0 266.5,59.3 263.6,56.8 262.0,53.3 263.5,48.9 260.8,47.1 259.0,44.4 257.6,40.0 262.0,40.0 265.0,40.8 268.0,40.0 272.4,38.5 276.8,41.5 280.1,43.3 282.8,45.9 285.5,48.5 288.7,50.4 289.5,53.7 291.7,56.3 292.4,59.6 294.6,62.2 295.3,65.9 295.4,69.6 293.8,72.7 291.7,75.5 289.4,77.7 287.2,80.0 283.9,82.6 281.3,85.9 280.4,89.2 278.3,91.8 276.8,94.6 276.1,97.8 276.7,100.9 278.3,103.7 279.2,106.9 281.3,109.6 282.8,114.0 278.3,112.6 273.9,115.5 274.7,119.2 273.9,123.0 276.7,124.5 279.8,124.4 280.6,121.1 282.8,118.5 285.9,119.7 288.7,121.5 290.8,123.9 293.2,126.0 296.3,128.5 300.2,129.4 303.5,131.5 305.6,133.9 308.6,135.1 311.4,136.5 313.8,138.5 316.7,139.8 319.6,141.2 322.5,142.7 324.9,145.0 328.0,146.2 330.2,148.7 332.7,150.9 335.9,151.8 339.8,153.9 343.0,157.0 345.8,158.3 347.0,161.5 349.9,162.8 349.5,166.5 349.2,170.2 347.9,174.0 346.2,177.6 346.0,181.4 344.8,185.0 347.2,188.7 349.9,192.3 347.2,195.7 345.5,199.7 345.6,203.3 345.5,207.0 346.7,210.0 347.7,213.0 344.8,215.9 341.6,213.9 339.6,210.7 337.6,207.6 334.5,205.6 331.5,201.1 333.0,196.0 328.6,198.2 328.6,202.1 327.0,205.6 324.9,208.2 322.7,210.7 320.7,213.4 319.7,216.6 317.1,219.3 313.8,221.0 310.7,222.1 308.0,224.0 305.6,226.2 304.3,229.2 302.8,232.0 300.5,237.5 297.2,240.1 294.6,243.4 292.0,245.5 288.7,246.4 285.8,248.7 282.8,250.8 281.3,253.7 278.3,255.3 276.8,258.2 274.1,260.7 270.9,262.7 269.5,265.7 268.0,268.6 264.4,270.9 262.0,274.5 257.6,276.0 254.4,276.9 251.7,279.0 250.1,281.7 250.2,284.9 249.5,288.6 248.7,292.3 247.2,296.0 245.7,299.7 243.2,301.7 241.3,304.2 238.4,305.0 235.4,305.7 232.4,306.1 229.4,305.7 225.0,308.6 222.9,311.7 220.5,314.5 218.0,317.9 214.6,320.5 211.7,322.1 208.7,323.4 205.2,325.0 202.8,327.9 199.4,329.4 196.9,332.3 193.7,335.1 190.9,338.2 188.0,340.5 185.0,342.7 183.1,346.5 180.7,350.1 179.2,353.5 176.9,356.3 174.5,359.0 172.0,361.3 169.7,363.7 168.3,366.9 166.0,369.3 162.9,372.1 160.5,375.5 157.5,374.0 154.5,370.5 156.7,367.9 158.5,365.0 160.0,362.0 161.3,359.1 162.0,356.0 160.0,353.0 157.0,350.1 154.3,347.5 151.0,345.6 148.0,343.6 145.2,341.2 142.3,340.3 139.2,340.6 136.3,339.7 133.3,339.2 130.4,338.2 127.4,338.2 124.5,337.2 121.5,336.8 120.4,333.2 120.0,329.4 118.4,325.9 115.5,323.4 112.7,320.3 109.6,317.5 111.2,314.6 112.6,311.6 114.9,308.0 118.5,305.7 122.3,304.3 126.0,302.7 129.7,302.3 133.3,302.7 137.1,301.5 140.7,299.7 143.6,297.4 146.6,295.3 149.2,293.4 151.0,290.8 154.2,288.1 157.0,285.0 159.7,282.3 161.5,279.0 162.2,275.9 163.7,273.1 164.4,270.0 167.2,267.9 169.7,265.6 171.8,262.7 172.3,258.9 173.3,255.3 174.4,252.0 175.0,248.5 174.8,245.0 172.8,241.1 170.3,237.5 167.0,235.2 163.0,234.5 159.1,234.4 155.5,236.0 151.8,236.0 148.0,236.0 146.6,232.3 145.2,228.6 143.9,225.8 143.7,222.7 142.0,218.7 139.2,215.3 134.8,212.3 130.7,213.9 127.4,216.8 125.2,219.0 123.0,221.2 121.9,224.8 121.5,228.6 119.6,232.2 118.5,236.0 114.0,237.5 114.9,234.6 114.4,231.5 115.5,228.6 114.5,224.7 112.6,221.2 113.4,217.5 114.0,213.8 116.5,211.1 118.5,208.0 120.6,204.9 123.0,202.0 126.8,200.7 130.4,199.0 132.3,196.1 133.6,192.8 134.8,189.6 137.3,187.7 139.2,185.2 140.0,182.2 141.7,179.7 143.6,177.3 145.2,174.8 147.6,171.2 149.6,167.4 150.6,163.7 152.8,160.6 154.0,157.0 157.1,155.0 160.0,152.6 161.4,149.6 164.0,147.5 166.0,145.0 167.0,141.9 168.2,138.8 169.8,135.9 171.8,133.3 173.5,130.1 175.3,127.0 177.8,124.4 181.2,122.4 185.0,121.5 190.0,123.0 194.1,122.7 198.0,124.0 195.0,119.0 191.6,117.9 188.3,116.9 185.0,115.5 181.5,113.9 177.8,112.6 174.1,110.9 170.3,109.6 166.5,108.6 163.0,106.7 159.4,105.2 155.5,105.2 151.6,105.3 148.0,103.7 144.3,102.4 140.7,100.7 136.3,102.2 133.4,103.3 130.4,103.7 133.3,99.2 136.2,98.3 139.2,97.8 140.1,94.5 142.2,91.8 143.5,87.5 143.7,83.0 142.0,80.1 140.7,77.0 137.4,79.6 133.3,80.7 131.8,77.0 130.4,72.6 127.4,73.1 124.4,74.0 120.6,74.0 117.0,72.6 114.0,74.7 111.0,77.0 106.7,80.0 103.7,79.2 103.7,74.0 102.7,71.1 102.2,68.1 97.8,71.1 95.7,68.8 93.3,66.7 87.4,65.9 86.0,69.6 83.2,68.0 80.0,68.1 76.8,66.1 73.0,65.3 69.6,63.7 68.9,59.3 69.1,56.2 68.1,53.3 65.2,52.3 62.2,51.8 58.8,50.9 55.3,50.2 52.3,48.3 48.9,47.4 45.5,45.8 42.3,43.7 38.5,43.0 34.0,40.0 31.0,37.3 27.2,35.8 23.7,34.0 20.9,31.6" fill="none" stroke="#111" stroke-width="1.5" stroke-dasharray="6,1" vector-effect="non-scaling-stroke"/><ellipse cx="291" cy="259" rx="4.5" ry="7" transform="rotate(35 291 259)" fill="#bfe5f9" stroke="#111" stroke-width="1.1"/><ellipse cx="279.5" cy="269.5" rx="2.6" ry="3.2" fill="#f4f4f4" stroke="#111" stroke-width="1"/><circle cx="315" cy="231.5" r="1.8" fill="#111"/><circle cx="254.5" cy="288.5" r="2.0" fill="#111"/><circle cx="213" cy="324" r="1.6" fill="#111"/><circle cx="300" cy="244" r="1.3" fill="#111"/><circle cx="232" cy="309" r="1.4" fill="#111"/></g></svg><text x="76.6" y="346.4" class="lgt" textLength="140" lengthAdjust="spacingAndGlyphs">Flood extent comparison</text><rect x="76.6" y="357.3" width="23.6" height="12.2" fill="#fde3a7" stroke="#9a8a66" stroke-width="0.8"/><text x="104.5" y="368.1" class="lgl">Both dry</text><rect x="76.6" y="375.2" width="23.6" height="12.2" fill="#f20000"/><text x="104.5" y="386.0" class="lgl">Sub-model wet</text><rect x="76.6" y="393.0" width="23.6" height="12.2" fill="#0a64e8"/><text x="104.5" y="403.8" class="lgl">Benchmark wet</text><rect x="76.6" y="410.9" width="23.6" height="12.2" fill="#8fd3f3"/><text x="104.5" y="421.7" class="lgl">Both wet</text><rect x="76.6" y="428.7" width="23.6" height="12.6" fill="#e4f0d8" stroke="#111" stroke-width="1.3" stroke-dasharray="4,1.5,1.2,1.5"/><rect x="93.0" y="429.7" width="6" height="10.6" fill="#cfe8f8"/><text x="104.5" y="439.5" class="lgl">Modelling boundary</text><text x="471.3" y="346.4" class="lgt" textLength="140" lengthAdjust="spacingAndGlyphs">Flood extent comparison</text><rect x="471.3" y="357.3" width="23.6" height="12.2" fill="#fde3a7" stroke="#9a8a66" stroke-width="0.8"/><text x="499.2" y="368.1" class="lgl">Both dry</text><text x="542.7" y="363.3" class="lgs">mparison</text><rect x="471.3" y="375.2" width="23.6" height="12.2" fill="#f20000"/><text x="499.2" y="386.0" class="lgl">Sub-model wet</text><rect x="471.3" y="393.0" width="23.6" height="12.2" fill="#0a64e8"/><text x="499.2" y="403.8" class="lgl">Benchmark wet</text><rect x="471.3" y="410.9" width="23.6" height="12.2" fill="#8fd3f3"/><text x="499.2" y="421.7" class="lgl">Both wet</text><rect x="471.3" y="428.7" width="23.6" height="12.6" fill="#e4f0d8" stroke="#111" stroke-width="1.3" stroke-dasharray="4,1.5,1.2,1.5"/><rect x="487.7" y="429.7" width="6" height="10.6" fill="#cfe8f8"/><text x="499.2" y="439.5" class="lgl">Modelling boundary</text><text x="864.0" y="348.2" class="lgt" textLength="140" lengthAdjust="spacingAndGlyphs">Flood extent comparison</text><rect x="864.0" y="359.1" width="23.6" height="12.2" fill="#fde3a7" stroke="#9a8a66" stroke-width="0.8"/><text x="891.9" y="369.9" class="lgl">Both dry</text><text x="935.4" y="369.6" class="lgs">ıparison</text><rect x="864.0" y="377.0" width="23.6" height="12.2" fill="#f20000"/><text x="891.9" y="387.8" class="lgl">Sub-model wet</text><rect x="864.0" y="394.8" width="23.6" height="12.2" fill="#0a64e8"/><text x="891.9" y="405.6" class="lgl">Benchmark wet</text><rect x="864.0" y="412.7" width="23.6" height="12.2" fill="#8fd3f3"/><text x="891.9" y="423.5" class="lgl">Both wet</text><rect x="864.0" y="430.5" width="23.6" height="12.6" fill="#e4f0d8" stroke="#111" stroke-width="1.3" stroke-dasharray="4,1.5,1.2,1.5"/><rect x="880.4" y="431.5" width="6" height="10.6" fill="#cfe8f8"/><text x="891.9" y="441.3" class="lgl">Modelling boundary</text><rect x="162" y="700" width="32.5" height="15" fill="#fbfbfb"/><text x="79.0" y="670.9" class="lgt" textLength="138.5" lengthAdjust="spacingAndGlyphs">Max. depth difference (m)</text><text x="79.0" y="689.1" class="lgt" textLength="48.5" lengthAdjust="spacingAndGlyphs">&lt;VALUE&gt;</text><rect x="78.9" y="696.5" width="23.8" height="11.8" fill="#0a46dc" stroke="#8a8a7a" stroke-width="0.6"/><text x="107.5" y="707.0" class="lgl">-0,2 - -0,15</text><rect x="78.9" y="714.0" width="23.8" height="11.8" fill="#1c9ad9" stroke="#8a8a7a" stroke-width="0.6"/><text x="107.5" y="724.5" class="lgl">-0,15 - -0,1</text><rect x="78.9" y="731.6" width="23.8" height="11.8" fill="#12bdf2" stroke="#8a8a7a" stroke-width="0.6"/><text x="107.5" y="742.1" class="lgl">-0,1 - -0,05</text><rect x="78.9" y="749.1" width="23.8" height="11.8" fill="#bfe5f9" stroke="#8a8a7a" stroke-width="0.6"/><text x="107.5" y="759.6" class="lgl">-0,05 - 0</text><rect x="78.9" y="766.7" width="23.8" height="11.8" fill="#fef3a8" stroke="#8a8a7a" stroke-width="0.6"/><text x="107.5" y="777.2" class="lgl">0 - 0,05</text><rect x="78.9" y="784.2" width="23.8" height="11.8" fill="#fdcb72" stroke="#8a8a7a" stroke-width="0.6"/><text x="107.5" y="794.8" class="lgl">0,05 - 0,1</text><rect x="78.9" y="801.8" width="23.8" height="11.8" fill="#fca800" stroke="#8a8a7a" stroke-width="0.6"/><text x="107.5" y="812.3" class="lgl">0,1 - 0,15</text><rect x="78.9" y="819.4" width="23.8" height="11.8" fill="#fca383" stroke="#8a8a7a" stroke-width="0.6"/><text x="107.5" y="829.9" class="lgl">0,15 - 0,2</text><rect x="78.9" y="836.9" width="23.8" height="11.8" fill="#fe5200" stroke="#8a8a7a" stroke-width="0.6"/><text x="107.5" y="847.4" class="lgl">0,2 - 0,25</text><rect x="78.9" y="854.5" width="23.8" height="11.8" fill="#e40000" stroke="#8a8a7a" stroke-width="0.6"/><text x="107.5" y="865.0" class="lgl">0,25 - 0,5</text><rect x="78.9" y="872.0" width="23.8" height="12" fill="#e4f0d8" stroke="#111" stroke-width="1.3" stroke-dasharray="4,1.5,1.2,1.5"/><rect x="95.5" y="873.0" width="6" height="10" fill="#cfe8f8"/><text x="107.5" y="882.5" class="lgl">modelling boundary</text><text x="473.3" y="674.5" class="lgt" textLength="138.5" lengthAdjust="spacingAndGlyphs">Max. depth difference (m)</text><text x="473.3" y="692.7" class="lgt" textLength="48.5" lengthAdjust="spacingAndGlyphs">&lt;VALUE&gt;</text><rect x="473.2" y="700.6" width="23.8" height="11.8" fill="#0a46dc" stroke="#8a8a7a" stroke-width="0.6"/><text x="501.8" y="711.1" class="lgl">-0,2 - -0,15</text><rect x="473.2" y="718.1" width="23.8" height="11.8" fill="#1c9ad9" stroke="#8a8a7a" stroke-width="0.6"/><text x="501.8" y="728.6" class="lgl">-0,15 - -0,1</text><rect x="473.2" y="735.5" width="23.8" height="11.8" fill="#12bdf2" stroke="#8a8a7a" stroke-width="0.6"/><text x="501.8" y="746.0" class="lgl">-0,1 - -0,05</text><rect x="473.2" y="753.0" width="23.8" height="11.8" fill="#bfe5f9" stroke="#8a8a7a" stroke-width="0.6"/><text x="501.8" y="763.5" class="lgl">-0,05 - 0</text><rect x="473.2" y="770.5" width="23.8" height="11.8" fill="#fef3a8" stroke="#8a8a7a" stroke-width="0.6"/><text x="501.8" y="781.0" class="lgl">0 - 0,05</text><rect x="473.2" y="788.0" width="23.8" height="11.8" fill="#fdcb72" stroke="#8a8a7a" stroke-width="0.6"/><text x="501.8" y="798.5" class="lgl">0,05 - 0,1</text><rect x="473.2" y="805.4" width="23.8" height="11.8" fill="#fca800" stroke="#8a8a7a" stroke-width="0.6"/><text x="501.8" y="815.9" class="lgl">0,1 - 0,15</text><rect x="473.2" y="822.9" width="23.8" height="11.8" fill="#fca383" stroke="#8a8a7a" stroke-width="0.6"/><text x="501.8" y="833.4" class="lgl">0,15 - 0,2</text><rect x="473.2" y="840.4" width="23.8" height="11.8" fill="#fe5200" stroke="#8a8a7a" stroke-width="0.6"/><text x="501.8" y="850.9" class="lgl">0,2 - 0,25</text><rect x="473.2" y="857.8" width="23.8" height="11.8" fill="#e40000" stroke="#8a8a7a" stroke-width="0.6"/><text x="501.8" y="868.3" class="lgl">0,25 - 0,5</text><rect x="473.2" y="875.3" width="23.8" height="12" fill="#e4f0d8" stroke="#111" stroke-width="1.3" stroke-dasharray="4,1.5,1.2,1.5"/><rect x="489.8" y="876.3" width="6" height="10" fill="#cfe8f8"/><text x="501.8" y="885.8" class="lgl">modelling boundary</text><text x="865.9" y="674.8" class="lgt" textLength="138.5" lengthAdjust="spacingAndGlyphs">Max. depth difference (m)</text><text x="865.9" y="693.0" class="lgt" textLength="48.5" lengthAdjust="spacingAndGlyphs">&lt;VALUE&gt;</text><rect x="865.8" y="700.9" width="23.8" height="11.8" fill="#0a46dc" stroke="#8a8a7a" stroke-width="0.6"/><text x="894.4" y="711.4" class="lgl">-0,2 - -0,15</text><rect x="865.8" y="718.4" width="23.8" height="11.8" fill="#1c9ad9" stroke="#8a8a7a" stroke-width="0.6"/><text x="894.4" y="728.9" class="lgl">-0,15 - -0,1</text><rect x="865.8" y="735.8" width="23.8" height="11.8" fill="#12bdf2" stroke="#8a8a7a" stroke-width="0.6"/><text x="894.4" y="746.3" class="lgl">-0,1 - -0,05</text><rect x="865.8" y="753.3" width="23.8" height="11.8" fill="#bfe5f9" stroke="#8a8a7a" stroke-width="0.6"/><text x="894.4" y="763.8" class="lgl">-0,05 - 0</text><rect x="865.8" y="770.8" width="23.8" height="11.8" fill="#fef3a8" stroke="#8a8a7a" stroke-width="0.6"/><text x="894.4" y="781.3" class="lgl">0 - 0,05</text><rect x="865.8" y="788.2" width="23.8" height="11.8" fill="#fdcb72" stroke="#8a8a7a" stroke-width="0.6"/><text x="894.4" y="798.8" class="lgl">0,05 - 0,1</text><rect x="865.8" y="805.7" width="23.8" height="11.8" fill="#fca800" stroke="#8a8a7a" stroke-width="0.6"/><text x="894.4" y="816.2" class="lgl">0,1 - 0,15</text><rect x="865.8" y="823.2" width="23.8" height="11.8" fill="#fca383" stroke="#8a8a7a" stroke-width="0.6"/><text x="894.4" y="833.7" class="lgl">0,15 - 0,2</text><rect x="865.8" y="840.7" width="23.8" height="11.8" fill="#fe5200" stroke="#8a8a7a" stroke-width="0.6"/><text x="894.4" y="851.2" class="lgl">0,2 - 0,25</text><rect x="865.8" y="858.1" width="23.8" height="11.8" fill="#e40000" stroke="#8a8a7a" stroke-width="0.6"/><text x="894.4" y="868.6" class="lgl">0,25 - 0,5</text><rect x="865.8" y="875.6" width="23.8" height="12" fill="#e4f0d8" stroke="#111" stroke-width="1.3" stroke-dasharray="4,1.5,1.2,1.5"/><rect x="882.4" y="876.6" width="6" height="10" fill="#cfe8f8"/><text x="894.4" y="886.1" class="lgl">modelling boundary</text><text x="259.5" y="43.3" text-anchor="middle" class="pt">(a)</text><text x="653" y="43.3" text-anchor="middle" class="pt">(b)</text><text x="1056" y="43.3" text-anchor="middle" class="pt">(c)</text><text x="261" y="486" text-anchor="middle" class="pt">(d)</text><text x="653" y="486" text-anchor="middle" class="pt">(e)</text><text x="1054" y="486" text-anchor="middle" class="pt">(f)</text><text x="659" y="919.6" text-anchor="middle" class="pt">(g)</text><defs><clipPath id="lc2"><rect x="435.6" y="900" width="60" height="700"/></clipPath><clipPath id="lc3"><rect x="838.6" y="900" width="60" height="700"/></clipPath><clipPath id="axr1c1"><rect x="80.7" y="942.2" width="353.7" height="167.79999999999995"/></clipPath><clipPath id="axr1c2"><rect x="477.7" y="942.2" width="357.2" height="167.79999999999995"/></clipPath><clipPath id="axr1c3"><rect x="866.5" y="942.2" width="362.20000000000005" height="167.79999999999995"/></clipPath><clipPath id="axr2c1"><rect x="80.7" y="1144.7" width="353.7" height="168.5"/></clipPath><clipPath id="axr2c2"><rect x="477.7" y="1144.7" width="357.2" height="168.5"/></clipPath><clipPath id="axr2c3"><rect x="866.5" y="1144.7" width="362.20000000000005" height="168.5"/></clipPath><clipPath id="axr3c1"><rect x="80.7" y="1346.9" width="353.7" height="169.0"/></clipPath><clipPath id="axr3c2"><rect x="477.7" y="1346.9" width="357.2" height="169.0"/></clipPath><clipPath id="axr3c3"><rect x="866.5" y="1346.9" width="362.20000000000005" height="169.0"/></clipPath></defs><rect x="80.7" y="942.2" width="353.7" height="167.8" fill="#fff"/><g clip-path="url(#axr1c1)" fill="none" stroke-linejoin="round"><path d="M80.7,1110.0C93.9,1110.0 145.7,1109.9 160.0,1109.7C166.7,1109.5 160.0,1109.2 166.7,1109.0C174.5,1108.8 199.7,1109.3 207.0,1108.4C210.4,1107.5 209.1,1107.3 210.4,1103.5C211.7,1099.7 213.2,1092.6 214.9,1085.5C216.6,1078.4 218.8,1068.0 220.5,1060.9C222.2,1053.8 223.5,1047.5 225.0,1043.0C226.5,1038.5 227.6,1036.2 229.5,1034.0C231.4,1031.8 233.9,1030.8 236.2,1029.5C238.4,1028.2 240.8,1027.5 243.0,1026.0C245.2,1024.5 247.8,1022.3 249.7,1020.5C251.6,1018.7 252.0,1017.2 254.2,1015.0C256.4,1012.8 260.1,1009.1 263.1,1007.0C266.1,1004.9 269.0,1004.5 272.0,1002.6C275.0,1000.8 278.0,998.3 281.0,995.9C284.0,993.5 287.4,989.8 290.0,988.0C292.6,986.2 294.4,985.5 296.7,985.3C298.9,985.0 300.9,985.3 303.5,986.5C306.1,987.7 309.4,990.8 312.4,992.5C315.4,994.2 318.8,996.1 321.4,997.0C324.0,997.9 325.5,998.3 328.1,998.1C330.7,997.9 333.4,997.2 337.1,995.9C340.9,994.6 345.8,992.4 350.6,990.3C355.5,988.2 361.4,985.3 366.2,983.5C371.0,981.7 374.8,980.7 379.7,979.7C384.6,978.7 390.9,978.1 395.4,977.5C399.9,976.9 402.9,976.6 406.6,976.1C410.3,975.6 414.8,975.3 417.8,974.6C420.8,973.9 421.7,972.5 424.5,971.7C427.3,971.0 432.8,970.4 434.4,970.1" stroke="#d9534f" stroke-width="1.3"/><path d="M80.7,1110.0C93.9,1110.0 145.7,1109.9 160.0,1109.7C166.7,1109.5 160.0,1109.2 166.7,1109.0C174.5,1108.8 199.7,1109.3 207.0,1108.4C210.4,1107.5 209.1,1107.3 210.4,1103.5C211.7,1099.7 213.2,1092.6 214.9,1085.5C216.6,1078.4 218.8,1068.0 220.5,1060.9C222.2,1053.8 223.5,1047.5 225.0,1043.0C226.5,1038.5 227.6,1036.2 229.5,1034.0C231.4,1031.8 233.9,1030.8 236.2,1029.5C238.4,1028.2 240.8,1027.5 243.0,1026.0C245.2,1024.5 247.8,1022.3 249.7,1020.5C251.6,1018.7 252.0,1016.1 254.2,1015.0C256.4,1013.9 260.1,1014.4 263.1,1013.8C266.1,1013.1 269.0,1012.2 272.0,1011.1C275.0,1010.0 277.2,1008.7 281.0,1007.0C284.8,1005.3 290.8,1001.7 294.5,1001.0C298.2,1000.3 299.8,1001.2 303.5,1003.0C307.2,1004.8 312.4,1009.7 316.9,1011.6C321.4,1013.5 326.7,1014.3 330.4,1014.5C334.1,1014.7 335.9,1013.8 339.3,1012.7C342.7,1011.7 346.1,1009.5 350.6,1008.2C355.1,1006.9 360.6,1005.6 366.2,1004.8C371.8,1004.0 377.5,1003.5 384.2,1003.3C390.9,1003.0 400.0,1003.5 406.6,1003.3C413.2,1003.1 419.4,1002.6 424.0,1002.0C428.6,1001.4 432.7,1000.2 434.4,999.9" stroke="#5a5ad6" stroke-width="1.3"/><path d="M80.7,1110.0C93.9,1110.0 145.7,1109.9 160.0,1109.7C166.7,1109.5 160.0,1109.2 166.7,1109.0C174.5,1108.8 199.7,1109.3 207.0,1108.4C210.4,1107.5 209.1,1107.3 210.4,1103.5C211.7,1099.7 213.2,1092.6 214.9,1085.5C216.6,1078.4 218.8,1068.0 220.5,1060.9C222.2,1053.8 223.5,1047.5 225.0,1043.0C226.5,1038.5 227.6,1036.2 229.5,1034.0C231.4,1031.8 233.9,1030.8 236.2,1029.5C238.4,1028.2 240.8,1027.5 243.0,1026.0C245.2,1024.5 247.8,1022.3 249.7,1020.5C251.6,1018.7 252.0,1016.1 254.2,1015.0C256.4,1013.9 260.1,1014.4 263.1,1013.8C266.1,1013.1 269.0,1012.2 272.0,1011.1C275.0,1010.0 277.2,1008.7 281.0,1007.0C284.8,1005.3 290.8,1001.7 294.5,1001.0C298.2,1000.3 299.8,1001.2 303.5,1003.0C307.2,1004.8 312.4,1009.7 316.9,1011.6C321.4,1013.5 326.7,1014.3 330.4,1014.5C334.1,1014.7 335.9,1013.8 339.3,1012.7C342.7,1011.7 346.1,1009.5 350.6,1008.2C355.1,1006.9 360.6,1005.6 366.2,1004.8C371.8,1004.0 377.5,1003.5 384.2,1003.3C390.9,1003.0 400.6,1003.3 406.6,1003.3C412.6,1003.2 415.4,1003.2 420.0,1003.0C424.6,1002.8 432.0,1002.2 434.4,1002.1" stroke="#0b7a0b" stroke-width="2.0"/><path d="M80.7,1110.0C93.9,1110.0 145.7,1109.9 160.0,1109.7C166.7,1109.5 160.0,1109.2 166.7,1109.0C174.5,1108.8 199.7,1109.3 207.0,1108.4C210.4,1107.5 209.1,1107.3 210.4,1103.5C211.7,1099.7 213.2,1092.6 214.9,1085.5C216.6,1078.4 218.8,1068.0 220.5,1060.9C222.2,1053.8 223.5,1047.5 225.0,1043.0C226.5,1038.5 227.6,1036.2 229.5,1034.0C231.4,1031.8 233.9,1030.8 236.2,1029.5C238.4,1028.2 240.8,1027.5 243.0,1026.0C245.2,1024.5 247.8,1022.3 249.7,1020.5C251.6,1018.7 250.5,1017.4 254.2,1015.0C257.9,1012.6 266.8,1009.2 272.0,1006.0C277.2,1002.8 281.4,998.6 285.5,995.9C289.6,993.2 293.3,990.4 296.7,989.8C300.1,989.2 302.3,990.7 305.7,992.5C309.1,994.3 313.2,998.4 316.9,1000.4C320.6,1002.4 324.4,1003.8 328.1,1004.2C331.8,1004.6 333.7,1004.2 339.3,1002.6C344.9,1001.0 356.2,996.8 361.8,994.7C367.4,992.7 367.4,991.6 373.0,990.3C378.6,989.0 388.3,987.9 395.4,986.9C402.5,985.9 410.8,985.1 415.6,984.2C420.5,983.3 421.4,982.2 424.5,981.3C427.6,980.4 432.8,979.4 434.4,979.0" stroke="#f0c050" stroke-width="1.3"/></g><path d="M127.9,1110.0v-4M127.9,942.2v4M261.8,1110.0v-4M261.8,942.2v4M395.8,1110.0v-4M395.8,942.2v4M80.7,1110.0h4M434.4,1110.0h-4M80.7,1076.4h4M434.4,1076.4h-4M80.7,1042.9h4M434.4,1042.9h-4M80.7,1009.3h4M434.4,1009.3h-4M80.7,975.8h4M434.4,975.8h-4M80.7,942.2h4M434.4,942.2h-4" stroke="#666" stroke-width="1" fill="none"/><rect x="80.7" y="942.2" width="353.7" height="167.8" fill="none" stroke="#666" stroke-width="1.4"/><g><text x="76.2" y="1113.8" text-anchor="end" class="tk">0.00</text><text x="76.2" y="1080.2" text-anchor="end" class="tk">0.05</text><text x="76.2" y="1046.7" text-anchor="end" class="tk">0.10</text><text x="76.2" y="1013.1" text-anchor="end" class="tk">0.15</text><text x="76.2" y="979.6" text-anchor="end" class="tk">0.20</text><text x="76.2" y="946.0" text-anchor="end" class="tk">0.25</text></g><rect x="477.7" y="942.2" width="357.2" height="167.8" fill="#fff"/><g clip-path="url(#axr1c2)" fill="none" stroke-linejoin="round"><path d="M477.7,1110.4C491.4,1110.4 542.5,1110.7 560.0,1110.4C577.5,1110.1 574.9,1109.2 582.4,1108.6C589.9,1108.0 600.5,1108.9 604.8,1107.0C608.2,1105.1 606.7,1102.8 608.2,1097.0C609.7,1091.2 611.8,1080.5 613.8,1072.3C615.8,1064.1 618.2,1053.6 620.5,1047.6C622.8,1041.6 624.3,1039.0 627.3,1036.4C630.3,1033.8 634.4,1034.3 638.5,1031.9C642.6,1029.5 648.2,1023.8 651.9,1021.8C655.6,1019.8 657.9,1020.4 660.9,1019.6C663.9,1018.9 666.8,1019.0 669.8,1017.3C672.8,1015.6 675.8,1012.7 678.8,1009.5C681.8,1006.3 684.8,1002.4 687.8,998.3C690.8,994.2 693.8,989.3 696.8,984.8C699.8,980.3 702.4,975.5 705.7,971.4C709.1,967.3 713.2,962.8 716.9,960.2C720.6,957.7 724.4,956.9 728.1,956.1C731.8,955.3 735.5,955.6 739.3,955.2C743.0,954.8 745.0,953.6 750.6,953.5C756.2,953.4 765.5,954.2 773.0,954.6C780.5,955.0 787.9,955.6 795.4,956.1C802.9,956.6 812.6,957.6 817.8,957.5C823.0,957.4 823.9,955.6 826.8,955.2C829.6,954.8 833.5,955.2 834.9,955.2" stroke="#d9534f" stroke-width="1.3"/><path d="M477.7,1110.4C491.4,1110.4 542.5,1110.7 560.0,1110.4C577.5,1110.1 574.9,1109.2 582.4,1108.6C589.9,1108.0 600.5,1108.9 604.8,1107.0C608.2,1105.1 606.7,1102.8 608.2,1097.0C609.7,1091.2 611.8,1080.5 613.8,1072.3C615.8,1064.1 618.2,1053.6 620.5,1047.6C622.8,1041.6 624.3,1039.0 627.3,1036.4C630.3,1033.8 634.4,1034.3 638.5,1031.9C642.6,1029.5 648.2,1023.8 651.9,1021.8C655.6,1019.8 657.9,1020.4 660.9,1019.6C663.9,1018.9 666.8,1019.0 669.8,1017.3C672.8,1015.6 675.8,1012.7 678.8,1009.5C681.8,1006.3 684.4,1001.7 687.8,998.3C691.2,994.9 694.9,993.0 699.0,989.3C703.1,985.6 707.5,979.4 712.4,975.9C717.2,972.4 722.9,969.6 728.1,968.0C733.3,966.4 738.2,966.3 743.8,966.2C749.4,966.1 755.1,966.6 761.8,967.4C768.5,968.1 776.7,969.6 784.2,970.7C791.7,971.8 800.6,973.2 806.6,974.1C812.6,975.0 815.3,975.9 820.0,975.9C824.7,975.9 832.4,974.4 834.9,974.1" stroke="#5a5ad6" stroke-width="1.3"/><path d="M477.7,1110.4C491.4,1110.4 542.5,1110.7 560.0,1110.4C577.5,1110.1 574.9,1109.2 582.4,1108.6C589.9,1108.0 600.5,1108.9 604.8,1107.0C608.2,1105.1 606.7,1102.8 608.2,1097.0C609.7,1091.2 611.8,1080.5 613.8,1072.3C615.8,1064.1 618.2,1053.6 620.5,1047.6C622.8,1041.6 624.3,1039.0 627.3,1036.4C630.3,1033.8 634.4,1034.3 638.5,1031.9C642.6,1029.5 648.2,1023.8 651.9,1021.8C655.6,1019.8 657.9,1020.4 660.9,1019.6C663.9,1018.9 666.8,1019.0 669.8,1017.3C672.8,1015.6 675.8,1012.7 678.8,1009.5C681.8,1006.3 684.8,1002.4 687.8,998.3C690.8,994.2 693.8,989.3 696.8,984.8C699.8,980.3 702.4,975.5 705.7,971.4C709.1,967.3 713.2,962.8 716.9,960.2C720.6,957.7 724.4,956.9 728.1,956.1C731.8,955.3 735.5,955.0 739.3,955.2C743.0,955.4 745.0,956.5 750.6,957.5C756.2,958.5 765.5,960.1 773.0,961.3C780.5,962.5 787.9,963.5 795.4,964.7C802.9,965.9 812.9,967.8 817.8,968.5C822.6,969.2 821.6,969.0 824.5,968.7C827.4,968.4 833.2,967.2 834.9,966.9" stroke="#0b7a0b" stroke-width="2.0"/><path d="M477.7,1110.4C491.4,1110.4 542.5,1110.7 560.0,1110.4C577.5,1110.1 574.9,1109.2 582.4,1108.6C589.9,1108.0 600.5,1108.9 604.8,1107.0C608.2,1105.1 606.7,1102.8 608.2,1097.0C609.7,1091.2 611.8,1080.5 613.8,1072.3C615.8,1064.1 618.2,1053.6 620.5,1047.6C622.8,1041.6 624.3,1039.0 627.3,1036.4C630.3,1033.8 634.4,1034.3 638.5,1031.9C642.6,1029.5 648.2,1023.8 651.9,1021.8C655.6,1019.8 657.9,1020.4 660.9,1019.6C663.9,1018.9 666.8,1019.0 669.8,1017.3C672.8,1015.6 675.8,1012.7 678.8,1009.5C681.8,1006.3 684.8,1002.4 687.8,998.3C690.8,994.2 693.8,989.3 696.8,984.8C699.8,980.3 702.4,975.5 705.7,971.4C709.1,967.3 713.2,962.8 716.9,960.2C720.6,957.7 724.4,956.9 728.1,956.1C731.8,955.3 735.5,954.7 739.3,955.2C743.0,955.7 745.0,957.7 750.6,959.0C756.2,960.3 765.5,961.8 773.0,963.0C780.5,964.2 787.9,965.2 795.4,966.5C802.9,967.8 812.9,969.8 817.8,970.5C822.6,971.2 821.6,970.9 824.5,970.7C827.4,970.5 833.2,969.4 834.9,969.1" stroke="#f0c050" stroke-width="1.3"/></g><path d="M525.4,1110.0v-4M525.4,942.2v4M660.6,1110.0v-4M660.6,942.2v4M796.0,1110.0v-4M796.0,942.2v4M477.7,1110.0h4M834.9,1110.0h-4M477.7,1086.0h4M834.9,1086.0h-4M477.7,1062.1h4M834.9,1062.1h-4M477.7,1038.1h4M834.9,1038.1h-4M477.7,1014.1h4M834.9,1014.1h-4M477.7,990.1h4M834.9,990.1h-4M477.7,966.2h4M834.9,966.2h-4M477.7,942.2h4M834.9,942.2h-4" stroke="#666" stroke-width="1" fill="none"/><rect x="477.7" y="942.2" width="357.2" height="167.8" fill="none" stroke="#666" stroke-width="1.4"/><g clip-path="url(#lc2)"><text x="473.2" y="1113.8" text-anchor="end" class="tk">0.00</text><text x="473.2" y="1089.8" text-anchor="end" class="tk">0.05</text><text x="473.2" y="1065.9" text-anchor="end" class="tk">0.10</text><text x="473.2" y="1041.9" text-anchor="end" class="tk">0.15</text><text x="473.2" y="1017.9" text-anchor="end" class="tk">0.20</text><text x="473.2" y="993.9" text-anchor="end" class="tk">0.25</text><text x="473.2" y="970.0" text-anchor="end" class="tk">0.30</text><text x="473.2" y="946.0" text-anchor="end" class="tk">0.35</text></g><rect x="866.5" y="942.2" width="362.2" height="167.8" fill="#fff"/><g clip-path="url(#axr1c3)" fill="none" stroke-linejoin="round"><path d="M866.5,1109.5C880.4,1109.5 927.4,1109.5 950.0,1109.3C972.6,1109.1 992.1,1109.7 1001.9,1108.2C1008.7,1106.7 1006.8,1104.2 1008.7,1100.3C1010.6,1096.3 1011.3,1090.2 1013.2,1084.5C1015.1,1078.8 1017.4,1071.3 1020.0,1066.4C1022.6,1061.5 1026.4,1058.1 1029.0,1055.1C1031.6,1052.1 1033.2,1051.6 1035.8,1048.4C1038.4,1045.2 1041.8,1038.6 1044.8,1036.0C1047.8,1033.4 1051.3,1033.9 1053.9,1032.6C1056.5,1031.3 1057.6,1031.8 1060.6,1028.0C1063.6,1024.2 1068.1,1015.6 1071.9,1010.0C1075.7,1004.4 1080.2,998.3 1083.2,994.2C1086.2,990.1 1087.4,987.8 1090.0,985.2C1092.6,982.6 1095.2,980.3 1099.0,978.4C1102.8,976.5 1107.3,975.8 1112.6,973.9C1117.9,972.0 1123.8,969.5 1130.6,967.1C1137.4,964.7 1145.7,961.4 1153.2,959.2C1160.7,957.0 1168.3,955.3 1175.8,954.0C1183.3,952.7 1192.4,951.9 1198.4,951.3C1204.4,950.7 1206.9,951.2 1211.9,950.2C1217.0,949.2 1225.9,946.4 1228.7,945.6" stroke="#d9534f" stroke-width="1.3"/><path d="M866.5,1109.5C880.4,1109.5 927.4,1109.5 950.0,1109.3C972.6,1109.1 992.1,1109.7 1001.9,1108.2C1008.7,1106.7 1006.8,1104.2 1008.7,1100.3C1010.6,1096.3 1011.3,1090.2 1013.2,1084.5C1015.1,1078.8 1018.1,1070.0 1020.0,1066.4C1021.9,1062.8 1022.2,1064.5 1024.5,1063.0C1026.8,1061.5 1030.1,1061.0 1033.5,1057.4C1036.9,1053.8 1040.3,1045.2 1044.8,1041.6C1049.3,1038.0 1055.7,1038.1 1060.6,1036.0C1065.5,1033.9 1070.0,1030.9 1074.2,1029.2C1078.4,1027.5 1082.1,1025.8 1085.5,1025.8C1088.9,1025.8 1090.8,1027.0 1094.5,1029.2C1098.2,1031.5 1102.7,1036.8 1108.0,1039.3C1113.3,1041.8 1118.6,1043.2 1126.1,1044.3C1133.6,1045.4 1143.0,1045.6 1153.2,1046.1C1163.4,1046.6 1176.9,1047.0 1187.1,1047.2C1197.3,1047.4 1207.3,1048.1 1214.2,1047.2C1221.1,1046.3 1226.3,1042.5 1228.7,1041.6" stroke="#5a5ad6" stroke-width="1.3"/><path d="M866.5,1109.5C880.4,1109.5 927.4,1109.5 950.0,1109.3C972.6,1109.1 992.1,1109.7 1001.9,1108.2C1008.7,1106.7 1006.8,1104.2 1008.7,1100.3C1010.6,1096.3 1011.3,1090.2 1013.2,1084.5C1015.1,1078.8 1017.4,1071.3 1020.0,1066.4C1022.6,1061.5 1026.4,1058.1 1029.0,1055.1C1031.6,1052.1 1033.2,1051.6 1035.8,1048.4C1038.4,1045.2 1041.8,1038.6 1044.8,1036.0C1047.8,1033.4 1051.3,1033.9 1053.9,1032.6C1056.5,1031.3 1057.6,1031.8 1060.6,1028.0C1063.6,1024.2 1068.1,1015.6 1071.9,1010.0C1075.7,1004.4 1080.9,997.4 1083.2,994.2C1085.5,991.0 1083.6,991.8 1085.5,990.8C1087.4,989.8 1090.8,987.5 1094.5,987.9C1098.2,988.3 1103.5,991.9 1108.0,993.1C1112.5,994.3 1115.9,994.9 1121.6,995.3C1127.2,995.7 1134.8,994.9 1141.9,995.3C1149.1,995.7 1157.0,996.6 1164.5,997.6C1172.0,998.6 1179.2,1000.5 1187.1,1001.4C1195.0,1002.3 1206.3,1003.7 1211.9,1003.2C1217.5,1002.8 1218.1,999.6 1220.9,998.7C1223.7,997.8 1227.4,997.8 1228.7,997.6" stroke="#0b7a0b" stroke-width="2.0"/><path d="M866.5,1109.5C880.4,1109.5 927.4,1109.5 950.0,1109.3C972.6,1109.1 992.1,1109.7 1001.9,1108.2C1008.7,1106.7 1006.8,1104.2 1008.7,1100.3C1010.6,1096.3 1011.3,1090.2 1013.2,1084.5C1015.1,1078.8 1017.4,1071.3 1020.0,1066.4C1022.6,1061.5 1026.4,1058.1 1029.0,1055.1C1031.6,1052.1 1033.2,1051.6 1035.8,1048.4C1038.4,1045.2 1041.8,1038.6 1044.8,1036.0C1047.8,1033.4 1051.3,1033.9 1053.9,1032.6C1056.5,1031.3 1057.6,1031.8 1060.6,1028.0C1063.6,1024.2 1068.1,1015.6 1071.9,1010.0C1075.7,1004.4 1079.8,997.3 1083.2,994.2C1086.6,991.1 1088.1,990.9 1092.2,991.5C1096.3,992.1 1102.3,996.0 1108.0,997.6C1113.7,999.2 1118.6,1000.5 1126.1,1001.4C1133.6,1002.3 1143.0,1002.2 1153.2,1003.2C1163.4,1004.2 1177.3,1006.2 1187.1,1007.1C1196.9,1008.0 1205.0,1009.2 1211.9,1008.9C1218.8,1008.6 1225.9,1006.1 1228.7,1005.5" stroke="#f0c050" stroke-width="1.3"/></g><path d="M914.9,1110.0v-4M914.9,942.2v4M1051.9,1110.0v-4M1051.9,942.2v4M1189.2,1110.0v-4M1189.2,942.2v4M866.5,1110.0h4M1228.7,1110.0h-4M866.5,1082.0h4M1228.7,1082.0h-4M866.5,1054.1h4M1228.7,1054.1h-4M866.5,1026.1h4M1228.7,1026.1h-4M866.5,998.1h4M1228.7,998.1h-4M866.5,970.2h4M1228.7,970.2h-4M866.5,942.2h4M1228.7,942.2h-4" stroke="#666" stroke-width="1" fill="none"/><rect x="866.5" y="942.2" width="362.2" height="167.8" fill="none" stroke="#666" stroke-width="1.4"/><g clip-path="url(#lc3)"><text x="862.0" y="1113.8" text-anchor="end" class="tk">0.00</text><text x="862.0" y="1085.8" text-anchor="end" class="tk">0.05</text><text x="862.0" y="1057.9" text-anchor="end" class="tk">0.10</text><text x="862.0" y="1029.9" text-anchor="end" class="tk">0.15</text><text x="862.0" y="1001.9" text-anchor="end" class="tk">0.20</text><text x="862.0" y="974.0" text-anchor="end" class="tk">0.25</text><text x="862.0" y="946.0" text-anchor="end" class="tk">0.30</text></g><rect x="80.7" y="1144.7" width="353.7" height="168.5" fill="#fff"/><g clip-path="url(#axr2c1)" fill="none" stroke-linejoin="round"><polyline points="80.7,1288.6 166.3,1288.6 169.7,1296.7 173.2,1294.4 180.2,1300.2 196.4,1300.2 201.1,1307.2 206.9,1302.5 211.5,1288.6 215.0,1294.4 219.7,1286.3 225.5,1238.7 230.1,1274.7 233.6,1292.1 242.9,1287.4 254.5,1289.8 266.1,1297.9 275.4,1304.8 284.7,1304.8 294.0,1307.6 307.9,1306.0 319.5,1300.2 328.8,1284.0 340.4,1272.3 349.7,1267.2 359.0,1264.2 368.3,1264.2 377.5,1261.2 391.5,1257.3 405.4,1253.3 419.3,1250.3 434.4,1228.2" stroke="#d9534f" stroke-width="1.3"/><polyline points="80.7,1288.6 166.3,1288.6 169.7,1296.7 173.2,1294.4 180.2,1300.2 196.4,1300.2 201.1,1307.2 206.9,1302.5 211.5,1288.6 215.0,1294.4 219.7,1286.3 225.5,1238.7 230.1,1274.7 233.6,1288.6 242.9,1292.1 252.2,1277.0 259.1,1272.3 270.7,1272.3 282.3,1271.2 289.3,1256.1 296.3,1249.1 305.6,1253.8 312.5,1263.0 319.5,1265.4 333.4,1253.8 342.7,1239.8 354.3,1231.7 370.6,1218.9 391.5,1214.8 405.4,1214.8 419.3,1218.9 434.4,1205.0" stroke="#5a5ad6" stroke-width="1.3"/><polyline points="80.7,1288.6 166.3,1288.6 169.7,1296.7 173.2,1294.4 180.2,1300.2 196.4,1300.2 201.1,1307.2 206.9,1302.5 211.5,1288.6 215.0,1294.4 219.7,1286.3 225.5,1238.7 230.1,1274.7 233.6,1288.6 242.9,1288.6 255.6,1266.5 266.1,1270.0 277.7,1268.9 289.3,1253.8 298.6,1251.4 310.2,1263.0 319.5,1263.0 333.4,1250.3 342.7,1238.7 354.3,1235.2 363.6,1228.2 375.2,1225.9 384.5,1230.5 389.1,1223.6 396.1,1227.1 405.4,1227.1 419.3,1224.7 426.3,1231.7 434.4,1222.4" stroke="#0b7a0b" stroke-width="2.0"/><polyline points="80.7,1288.6 166.3,1288.6 169.7,1296.7 173.2,1294.4 180.2,1300.2 196.4,1300.2 201.1,1307.2 201.1,1312.0 206.9,1302.5 211.5,1288.6 215.0,1294.4 219.7,1286.3 225.5,1242.0 230.1,1274.7 233.6,1288.6 242.9,1286.3 256.8,1266.5 270.7,1265.4 280.0,1253.8 289.3,1242.2 298.6,1235.2 307.9,1237.5 321.8,1248.0 331.1,1232.9 345.0,1209.7 359.0,1195.7 372.9,1186.4 389.1,1177.1 412.4,1167.9 417.0,1172.5 424.0,1163.2 434.4,1144.6" stroke="#f0c050" stroke-width="1.3"/></g><path d="M127.9,1313.2v-4M127.9,1144.7v4M261.8,1313.2v-4M261.8,1144.7v4M395.8,1313.2v-4M395.8,1144.7v4M80.7,1313.2h4M434.4,1313.2h-4M80.7,1289.1h4M434.4,1289.1h-4M80.7,1265.1h4M434.4,1265.1h-4M80.7,1241.0h4M434.4,1241.0h-4M80.7,1216.9h4M434.4,1216.9h-4M80.7,1192.8h4M434.4,1192.8h-4M80.7,1168.8h4M434.4,1168.8h-4M80.7,1144.7h4M434.4,1144.7h-4" stroke="#666" stroke-width="1" fill="none"/><rect x="80.7" y="1144.7" width="353.7" height="168.5" fill="none" stroke="#666" stroke-width="1.4"/><g><text x="76.2" y="1317.0" text-anchor="end" class="tk">−0.005</text><text x="76.2" y="1292.9" text-anchor="end" class="tk">0.000</text><text x="76.2" y="1268.9" text-anchor="end" class="tk">0.005</text><text x="76.2" y="1244.8" text-anchor="end" class="tk">0.010</text><text x="76.2" y="1220.7" text-anchor="end" class="tk">0.015</text><text x="76.2" y="1196.6" text-anchor="end" class="tk">0.020</text><text x="76.2" y="1172.6" text-anchor="end" class="tk">0.025</text><text x="76.2" y="1148.5" text-anchor="end" class="tk">0.030</text></g><rect x="477.7" y="1144.7" width="357.2" height="168.5" fill="#fff"/><g clip-path="url(#axr2c2)" fill="none" stroke-linejoin="round"><polyline points="477.7,1165.5 625.0,1165.5 626.9,1162.7 629.8,1175.5 633.6,1172.7 637.5,1178.4 642.3,1181.3 648.0,1191.9 655.7,1181.3 662.5,1190.0 670.1,1191.9 676.9,1188.0 683.6,1173.6 686.5,1175.5 691.3,1167.9 696.1,1171.7 699.0,1178.4 703.8,1195.7 709.5,1220.7 713.4,1243.8 719.1,1257.2 726.8,1268.7 734.5,1263.0 746.0,1251.5 757.6,1232.2 767.2,1216.9 780.6,1205.3 796.0,1197.6 811.4,1195.7 821.0,1193.8 826.8,1196.1 834.9,1194.2" stroke="#d9534f" stroke-width="1.3"/><polyline points="477.7,1165.5 625.0,1165.5 626.9,1162.7 629.8,1175.5 633.6,1172.7 637.5,1178.4 642.3,1181.3 648.0,1191.9 655.7,1181.3 662.5,1190.0 670.1,1191.9 676.9,1188.0 683.6,1173.6 686.5,1175.5 688.4,1179.4 696.1,1185.2 703.8,1198.0 709.5,1222.0 713.4,1248.0 721.1,1282.0 730.7,1305.3 746.0,1308.7 757.6,1305.3 772.9,1296.6 792.2,1286.0 819.1,1269.7 826.8,1277.4 834.9,1271.6" stroke="#5a5ad6" stroke-width="1.3"/><polyline points="477.7,1165.5 625.0,1165.5 626.9,1162.7 629.8,1175.5 633.6,1172.7 637.5,1178.4 642.3,1181.3 648.0,1191.9 655.7,1181.3 662.5,1190.0 670.1,1191.9 676.9,1188.0 683.6,1173.6 686.5,1175.5 691.3,1167.9 696.1,1171.7 699.0,1178.4 703.8,1195.7 709.5,1220.7 713.4,1247.6 721.1,1280.3 730.7,1304.3 738.4,1307.2 746.0,1308.7 753.7,1305.3 763.3,1297.6 782.6,1286.0 801.8,1272.6 817.1,1263.0 826.8,1268.7 834.9,1262.0" stroke="#0b7a0b" stroke-width="2.0"/><polyline points="477.7,1165.5 625.0,1165.5 626.9,1162.7 629.8,1175.5 633.6,1172.7 637.5,1178.4 642.3,1181.3 648.0,1191.9 655.7,1181.3 662.5,1190.0 670.1,1191.9 676.9,1188.0 683.6,1173.6 686.5,1175.5 691.3,1167.9 696.1,1171.7 699.0,1178.4 703.8,1195.7 709.5,1220.7 713.4,1239.9 721.1,1270.7 730.7,1295.6 738.4,1299.1 749.9,1298.0 763.3,1288.0 782.6,1276.4 801.8,1264.9 819.1,1257.2 824.8,1263.0 834.9,1256.3" stroke="#f0c050" stroke-width="1.3"/></g><path d="M525.4,1313.2v-4M525.4,1144.7v4M660.6,1313.2v-4M660.6,1144.7v4M796.0,1313.2v-4M796.0,1144.7v4M477.7,1313.2h4M834.9,1313.2h-4M477.7,1292.1h4M834.9,1292.1h-4M477.7,1271.1h4M834.9,1271.1h-4M477.7,1250.0h4M834.9,1250.0h-4M477.7,1229.0h4M834.9,1229.0h-4M477.7,1207.9h4M834.9,1207.9h-4M477.7,1186.8h4M834.9,1186.8h-4M477.7,1165.8h4M834.9,1165.8h-4M477.7,1144.7h4M834.9,1144.7h-4" stroke="#666" stroke-width="1" fill="none"/><rect x="477.7" y="1144.7" width="357.2" height="168.5" fill="none" stroke="#666" stroke-width="1.4"/><g clip-path="url(#lc2)"><text x="473.2" y="1317.0" text-anchor="end" class="tk">−0.0035</text><text x="473.2" y="1295.9" text-anchor="end" class="tk">−0.0030</text><text x="473.2" y="1274.9" text-anchor="end" class="tk">−0.0025</text><text x="473.2" y="1253.8" text-anchor="end" class="tk">−0.0020</text><text x="473.2" y="1232.8" text-anchor="end" class="tk">−0.0015</text><text x="473.2" y="1211.7" text-anchor="end" class="tk">−0.0010</text><text x="473.2" y="1190.6" text-anchor="end" class="tk">−0.0005</text><text x="473.2" y="1169.6" text-anchor="end" class="tk">0.0000</text><text x="473.2" y="1148.5" text-anchor="end" class="tk">0.0005</text></g><rect x="866.5" y="1144.7" width="362.2" height="168.5" fill="#fff"/><g clip-path="url(#axr2c3)" fill="none" stroke-linejoin="round"><polyline points="866.5,1181.6 987.0,1181.6 993.3,1180.0 995.8,1178.8 999.7,1163.3 1003.6,1165.2 1007.4,1198.1 1011.3,1203.9 1014.8,1268.9 1019.1,1209.8 1022.9,1174.9 1028.8,1171.0 1036.5,1180.7 1042.3,1196.2 1048.1,1225.3 1053.9,1268.9 1058.8,1236.9 1061.7,1182.6 1065.6,1174.9 1069.4,1184.6 1075.3,1211.7 1083.0,1229.1 1084.9,1231.1 1094.6,1213.6 1106.3,1182.6 1115.9,1163.3 1125.6,1149.7 1137.3,1145.4 1148.9,1149.7 1160.5,1155.5 1174.1,1161.3 1193.4,1169.1 1210.9,1173.9 1228.7,1176.4" stroke="#d9534f" stroke-width="1.3"/><polyline points="866.5,1181.6 987.0,1181.6 993.3,1180.0 995.8,1178.8 999.7,1163.3 1003.6,1165.2 1007.4,1198.1 1011.3,1203.9 1014.8,1264.0 1019.1,1209.8 1024.9,1166.2 1028.8,1164.8 1036.5,1168.1 1040.4,1167.1 1044.3,1172.9 1050.1,1198.1 1055.9,1225.3 1063.6,1242.7 1071.4,1264.0 1079.1,1295.0 1084.9,1308.6 1088.8,1306.6 1094.6,1291.1 1102.4,1256.3 1110.1,1221.4 1121.8,1202.0 1135.3,1196.2 1148.9,1188.4 1164.4,1186.1 1183.8,1185.5 1207.0,1184.2 1214.8,1188.4 1221.5,1200.1 1225.4,1195.2 1228.7,1198.1" stroke="#5a5ad6" stroke-width="1.3"/><polyline points="866.5,1181.6 987.0,1181.6 993.3,1180.0 995.8,1178.8 999.7,1163.3 1003.6,1165.2 1007.4,1198.1 1011.3,1203.9 1014.8,1258.0 1019.1,1209.8 1022.9,1174.9 1028.8,1171.0 1036.5,1180.7 1042.3,1196.2 1048.1,1225.3 1054.9,1256.3 1058.8,1236.9 1061.7,1182.6 1065.6,1174.9 1069.4,1184.6 1075.3,1211.7 1083.0,1229.1 1086.9,1238.8 1096.6,1237.8 1106.3,1225.3 1115.9,1202.0 1125.6,1190.4 1135.3,1186.1 1154.7,1189.4 1174.1,1193.3 1193.4,1191.3 1212.8,1184.6 1220.6,1181.7 1228.7,1182.6" stroke="#0b7a0b" stroke-width="2.0"/><polyline points="866.5,1181.6 987.0,1181.6 993.3,1180.0 995.8,1178.8 999.7,1163.3 1003.6,1165.2 1007.4,1198.1 1011.3,1203.9 1014.8,1248.0 1019.1,1209.8 1022.9,1174.9 1028.8,1171.0 1036.5,1180.7 1042.3,1196.2 1048.1,1225.3 1054.9,1256.3 1058.8,1236.9 1061.7,1182.6 1065.6,1174.9 1069.4,1184.6 1075.3,1211.7 1083.0,1229.1 1090.8,1231.1 1098.5,1229.1 1110.1,1213.6 1125.6,1192.3 1145.0,1188.4 1164.4,1192.3 1183.8,1194.3 1203.1,1191.3 1218.6,1193.3 1228.7,1196.2" stroke="#f0c050" stroke-width="1.3"/></g><path d="M914.9,1313.2v-4M914.9,1144.7v4M1051.9,1313.2v-4M1051.9,1144.7v4M1189.2,1313.2v-4M1189.2,1144.7v4M866.5,1294.9h4M1228.7,1294.9h-4M866.5,1257.4h4M1228.7,1257.4h-4M866.5,1220.0h4M1228.7,1220.0h-4M866.5,1182.5h4M1228.7,1182.5h-4" stroke="#666" stroke-width="1" fill="none"/><rect x="866.5" y="1144.7" width="362.2" height="168.5" fill="none" stroke="#666" stroke-width="1.4"/><g clip-path="url(#lc3)"><text x="862.0" y="1298.7" text-anchor="end" class="tk">−0.03</text><text x="862.0" y="1261.2" text-anchor="end" class="tk">−0.02</text><text x="862.0" y="1223.8" text-anchor="end" class="tk">−0.01</text><text x="862.0" y="1186.3" text-anchor="end" class="tk">0.00</text></g><rect x="80.7" y="1346.9" width="353.7" height="169.0" fill="#fff"/><g clip-path="url(#axr3c1)" fill="none" stroke-linejoin="round"><polyline points="80.7,1431.2 166.3,1431.2 168.6,1437.5 172.1,1435.2 176.7,1443.3 180.2,1443.8 196.4,1443.8 201.1,1456.1 204.6,1456.1 211.5,1502.5 215.0,1472.3 218.5,1450.3 223.1,1460.7 225.5,1461.9 230.1,1437.5 233.6,1428.9 242.9,1431.7 252.2,1432.9 259.1,1429.4 277.7,1429.4 289.3,1423.6 300.9,1418.9 306.7,1416.2 312.5,1420.1 324.1,1426.4 335.7,1424.7 347.4,1420.1 359.0,1414.3 370.6,1402.7 382.2,1395.7 393.8,1391.1 410.0,1384.1 420.5,1384.1 428.6,1363.2 434.4,1359.7" stroke="#d9534f" stroke-width="1.3"/><polyline points="80.7,1431.2 166.3,1431.2 168.6,1437.5 172.1,1435.2 176.7,1443.3 180.2,1443.8 196.4,1443.8 201.1,1456.1 204.6,1456.1 211.5,1502.5 215.0,1472.3 218.5,1450.3 223.1,1460.7 225.5,1461.9 230.1,1437.5 235.9,1430.5 240.5,1429.4 247.5,1435.2 254.5,1445.6 270.7,1448.0 282.3,1453.8 294.0,1470.0 300.9,1465.4 310.2,1451.4 319.5,1449.1 335.7,1451.4 354.3,1454.9 372.9,1463.0 393.8,1465.4 419.3,1460.7 427.5,1471.2 434.4,1468.9" stroke="#5a5ad6" stroke-width="1.3"/><polyline points="80.7,1431.2 166.3,1431.2 168.6,1437.5 172.1,1435.2 176.7,1443.3 180.2,1443.8 196.4,1443.8 201.1,1456.1 204.6,1456.1 211.5,1502.5 215.0,1472.3 218.5,1450.3 223.1,1460.7 225.5,1461.9 230.1,1437.5 235.9,1430.5 241.7,1431.7 247.5,1437.5 254.5,1451.4 261.4,1449.1 273.1,1451.4 282.3,1458.4 292.8,1473.5 300.9,1468.9 310.2,1453.8 321.8,1452.6 335.7,1456.1 359.0,1457.2 372.9,1463.0 393.8,1465.4 419.3,1460.3 427.5,1467.2 434.4,1466.5" stroke="#0b7a0b" stroke-width="2.0"/><polyline points="80.7,1431.2 166.3,1431.2 168.6,1440.0 170.5,1433.0 172.1,1437.0 174.0,1442.0 176.5,1434.0 178.0,1443.8 180.2,1443.8 196.4,1443.8 201.1,1456.1 204.6,1456.1 211.5,1502.5 215.0,1472.3 218.5,1450.3 223.1,1460.7 225.5,1461.9 230.1,1437.5 235.9,1430.5 241.7,1431.7 247.5,1437.5 254.5,1452.6 270.7,1453.8 280.0,1465.4 289.3,1479.3 296.3,1482.1 307.9,1472.3 324.1,1458.4 335.7,1457.2 347.4,1463.0 365.9,1472.3 370.6,1477.0 375.2,1471.2 384.5,1474.7 405.4,1477.0 421.6,1481.6 434.4,1477.0" stroke="#f0c050" stroke-width="1.3"/></g><path d="M127.9,1515.9v-4M127.9,1346.9v4M261.8,1515.9v-4M261.8,1346.9v4M395.8,1515.9v-4M395.8,1346.9v4M80.7,1515.9h4M434.4,1515.9h-4M80.7,1487.7h4M434.4,1487.7h-4M80.7,1459.6h4M434.4,1459.6h-4M80.7,1431.4h4M434.4,1431.4h-4M80.7,1403.2h4M434.4,1403.2h-4M80.7,1375.1h4M434.4,1375.1h-4M80.7,1346.9h4M434.4,1346.9h-4" stroke="#666" stroke-width="1" fill="none"/><rect x="80.7" y="1346.9" width="353.7" height="169.0" fill="none" stroke="#666" stroke-width="1.4"/><g><text x="76.2" y="1519.7" text-anchor="end" class="tk">−0.015</text><text x="76.2" y="1491.5" text-anchor="end" class="tk">−0.010</text><text x="76.2" y="1463.4" text-anchor="end" class="tk">−0.005</text><text x="76.2" y="1435.2" text-anchor="end" class="tk">0.000</text><text x="76.2" y="1407.0" text-anchor="end" class="tk">0.005</text><text x="76.2" y="1378.9" text-anchor="end" class="tk">0.010</text><text x="76.2" y="1350.7" text-anchor="end" class="tk">0.015</text></g><rect x="477.7" y="1346.9" width="357.2" height="169.0" fill="#fff"/><g clip-path="url(#axr3c2)" fill="none" stroke-linejoin="round"><polyline points="477.7,1516.0 562.8,1516.0 565.0,1508.0 567.0,1516.0 569.0,1504.0 572.0,1516.0 575.0,1509.0 578.0,1516.0 581.0,1505.0 584.0,1516.0 590.0,1516.0 598.0,1514.1 602.0,1506.1 605.0,1480.1 607.6,1440.0 609.4,1428.0 612.0,1460.1 615.0,1492.1 619.0,1500.1 627.0,1512.1 634.0,1514.5 648.0,1511.1 658.1,1513.7 674.1,1511.1 684.1,1513.7 694.1,1512.1 704.1,1506.1 714.1,1498.1 726.1,1497.1 734.1,1498.1 750.1,1502.1 770.1,1507.1 790.2,1509.7 810.2,1510.7 826.2,1509.7 834.9,1510.7" stroke="#d9534f" stroke-width="1.3"/><polyline points="477.7,1516.0 562.8,1516.0 565.0,1508.0 567.0,1516.0 569.0,1504.0 572.0,1516.0 575.0,1509.0 578.0,1516.0 581.0,1505.0 584.0,1516.0 590.0,1516.0 598.0,1514.1 602.0,1506.1 605.0,1480.1 609.4,1426.1 612.0,1460.1 615.0,1492.1 619.0,1500.1 627.0,1512.1 634.0,1514.5 648.0,1511.1 658.1,1513.7 674.1,1511.1 684.1,1513.7 694.1,1512.1 704.1,1506.1 714.1,1498.1 726.1,1493.1 734.1,1491.1 746.1,1491.1 770.1,1493.7 790.2,1495.7 810.2,1498.1 820.2,1499.1 834.9,1498.1" stroke="#0b7a0b" stroke-width="2.0"/><polyline points="477.7,1516.0 562.8,1516.0 565.0,1508.0 567.0,1516.0 569.0,1504.0 572.0,1516.0 575.0,1509.0 578.0,1516.0 581.0,1505.0 584.0,1516.0 590.0,1516.0 598.0,1514.1 602.0,1506.1 605.0,1480.1 607.6,1364.0 610.0,1420.0 612.0,1460.1 615.0,1492.1 619.0,1500.1 627.0,1512.1 634.0,1514.5 648.0,1511.1 658.1,1513.7 674.1,1511.1 684.1,1513.7 694.1,1512.1 704.1,1506.1 714.1,1498.1 726.1,1493.1 734.1,1491.1 746.1,1491.1 770.1,1493.7 790.2,1495.7 810.2,1498.1 820.2,1499.1 834.9,1498.1" stroke="#f0c050" stroke-width="1.3"/></g><path d="M525.4,1515.9v-4M525.4,1346.9v4M660.6,1515.9v-4M660.6,1346.9v4M796.0,1515.9v-4M796.0,1346.9v4M477.7,1515.9h4M834.9,1515.9h-4M477.7,1497.1h4M834.9,1497.1h-4M477.7,1478.3h4M834.9,1478.3h-4M477.7,1459.6h4M834.9,1459.6h-4M477.7,1440.8h4M834.9,1440.8h-4M477.7,1422.0h4M834.9,1422.0h-4M477.7,1403.2h4M834.9,1403.2h-4M477.7,1384.5h4M834.9,1384.5h-4M477.7,1365.7h4M834.9,1365.7h-4M477.7,1346.9h4M834.9,1346.9h-4" stroke="#666" stroke-width="1" fill="none"/><rect x="477.7" y="1346.9" width="357.2" height="169.0" fill="none" stroke="#666" stroke-width="1.4"/><g clip-path="url(#lc2)"><text x="473.2" y="1519.7" text-anchor="end" class="tk">0.000</text><text x="473.2" y="1500.9" text-anchor="end" class="tk">0.002</text><text x="473.2" y="1482.1" text-anchor="end" class="tk">0.004</text><text x="473.2" y="1463.4" text-anchor="end" class="tk">0.006</text><text x="473.2" y="1444.6" text-anchor="end" class="tk">0.008</text><text x="473.2" y="1425.8" text-anchor="end" class="tk">0.010</text><text x="473.2" y="1407.0" text-anchor="end" class="tk">0.012</text><text x="473.2" y="1388.3" text-anchor="end" class="tk">0.014</text><text x="473.2" y="1369.5" text-anchor="end" class="tk">0.016</text><text x="473.2" y="1350.7" text-anchor="end" class="tk">0.018</text></g><rect x="866.5" y="1346.9" width="362.2" height="169.0" fill="#fff"/><g clip-path="url(#axr3c3)" fill="none" stroke-linejoin="round"><polyline points="866.5,1482.1 952.3,1482.1 955.3,1472.5 962.8,1471.0 967.2,1467.5 973.2,1466.6 985.1,1466.6 988.7,1454.7 992.5,1453.2 1000.0,1370.0 1005.9,1414.5 1008.9,1459.1 1014.9,1483.0 1022.3,1485.3 1032.7,1484.5 1044.7,1491.9 1053.6,1493.4 1068.5,1487.4 1083.4,1488.0 1098.3,1485.3 1113.2,1488.9 1128.1,1491.9 1143.0,1491.9 1157.8,1488.9 1187.6,1485.9 1211.4,1484.5 1228.7,1482.4" stroke="#d9534f" stroke-width="1.3"/><polyline points="866.5,1482.1 952.3,1482.1 955.3,1472.5 962.8,1471.0 967.2,1467.5 973.2,1466.6 985.1,1466.6 988.7,1454.7 992.5,1453.2 1000.0,1370.0 1005.9,1414.5 1008.9,1459.1 1014.9,1483.0 1022.3,1485.3 1032.7,1484.5 1044.7,1490.4 1056.6,1490.4 1068.5,1496.4 1086.4,1498.8 1098.3,1494.9 1110.2,1487.4 1128.1,1485.3 1157.8,1485.3 1187.6,1485.3 1211.4,1484.5 1228.7,1487.4" stroke="#5a5ad6" stroke-width="1.3"/><polyline points="866.5,1482.1 952.3,1482.1 955.3,1472.5 962.8,1471.0 967.2,1467.5 973.2,1466.6 985.1,1466.6 988.7,1454.7 992.5,1453.2 1000.0,1366.8 1005.9,1414.5 1008.9,1459.1 1014.9,1483.0 1022.3,1485.3 1032.7,1484.5 1044.7,1496.4 1053.6,1498.8 1062.5,1490.4 1074.4,1491.9 1089.3,1498.8 1107.2,1495.5 1128.1,1497.9 1140.0,1499.3 1157.8,1497.0 1187.6,1491.9 1214.4,1488.0 1228.7,1490.4" stroke="#0b7a0b" stroke-width="2.0"/><polyline points="866.5,1482.1 952.3,1482.1 955.3,1472.5 962.8,1471.0 967.2,1467.5 973.2,1466.6 985.1,1466.6 988.7,1454.7 992.5,1453.2 1002.4,1346.0 1005.9,1414.5 1008.9,1459.1 1014.9,1483.0 1022.3,1485.3 1032.7,1484.5 1044.7,1493.4 1062.5,1491.3 1080.4,1494.9 1098.3,1497.9 1128.1,1496.4 1157.8,1493.4 1187.6,1490.4 1214.4,1487.4 1228.7,1490.4" stroke="#f0c050" stroke-width="1.3"/></g><path d="M914.9,1515.9v-4M914.9,1346.9v4M1051.9,1515.9v-4M1051.9,1346.9v4M1189.2,1515.9v-4M1189.2,1346.9v4M866.5,1515.9h4M1228.7,1515.9h-4M866.5,1482.1h4M1228.7,1482.1h-4M866.5,1448.3h4M1228.7,1448.3h-4M866.5,1414.5h4M1228.7,1414.5h-4M866.5,1380.7h4M1228.7,1380.7h-4M866.5,1346.9h4M1228.7,1346.9h-4" stroke="#666" stroke-width="1" fill="none"/><rect x="866.5" y="1346.9" width="362.2" height="169.0" fill="none" stroke="#666" stroke-width="1.4"/><g clip-path="url(#lc3)"><text x="862.0" y="1519.7" text-anchor="end" class="tk">−0.02</text><text x="862.0" y="1485.9" text-anchor="end" class="tk">0.00</text><text x="862.0" y="1452.1" text-anchor="end" class="tk">0.02</text><text x="862.0" y="1418.3" text-anchor="end" class="tk">0.04</text><text x="862.0" y="1384.5" text-anchor="end" class="tk">0.06</text><text x="862.0" y="1350.7" text-anchor="end" class="tk">0.08</text></g><text x="257.6" y="937.7" text-anchor="middle" class="ct">Point 6</text><text x="656.3" y="937.7" text-anchor="middle" class="ct">Point 10</text><text x="1047.6" y="937.7" text-anchor="middle" class="ct">Point 12</text><text x="127.9" y="1528.8" text-anchor="middle" class="tk">17:26:00</text><text x="261.8" y="1528.8" text-anchor="middle" class="tk">18:31:00</text><text x="395.8" y="1528.8" text-anchor="middle" class="tk">19:36:00</text><text x="257.6" y="1542.4" text-anchor="middle" class="tk">Time(H:M:S)</text><text x="525.4" y="1528.8" text-anchor="middle" class="tk">17:26:00</text><text x="660.6" y="1528.8" text-anchor="middle" class="tk">18:31:00</text><text x="796.0" y="1528.8" text-anchor="middle" class="tk">19:36:00</text><text x="656.3" y="1542.4" text-anchor="middle" class="tk">Time(H:M:S)</text><text x="914.9" y="1528.8" text-anchor="middle" class="tk">17:26:00</text><text x="1051.9" y="1528.8" text-anchor="middle" class="tk">18:31:00</text><text x="1189.2" y="1528.8" text-anchor="middle" class="tk">19:36:00</text><text x="1047.6" y="1542.4" text-anchor="middle" class="tk">Time(H:M:S)</text><text transform="translate(38.6,1026.1) rotate(-90)" text-anchor="middle" class="tk">Water Depth(m)</text><text transform="translate(35.6,1228.9) rotate(-90)" text-anchor="middle" class="tk">U-velocity(ms<tspan font-size="7" dy="-4">−1</tspan><tspan dy="4">)</tspan></text><text transform="translate(34.6,1431.4) rotate(-90)" text-anchor="middle" class="tk">V-velocity(ms<tspan font-size="7" dy="-4">−1</tspan><tspan dy="4">)</tspan></text><rect x="1015.3" y="1351.8" width="208.9" height="68.2" fill="#fff" stroke="#333" stroke-width="1.2"/><line x1="1022.4" y1="1361.9" x2="1040.6" y2="1361.9" stroke="#d9534f" stroke-width="1.3"/><text x="1053" y="1366.1" class="lg" textLength="158.7" lengthAdjust="spacingAndGlyphs">Closed<tspan font-weight="bold">–</tspan>boundary condition</text><line x1="1022.4" y1="1377.9" x2="1040.6" y2="1377.9" stroke="#5a5ad6" stroke-width="1.3"/><text x="1053" y="1382.1" class="lg" textLength="146.3" lengthAdjust="spacingAndGlyphs">Open<tspan font-weight="bold">–</tspan>boundary condtion</text><line x1="1022.4" y1="1393.9" x2="1040.6" y2="1393.9" stroke="#0b7a0b" stroke-width="2.2"/><text x="1053" y="1398.1" class="lg" textLength="165.3" lengthAdjust="spacingAndGlyphs">Optimal boundary condition</text><line x1="1022.4" y1="1409.9" x2="1040.6" y2="1409.9" stroke="#f0c050" stroke-width="1.3"/><text x="1053" y="1414.1" class="lg" textLength="65.8" lengthAdjust="spacingAndGlyphs">Benchmark</text><text x="29.3" y="1562.8" class="cap" textLength="1193.4" lengthAdjust="spacing">Basemap source: Esri, DigitalGlobe, GeoEye, Earthstar Geographics, CNES/Airbus DS, USDA, USGS, AEX, 724 Getmapping, Aerogrid, IGN, IGP, swisstopo, and the GIS User Community</text></svg></body></html>
